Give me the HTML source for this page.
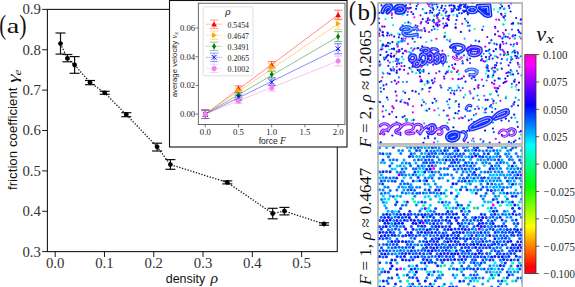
<!DOCTYPE html>
<html><head><meta charset="utf-8"><style>
html,body{margin:0;padding:0;background:#fff;}
body{width:575px;height:287px;overflow:hidden;position:relative;}
svg{position:absolute;left:0;top:0;}
</style></head><body>
<svg width="575" height="287" viewBox="0 0 575 287">
<rect x="47.4" y="9.4" width="289.90000000000003" height="242.2" fill="none" stroke="#1a1a1a" stroke-width="1.1"/>
<line x1="42.1" y1="9.40" x2="47.4" y2="9.40" stroke="#1a1a1a" stroke-width="1"/>
<text x="40.9" y="14.30" text-anchor="end" font-family='"Liberation Serif", serif' font-size="14.8" fill="#333">0.9</text>
<line x1="42.1" y1="49.77" x2="47.4" y2="49.77" stroke="#1a1a1a" stroke-width="1"/>
<text x="40.9" y="54.67" text-anchor="end" font-family='"Liberation Serif", serif' font-size="14.8" fill="#333">0.8</text>
<line x1="42.1" y1="90.14" x2="47.4" y2="90.14" stroke="#1a1a1a" stroke-width="1"/>
<text x="40.9" y="95.04" text-anchor="end" font-family='"Liberation Serif", serif' font-size="14.8" fill="#333">0.7</text>
<line x1="42.1" y1="130.51" x2="47.4" y2="130.51" stroke="#1a1a1a" stroke-width="1"/>
<text x="40.9" y="135.41" text-anchor="end" font-family='"Liberation Serif", serif' font-size="14.8" fill="#333">0.6</text>
<line x1="42.1" y1="170.88" x2="47.4" y2="170.88" stroke="#1a1a1a" stroke-width="1"/>
<text x="40.9" y="175.78" text-anchor="end" font-family='"Liberation Serif", serif' font-size="14.8" fill="#333">0.5</text>
<line x1="42.1" y1="211.25" x2="47.4" y2="211.25" stroke="#1a1a1a" stroke-width="1"/>
<text x="40.9" y="216.15" text-anchor="end" font-family='"Liberation Serif", serif' font-size="14.8" fill="#333">0.4</text>
<line x1="42.1" y1="251.62" x2="47.4" y2="251.62" stroke="#1a1a1a" stroke-width="1"/>
<text x="40.9" y="256.52" text-anchor="end" font-family='"Liberation Serif", serif' font-size="14.8" fill="#333">0.3</text>
<line x1="55.20" y1="251.6" x2="55.20" y2="257.0" stroke="#1a1a1a" stroke-width="1"/>
<text x="55.20" y="267.9" text-anchor="middle" font-family='"Liberation Serif", serif' font-size="14.8" fill="#333">0.0</text>
<line x1="104.48" y1="251.6" x2="104.48" y2="257.0" stroke="#1a1a1a" stroke-width="1"/>
<text x="104.48" y="267.9" text-anchor="middle" font-family='"Liberation Serif", serif' font-size="14.8" fill="#333">0.1</text>
<line x1="153.76" y1="251.6" x2="153.76" y2="257.0" stroke="#1a1a1a" stroke-width="1"/>
<text x="153.76" y="267.9" text-anchor="middle" font-family='"Liberation Serif", serif' font-size="14.8" fill="#333">0.2</text>
<line x1="203.04" y1="251.6" x2="203.04" y2="257.0" stroke="#1a1a1a" stroke-width="1"/>
<text x="203.04" y="267.9" text-anchor="middle" font-family='"Liberation Serif", serif' font-size="14.8" fill="#333">0.3</text>
<line x1="252.32" y1="251.6" x2="252.32" y2="257.0" stroke="#1a1a1a" stroke-width="1"/>
<text x="252.32" y="267.9" text-anchor="middle" font-family='"Liberation Serif", serif' font-size="14.8" fill="#333">0.4</text>
<line x1="301.60" y1="251.6" x2="301.60" y2="257.0" stroke="#1a1a1a" stroke-width="1"/>
<text x="301.60" y="267.9" text-anchor="middle" font-family='"Liberation Serif", serif' font-size="14.8" fill="#333">0.5</text>
<path d="M60.5,43.6 L67.4,58.3 L74.6,65.0 L90.0,82.4 L104.7,92.8 L126.3,114.7 L157.1,146.8 L170.4,164.6 L227.3,182.4 L272.7,213.5 L284.4,211.1 L324.1,224.0" fill="none" stroke="#111" stroke-width="1.3" stroke-dasharray="1.3 1.6"/>
<line x1="60.5" y1="33" x2="60.5" y2="54.1" stroke="#111" stroke-width="1.2"/>
<line x1="55.5" y1="33" x2="65.5" y2="33" stroke="#111" stroke-width="1.2"/>
<line x1="55.5" y1="54.1" x2="65.5" y2="54.1" stroke="#111" stroke-width="1.2"/>
<circle cx="60.5" cy="43.6" r="2.4" fill="#000"/>
<line x1="67.4" y1="54.5" x2="67.4" y2="61.8" stroke="#111" stroke-width="1.2"/>
<line x1="62.400000000000006" y1="54.5" x2="72.4" y2="54.5" stroke="#111" stroke-width="1.2"/>
<line x1="62.400000000000006" y1="61.8" x2="72.4" y2="61.8" stroke="#111" stroke-width="1.2"/>
<circle cx="67.4" cy="58.3" r="2.4" fill="#000"/>
<line x1="74.6" y1="56.6" x2="74.6" y2="73.3" stroke="#111" stroke-width="1.2"/>
<line x1="69.6" y1="56.6" x2="79.6" y2="56.6" stroke="#111" stroke-width="1.2"/>
<line x1="69.6" y1="73.3" x2="79.6" y2="73.3" stroke="#111" stroke-width="1.2"/>
<circle cx="74.6" cy="65.0" r="2.4" fill="#000"/>
<line x1="90.0" y1="80.5" x2="90.0" y2="84.7" stroke="#111" stroke-width="1.2"/>
<line x1="85.0" y1="80.5" x2="95.0" y2="80.5" stroke="#111" stroke-width="1.2"/>
<line x1="85.0" y1="84.7" x2="95.0" y2="84.7" stroke="#111" stroke-width="1.2"/>
<circle cx="90.0" cy="82.4" r="2.4" fill="#000"/>
<line x1="104.7" y1="91.3" x2="104.7" y2="94.3" stroke="#111" stroke-width="1.2"/>
<line x1="99.7" y1="91.3" x2="109.7" y2="91.3" stroke="#111" stroke-width="1.2"/>
<line x1="99.7" y1="94.3" x2="109.7" y2="94.3" stroke="#111" stroke-width="1.2"/>
<circle cx="104.7" cy="92.8" r="2.4" fill="#000"/>
<line x1="126.3" y1="112.7" x2="126.3" y2="116.7" stroke="#111" stroke-width="1.2"/>
<line x1="121.3" y1="112.7" x2="131.3" y2="112.7" stroke="#111" stroke-width="1.2"/>
<line x1="121.3" y1="116.7" x2="131.3" y2="116.7" stroke="#111" stroke-width="1.2"/>
<circle cx="126.3" cy="114.7" r="2.4" fill="#000"/>
<line x1="157.1" y1="143.2" x2="157.1" y2="151.0" stroke="#111" stroke-width="1.2"/>
<line x1="152.1" y1="143.2" x2="162.1" y2="143.2" stroke="#111" stroke-width="1.2"/>
<line x1="152.1" y1="151.0" x2="162.1" y2="151.0" stroke="#111" stroke-width="1.2"/>
<circle cx="157.1" cy="146.8" r="2.4" fill="#000"/>
<line x1="170.4" y1="159.6" x2="170.4" y2="169.3" stroke="#111" stroke-width="1.2"/>
<line x1="165.4" y1="159.6" x2="175.4" y2="159.6" stroke="#111" stroke-width="1.2"/>
<line x1="165.4" y1="169.3" x2="175.4" y2="169.3" stroke="#111" stroke-width="1.2"/>
<circle cx="170.4" cy="164.6" r="2.4" fill="#000"/>
<line x1="227.3" y1="180.9" x2="227.3" y2="183.9" stroke="#111" stroke-width="1.2"/>
<line x1="222.3" y1="180.9" x2="232.3" y2="180.9" stroke="#111" stroke-width="1.2"/>
<line x1="222.3" y1="183.9" x2="232.3" y2="183.9" stroke="#111" stroke-width="1.2"/>
<circle cx="227.3" cy="182.4" r="2.4" fill="#000"/>
<line x1="272.7" y1="208.3" x2="272.7" y2="218.8" stroke="#111" stroke-width="1.2"/>
<line x1="267.7" y1="208.3" x2="277.7" y2="208.3" stroke="#111" stroke-width="1.2"/>
<line x1="267.7" y1="218.8" x2="277.7" y2="218.8" stroke="#111" stroke-width="1.2"/>
<circle cx="272.7" cy="213.5" r="2.4" fill="#000"/>
<line x1="284.4" y1="207.4" x2="284.4" y2="214.9" stroke="#111" stroke-width="1.2"/>
<line x1="279.4" y1="207.4" x2="289.4" y2="207.4" stroke="#111" stroke-width="1.2"/>
<line x1="279.4" y1="214.9" x2="289.4" y2="214.9" stroke="#111" stroke-width="1.2"/>
<circle cx="284.4" cy="211.1" r="2.4" fill="#000"/>
<line x1="324.1" y1="222.8" x2="324.1" y2="225.2" stroke="#111" stroke-width="1.2"/>
<line x1="319.1" y1="222.8" x2="329.1" y2="222.8" stroke="#111" stroke-width="1.2"/>
<line x1="319.1" y1="225.2" x2="329.1" y2="225.2" stroke="#111" stroke-width="1.2"/>
<circle cx="324.1" cy="224.0" r="2.4" fill="#000"/>
<g transform="translate(165.702,283.300) scale(0.12460,0.12460)" fill="#111" ><text xml:space="preserve" x="0.00" y="0.00" font-family='"Liberation Sans", sans-serif' font-style="normal" font-size="100">density</text></g>
<g transform="translate(210.615,283.066) scale(0.15745,0.13971)" fill="#111" ><text xml:space="preserve" x="0.00" y="0.00" font-family='"Liberation Serif", serif' font-style="italic" font-size="100">ρ</text></g>
<g transform="translate(17.100,190.033) rotate(-90) scale(0.13329,0.13329)" fill="#111" ><text xml:space="preserve" x="0.00" y="0.00" font-family='"Liberation Sans", sans-serif' font-style="normal" font-size="100">friction coefficient</text></g>
<g transform="translate(17.966,82.935) rotate(-90) scale(0.21750,0.14925)" fill="#111" ><text xml:space="preserve" x="0.00" y="0.00" font-family='"Liberation Serif", serif' font-style="italic" font-size="100">γ</text></g>
<g transform="translate(20.590,75.500) rotate(-90) scale(0.13333,0.11042)" fill="#111" ><text xml:space="preserve" x="0.00" y="0.00" font-family='"Liberation Serif", serif' font-style="italic" font-size="100">e</text></g>
<g transform="translate(-0.831,34.100) scale(0.20769,0.26667)" fill="#111" ><text xml:space="preserve" x="0.00" y="0.00" font-family='"Liberation Serif", serif' font-style="normal" font-size="100">(</text></g>
<g transform="translate(6.672,32.683) scale(0.28205,0.21667)" fill="#111" ><text xml:space="preserve" x="0.00" y="0.00" font-family='"Liberation Serif", serif' font-style="normal" font-size="100">a</text></g>
<g transform="translate(19.242,34.100) scale(0.21923,0.26667)" fill="#111" ><text xml:space="preserve" x="0.00" y="0.00" font-family='"Liberation Serif", serif' font-style="normal" font-size="100">)</text></g>
<rect x="169.5" y="0.5" width="177.5" height="146.5" fill="#fff" stroke="#111" stroke-width="1.1"/>
<rect x="198.3" y="3.2" width="146.7" height="121.3" fill="none" stroke="#444" stroke-width="0.8"/>
<line x1="195.5" y1="114.10" x2="198.3" y2="114.10" stroke="#444" stroke-width="0.7"/>
<text x="195.1" y="117.05" text-anchor="end" font-family='"Liberation Serif", serif' font-size="8.7" fill="#222">0.00</text>
<line x1="195.5" y1="85.40" x2="198.3" y2="85.40" stroke="#444" stroke-width="0.7"/>
<text x="195.1" y="88.35" text-anchor="end" font-family='"Liberation Serif", serif' font-size="8.7" fill="#222">0.02</text>
<line x1="195.5" y1="56.70" x2="198.3" y2="56.70" stroke="#444" stroke-width="0.7"/>
<text x="195.1" y="59.65" text-anchor="end" font-family='"Liberation Serif", serif' font-size="8.7" fill="#222">0.04</text>
<line x1="195.5" y1="28.00" x2="198.3" y2="28.00" stroke="#444" stroke-width="0.7"/>
<text x="195.1" y="30.95" text-anchor="end" font-family='"Liberation Serif", serif' font-size="8.7" fill="#222">0.06</text>
<line x1="205.30" y1="124.5" x2="205.30" y2="127.3" stroke="#444" stroke-width="0.7"/>
<text x="205.30" y="134.7" text-anchor="middle" font-family='"Liberation Serif", serif' font-size="8.7" fill="#222">0.0</text>
<line x1="238.50" y1="124.5" x2="238.50" y2="127.3" stroke="#444" stroke-width="0.7"/>
<text x="238.50" y="134.7" text-anchor="middle" font-family='"Liberation Serif", serif' font-size="8.7" fill="#222">0.5</text>
<line x1="271.70" y1="124.5" x2="271.70" y2="127.3" stroke="#444" stroke-width="0.7"/>
<text x="271.70" y="134.7" text-anchor="middle" font-family='"Liberation Serif", serif' font-size="8.7" fill="#222">1.0</text>
<line x1="304.90" y1="124.5" x2="304.90" y2="127.3" stroke="#444" stroke-width="0.7"/>
<text x="304.90" y="134.7" text-anchor="middle" font-family='"Liberation Serif", serif' font-size="8.7" fill="#222">1.5</text>
<line x1="338.10" y1="124.5" x2="338.10" y2="127.3" stroke="#444" stroke-width="0.7"/>
<text x="338.10" y="134.7" text-anchor="middle" font-family='"Liberation Serif", serif' font-size="8.7" fill="#222">2.0</text>
<g transform="translate(258.715,143.900) scale(0.08522,0.08522)" fill="#222" ><text xml:space="preserve" x="0.00" y="0.00" font-family='"Liberation Sans", sans-serif' font-style="normal" font-size="100">force </text><text xml:space="preserve" x="250.08" y="0.00" font-family='"Liberation Serif", serif' font-style="italic" font-size="112">F</text></g>
<g transform="translate(176.500,97.212) rotate(-90) scale(0.07810,0.07810)" fill="#222" ><text xml:space="preserve" x="0.00" y="0.00" font-family='"Liberation Sans", sans-serif' font-style="normal" font-size="100">average velocity </text><text xml:space="preserve" x="750.34" y="0.00" font-family='"Liberation Serif", serif' font-style="italic" font-size="112">v</text><text xml:space="preserve" x="800.06" y="20.00" font-family='"Liberation Serif", serif' font-style="italic" font-size="80">x</text></g>
<line x1="205.3" y1="114.1" x2="338.1" y2="14.9" stroke="#ff0000" stroke-width="0.9" opacity="0.5"/>
<line x1="205.3" y1="114.1" x2="338.1" y2="23.8" stroke="#ffa500" stroke-width="0.9" opacity="0.5"/>
<line x1="205.3" y1="114.1" x2="338.1" y2="36.6" stroke="#008000" stroke-width="0.9" opacity="0.5"/>
<line x1="205.3" y1="114.1" x2="338.1" y2="48.8" stroke="#0000ff" stroke-width="0.9" opacity="0.5"/>
<line x1="205.3" y1="114.1" x2="338.1" y2="61.0" stroke="#ee82ee" stroke-width="0.9" opacity="0.5"/>
<g opacity="0.6"><line x1="205.3" y1="110.1" x2="205.3" y2="118.5" stroke="#ff0000" stroke-width="0.9"/><line x1="201.3" y1="110.1" x2="209.3" y2="110.1" stroke="#ff0000" stroke-width="0.9"/><line x1="201.3" y1="118.5" x2="209.3" y2="118.5" stroke="#ff0000" stroke-width="0.9"/></g>
<path d="M205.3,111.5 L208.10000000000002,116.53999999999999 L202.5,116.53999999999999Z" fill="#ff0000"/>
<g opacity="0.6"><line x1="238.5" y1="85.9" x2="238.5" y2="90.9" stroke="#ff0000" stroke-width="0.9"/><line x1="234.5" y1="85.9" x2="242.5" y2="85.9" stroke="#ff0000" stroke-width="0.9"/><line x1="234.5" y1="90.9" x2="242.5" y2="90.9" stroke="#ff0000" stroke-width="0.9"/></g>
<path d="M238.5,85.60000000000001 L241.3,90.64 L235.7,90.64Z" fill="#ff0000"/>
<g opacity="0.6"><line x1="271.70000000000005" y1="61.599999999999994" x2="271.70000000000005" y2="68.0" stroke="#ff0000" stroke-width="0.9"/><line x1="267.70000000000005" y1="61.599999999999994" x2="275.70000000000005" y2="61.599999999999994" stroke="#ff0000" stroke-width="0.9"/><line x1="267.70000000000005" y1="68.0" x2="275.70000000000005" y2="68.0" stroke="#ff0000" stroke-width="0.9"/></g>
<path d="M271.70000000000005,62.0 L274.50000000000006,67.03999999999999 L268.90000000000003,67.03999999999999Z" fill="#ff0000"/>
<g opacity="0.6"><line x1="338.1" y1="10.2" x2="338.1" y2="19.6" stroke="#ff0000" stroke-width="0.9"/><line x1="334.1" y1="10.2" x2="342.1" y2="10.2" stroke="#ff0000" stroke-width="0.9"/><line x1="334.1" y1="19.6" x2="342.1" y2="19.6" stroke="#ff0000" stroke-width="0.9"/></g>
<path d="M338.1,12.100000000000001 L340.90000000000003,17.14 L335.3,17.14Z" fill="#ff0000"/>
<g opacity="0.6"><line x1="205.3" y1="110.1" x2="205.3" y2="118.5" stroke="#ffa500" stroke-width="0.9"/><line x1="201.3" y1="110.1" x2="209.3" y2="110.1" stroke="#ffa500" stroke-width="0.9"/><line x1="201.3" y1="118.5" x2="209.3" y2="118.5" stroke="#ffa500" stroke-width="0.9"/></g>
<path d="M208.10000000000002,114.3 L203.06,117.1 L203.06,111.5Z" fill="#ffa500"/>
<g opacity="0.6"><line x1="238.5" y1="88.1" x2="238.5" y2="93.1" stroke="#ffa500" stroke-width="0.9"/><line x1="234.5" y1="88.1" x2="242.5" y2="88.1" stroke="#ffa500" stroke-width="0.9"/><line x1="234.5" y1="93.1" x2="242.5" y2="93.1" stroke="#ffa500" stroke-width="0.9"/></g>
<path d="M241.3,90.6 L236.26,93.39999999999999 L236.26,87.8Z" fill="#ffa500"/>
<g opacity="0.6"><line x1="271.70000000000005" y1="63.7" x2="271.70000000000005" y2="70.10000000000001" stroke="#ffa500" stroke-width="0.9"/><line x1="267.70000000000005" y1="63.7" x2="275.70000000000005" y2="63.7" stroke="#ffa500" stroke-width="0.9"/><line x1="267.70000000000005" y1="70.10000000000001" x2="275.70000000000005" y2="70.10000000000001" stroke="#ffa500" stroke-width="0.9"/></g>
<path d="M274.50000000000006,66.9 L269.46000000000004,69.7 L269.46000000000004,64.10000000000001Z" fill="#ffa500"/>
<g opacity="0.6"><line x1="338.1" y1="18.1" x2="338.1" y2="29.5" stroke="#ffa500" stroke-width="0.9"/><line x1="334.1" y1="18.1" x2="342.1" y2="18.1" stroke="#ffa500" stroke-width="0.9"/><line x1="334.1" y1="29.5" x2="342.1" y2="29.5" stroke="#ffa500" stroke-width="0.9"/></g>
<path d="M340.90000000000003,23.8 L335.86,26.6 L335.86,21.0Z" fill="#ffa500"/>
<g opacity="0.6"><line x1="205.3" y1="110.1" x2="205.3" y2="118.5" stroke="#008000" stroke-width="0.9"/><line x1="201.3" y1="110.1" x2="209.3" y2="110.1" stroke="#008000" stroke-width="0.9"/><line x1="201.3" y1="118.5" x2="209.3" y2="118.5" stroke="#008000" stroke-width="0.9"/></g>
<path d="M205.3,111.22 L207.26000000000002,114.3 L205.3,117.38 L203.34,114.3Z" fill="#008000"/>
<g opacity="0.6"><line x1="238.5" y1="92.6" x2="238.5" y2="97.6" stroke="#008000" stroke-width="0.9"/><line x1="234.5" y1="92.6" x2="242.5" y2="92.6" stroke="#008000" stroke-width="0.9"/><line x1="234.5" y1="97.6" x2="242.5" y2="97.6" stroke="#008000" stroke-width="0.9"/></g>
<path d="M238.5,92.02 L240.46,95.1 L238.5,98.17999999999999 L236.54,95.1Z" fill="#008000"/>
<g opacity="0.6"><line x1="271.70000000000005" y1="71.2" x2="271.70000000000005" y2="77.60000000000001" stroke="#008000" stroke-width="0.9"/><line x1="267.70000000000005" y1="71.2" x2="275.70000000000005" y2="71.2" stroke="#008000" stroke-width="0.9"/><line x1="267.70000000000005" y1="77.60000000000001" x2="275.70000000000005" y2="77.60000000000001" stroke="#008000" stroke-width="0.9"/></g>
<path d="M271.70000000000005,71.32000000000001 L273.66,74.4 L271.70000000000005,77.48 L269.74000000000007,74.4Z" fill="#008000"/>
<g opacity="0.6"><line x1="338.1" y1="31.6" x2="338.1" y2="41.6" stroke="#008000" stroke-width="0.9"/><line x1="334.1" y1="31.6" x2="342.1" y2="31.6" stroke="#008000" stroke-width="0.9"/><line x1="334.1" y1="41.6" x2="342.1" y2="41.6" stroke="#008000" stroke-width="0.9"/></g>
<path d="M338.1,33.52 L340.06,36.6 L338.1,39.68 L336.14000000000004,36.6Z" fill="#008000"/>
<g opacity="0.6"><line x1="205.3" y1="110.1" x2="205.3" y2="118.5" stroke="#0000ff" stroke-width="0.9"/><line x1="201.3" y1="110.1" x2="209.3" y2="110.1" stroke="#0000ff" stroke-width="0.9"/><line x1="201.3" y1="118.5" x2="209.3" y2="118.5" stroke="#0000ff" stroke-width="0.9"/></g>
<path d="M202.92000000000002,111.92 L207.68,116.67999999999999 M207.68,111.92 L202.92000000000002,116.67999999999999" stroke="#0000ff" stroke-width="1.0"/>
<g opacity="0.6"><line x1="238.5" y1="95.1" x2="238.5" y2="100.1" stroke="#0000ff" stroke-width="0.9"/><line x1="234.5" y1="95.1" x2="242.5" y2="95.1" stroke="#0000ff" stroke-width="0.9"/><line x1="234.5" y1="100.1" x2="242.5" y2="100.1" stroke="#0000ff" stroke-width="0.9"/></g>
<path d="M236.12,95.22 L240.88,99.97999999999999 M240.88,95.22 L236.12,99.97999999999999" stroke="#0000ff" stroke-width="1.0"/>
<g opacity="0.6"><line x1="271.70000000000005" y1="79.0" x2="271.70000000000005" y2="85.4" stroke="#0000ff" stroke-width="0.9"/><line x1="267.70000000000005" y1="79.0" x2="275.70000000000005" y2="79.0" stroke="#0000ff" stroke-width="0.9"/><line x1="267.70000000000005" y1="85.4" x2="275.70000000000005" y2="85.4" stroke="#0000ff" stroke-width="0.9"/></g>
<path d="M269.32000000000005,79.82000000000001 L274.08000000000004,84.58 M274.08000000000004,79.82000000000001 L269.32000000000005,84.58" stroke="#0000ff" stroke-width="1.0"/>
<g opacity="0.6"><line x1="338.1" y1="43.8" x2="338.1" y2="53.8" stroke="#0000ff" stroke-width="0.9"/><line x1="334.1" y1="43.8" x2="342.1" y2="43.8" stroke="#0000ff" stroke-width="0.9"/><line x1="334.1" y1="53.8" x2="342.1" y2="53.8" stroke="#0000ff" stroke-width="0.9"/></g>
<path d="M335.72,46.419999999999995 L340.48,51.18 M340.48,46.419999999999995 L335.72,51.18" stroke="#0000ff" stroke-width="1.0"/>
<g opacity="0.6"><line x1="205.3" y1="110.1" x2="205.3" y2="118.5" stroke="#ee82ee" stroke-width="0.9"/><line x1="201.3" y1="110.1" x2="209.3" y2="110.1" stroke="#ee82ee" stroke-width="0.9"/><line x1="201.3" y1="118.5" x2="209.3" y2="118.5" stroke="#ee82ee" stroke-width="0.9"/></g>
<circle cx="205.3" cy="114.3" r="2.52" fill="#ee82ee"/>
<g opacity="0.6"><line x1="238.5" y1="98.4" x2="238.5" y2="103.4" stroke="#ee82ee" stroke-width="0.9"/><line x1="234.5" y1="98.4" x2="242.5" y2="98.4" stroke="#ee82ee" stroke-width="0.9"/><line x1="234.5" y1="103.4" x2="242.5" y2="103.4" stroke="#ee82ee" stroke-width="0.9"/></g>
<circle cx="238.5" cy="100.9" r="2.52" fill="#ee82ee"/>
<g opacity="0.6"><line x1="271.70000000000005" y1="84.8" x2="271.70000000000005" y2="91.2" stroke="#ee82ee" stroke-width="0.9"/><line x1="267.70000000000005" y1="84.8" x2="275.70000000000005" y2="84.8" stroke="#ee82ee" stroke-width="0.9"/><line x1="267.70000000000005" y1="91.2" x2="275.70000000000005" y2="91.2" stroke="#ee82ee" stroke-width="0.9"/></g>
<circle cx="271.70000000000005" cy="88.0" r="2.52" fill="#ee82ee"/>
<g opacity="0.6"><line x1="338.1" y1="56.0" x2="338.1" y2="66.0" stroke="#ee82ee" stroke-width="0.9"/><line x1="334.1" y1="56.0" x2="342.1" y2="56.0" stroke="#ee82ee" stroke-width="0.9"/><line x1="334.1" y1="66.0" x2="342.1" y2="66.0" stroke="#ee82ee" stroke-width="0.9"/></g>
<circle cx="338.1" cy="61.0" r="2.52" fill="#ee82ee"/>
<rect x="203.2" y="6.8" width="49.8" height="69" rx="2" fill="#fff" fill-opacity="0.85" stroke="#d8d8d8" stroke-width="0.8"/>
<g transform="translate(225.126,15.400) scale(0.11277,0.11277)" fill="#222" ><text xml:space="preserve" x="0.00" y="0.00" font-family='"Liberation Serif", serif' font-style="italic" font-size="100">ρ</text></g>
<g opacity="0.45"><line x1="206.1" y1="24.2" x2="222.1" y2="24.2" stroke="#ff0000" stroke-width="0.9" stroke-dasharray="1.5 1"/><line x1="214.1" y1="20.0" x2="214.1" y2="28.4" stroke="#ff0000" stroke-width="0.9"/><line x1="209.79999999999998" y1="20.0" x2="218.4" y2="20.0" stroke="#ff0000" stroke-width="0.9"/><line x1="209.79999999999998" y1="28.4" x2="218.4" y2="28.4" stroke="#ff0000" stroke-width="0.9"/></g>
<path d="M214.1,21.4 L216.9,26.439999999999998 L211.29999999999998,26.439999999999998Z" fill="#ff0000"/>
<g transform="translate(227.488,27.500) scale(0.07807,0.07807)" fill="#222" ><text xml:space="preserve" x="0.00" y="0.00" font-family='"Liberation Serif", serif' font-style="normal" font-size="100">0.5454</text></g>
<g opacity="0.45"><line x1="206.1" y1="35.25" x2="222.1" y2="35.25" stroke="#ffa500" stroke-width="0.9" stroke-dasharray="1.5 1"/><line x1="214.1" y1="31.05" x2="214.1" y2="39.45" stroke="#ffa500" stroke-width="0.9"/><line x1="209.79999999999998" y1="31.05" x2="218.4" y2="31.05" stroke="#ffa500" stroke-width="0.9"/><line x1="209.79999999999998" y1="39.45" x2="218.4" y2="39.45" stroke="#ffa500" stroke-width="0.9"/></g>
<path d="M216.9,35.25 L211.85999999999999,38.05 L211.85999999999999,32.45Z" fill="#ffa500"/>
<g transform="translate(227.487,38.550) scale(0.07836,0.07836)" fill="#222" ><text xml:space="preserve" x="0.00" y="0.00" font-family='"Liberation Serif", serif' font-style="normal" font-size="100">0.4647</text></g>
<g opacity="0.45"><line x1="206.1" y1="46.3" x2="222.1" y2="46.3" stroke="#008000" stroke-width="0.9" stroke-dasharray="1.5 1"/><line x1="214.1" y1="42.099999999999994" x2="214.1" y2="50.5" stroke="#008000" stroke-width="0.9"/><line x1="209.79999999999998" y1="42.099999999999994" x2="218.4" y2="42.099999999999994" stroke="#008000" stroke-width="0.9"/><line x1="209.79999999999998" y1="50.5" x2="218.4" y2="50.5" stroke="#008000" stroke-width="0.9"/></g>
<path d="M214.1,43.22 L216.06,46.3 L214.1,49.379999999999995 L212.14,46.3Z" fill="#008000"/>
<g transform="translate(227.483,49.600) scale(0.07925,0.07925)" fill="#222" ><text xml:space="preserve" x="0.00" y="0.00" font-family='"Liberation Serif", serif' font-style="normal" font-size="100">0.3491</text></g>
<g opacity="0.45"><line x1="206.1" y1="57.35000000000001" x2="222.1" y2="57.35000000000001" stroke="#0000ff" stroke-width="0.9" stroke-dasharray="1.5 1"/><line x1="214.1" y1="53.150000000000006" x2="214.1" y2="61.55000000000001" stroke="#0000ff" stroke-width="0.9"/><line x1="209.79999999999998" y1="53.150000000000006" x2="218.4" y2="53.150000000000006" stroke="#0000ff" stroke-width="0.9"/><line x1="209.79999999999998" y1="61.55000000000001" x2="218.4" y2="61.55000000000001" stroke="#0000ff" stroke-width="0.9"/></g>
<path d="M211.72,54.970000000000006 L216.48,59.73000000000001 M216.48,54.970000000000006 L211.72,59.73000000000001" stroke="#0000ff" stroke-width="1.0"/>
<g transform="translate(227.485,60.650) scale(0.07865,0.07865)" fill="#222" ><text xml:space="preserve" x="0.00" y="0.00" font-family='"Liberation Serif", serif' font-style="normal" font-size="100">0.2065</text></g>
<g opacity="0.45"><line x1="206.1" y1="68.4" x2="222.1" y2="68.4" stroke="#ee82ee" stroke-width="0.9" stroke-dasharray="1.5 1"/><line x1="214.1" y1="64.2" x2="214.1" y2="72.60000000000001" stroke="#ee82ee" stroke-width="0.9"/><line x1="209.79999999999998" y1="64.2" x2="218.4" y2="64.2" stroke="#ee82ee" stroke-width="0.9"/><line x1="209.79999999999998" y1="72.60000000000001" x2="218.4" y2="72.60000000000001" stroke="#ee82ee" stroke-width="0.9"/></g>
<circle cx="214.1" cy="68.4" r="2.52" fill="#ee82ee"/>
<g transform="translate(227.483,71.700) scale(0.07925,0.07925)" fill="#222" ><text xml:space="preserve" x="0.00" y="0.00" font-family='"Liberation Serif", serif' font-style="normal" font-size="100">0.1002</text></g>
<g transform="translate(348.723,20.000) scale(0.21923,0.26667)" fill="#111" ><text xml:space="preserve" x="0.00" y="0.00" font-family='"Liberation Serif", serif' font-style="normal" font-size="100">(</text></g>
<g transform="translate(357.400,19.660) scale(0.25000,0.24000)" fill="#111" ><text xml:space="preserve" x="0.00" y="0.00" font-family='"Liberation Serif", serif' font-style="normal" font-size="100">b</text></g>
<g transform="translate(369.865,20.000) scale(0.21154,0.26667)" fill="#111" ><text xml:space="preserve" x="0.00" y="0.00" font-family='"Liberation Serif", serif' font-style="normal" font-size="100">)</text></g>
<rect x="378" y="3.0" width="144.3" height="141.0" fill="#fff" stroke="#aaa" stroke-width="1.4"/>
<rect x="378" y="146.2" width="144.3" height="145" fill="#fff" stroke="#aaa" stroke-width="1.4"/>
<defs><clipPath id="ctop"><rect x="378" y="2.5" width="144.4" height="141.5"/></clipPath><clipPath id="cbot"><rect x="378" y="146" width="144.4" height="145"/></clipPath></defs>
<g clip-path="url(#ctop)">
<circle cx="385.8" cy="6.1" r="1.1" fill="#cf00ff"/>
<circle cx="386.8" cy="3.9" r="1.1" fill="#0060ff"/>
<circle cx="378.9" cy="12.9" r="1.1" fill="#0300ff"/>
<circle cx="397.8" cy="5.5" r="1.1" fill="#0008ff"/>
<circle cx="393.1" cy="25.2" r="1.1" fill="#00ffea"/>
<circle cx="379.1" cy="23.1" r="1.1" fill="#1e00ff"/>
<circle cx="381.5" cy="5.3" r="1.1" fill="#0013ff"/>
<circle cx="392.0" cy="17.8" r="1.1" fill="#007fff"/>
<circle cx="391.1" cy="4.0" r="1.1" fill="#000dff"/>
<circle cx="388.3" cy="10.0" r="1.1" fill="#0097ff"/>
<circle cx="388.9" cy="9.7" r="1.1" fill="#8400ff"/>
<circle cx="391.8" cy="15.1" r="1.1" fill="#ff00f6"/>
<circle cx="395.5" cy="9.4" r="1.1" fill="#00ffd0"/>
<circle cx="396.2" cy="6.1" r="1.1" fill="#005bff"/>
<circle cx="378.9" cy="18.5" r="1.1" fill="#2c00ff"/>
<circle cx="385.5" cy="19.2" r="1.1" fill="#00e8ff"/>
<circle cx="391.9" cy="13.4" r="1.1" fill="#cd00ff"/>
<circle cx="417.9" cy="4.0" r="1.1" fill="#7c00ff"/>
<circle cx="417.5" cy="26.3" r="1.1" fill="#8600ff"/>
<circle cx="418.0" cy="3.0" r="1.1" fill="#0054ff"/>
<circle cx="406.0" cy="5.3" r="1.1" fill="#001aff"/>
<circle cx="407.9" cy="11.9" r="1.1" fill="#ff00f0"/>
<circle cx="403.9" cy="13.3" r="1.1" fill="#0049ff"/>
<circle cx="422.7" cy="9.2" r="1.1" fill="#0091ff"/>
<circle cx="410.6" cy="23.7" r="1.1" fill="#00ffbd"/>
<circle cx="407.6" cy="8.1" r="1.1" fill="#0061ff"/>
<circle cx="416.1" cy="8.8" r="1.1" fill="#0039ff"/>
<circle cx="415.6" cy="25.4" r="1.1" fill="#ab00ff"/>
<circle cx="414.4" cy="17.3" r="1.1" fill="#ff00fc"/>
<circle cx="420.7" cy="23.5" r="1.1" fill="#b900ff"/>
<circle cx="411.4" cy="12.1" r="1.1" fill="#0024ff"/>
<circle cx="403.6" cy="7.5" r="1.1" fill="#0025ff"/>
<circle cx="410.2" cy="3.8" r="1.1" fill="#0012ff"/>
<circle cx="410.7" cy="3.1" r="1.1" fill="#ff00d7"/>
<circle cx="416.7" cy="6.1" r="1.1" fill="#002fff"/>
<circle cx="404.9" cy="22.9" r="1.1" fill="#00ffd1"/>
<circle cx="413.2" cy="14.1" r="1.1" fill="#0002ff"/>
<circle cx="408.4" cy="22.4" r="1.1" fill="#0009ff"/>
<circle cx="402.6" cy="25.3" r="1.1" fill="#005aff"/>
<circle cx="402.6" cy="15.2" r="1.1" fill="#00ffdb"/>
<circle cx="422.7" cy="19.2" r="1.1" fill="#002aff"/>
<circle cx="420.5" cy="15.3" r="1.1" fill="#aa00ff"/>
<circle cx="409.9" cy="7.9" r="1.1" fill="#fe00ff"/>
<circle cx="421.3" cy="22.1" r="1.1" fill="#8700ff"/>
<circle cx="407.4" cy="14.9" r="1.1" fill="#0068ff"/>
<circle cx="408.7" cy="8.7" r="1.1" fill="#9400ff"/>
<circle cx="425.0" cy="13.2" r="1.1" fill="#00dbff"/>
<circle cx="410.8" cy="7.8" r="1.1" fill="#0022ff"/>
<circle cx="430.7" cy="7.4" r="1.1" fill="#0093ff"/>
<circle cx="437.5" cy="18.2" r="1.1" fill="#5300ff"/>
<circle cx="428.0" cy="18.4" r="1.1" fill="#ff00d9"/>
<circle cx="437.5" cy="6.8" r="1.1" fill="#3700ff"/>
<circle cx="434.0" cy="21.7" r="1.1" fill="#00ff85"/>
<circle cx="448.7" cy="19.9" r="1.1" fill="#0006ff"/>
<circle cx="429.0" cy="6.1" r="1.1" fill="#ff00dc"/>
<circle cx="445.8" cy="26.0" r="1.1" fill="#7400ff"/>
<circle cx="434.4" cy="15.7" r="1.1" fill="#4000ff"/>
<circle cx="441.6" cy="15.1" r="1.1" fill="#00ffb7"/>
<circle cx="436.4" cy="23.4" r="1.1" fill="#9c00ff"/>
<circle cx="433.0" cy="8.3" r="1.1" fill="#00afff"/>
<circle cx="432.2" cy="12.6" r="1.1" fill="#0000ff"/>
<circle cx="437.0" cy="16.5" r="1.1" fill="#ff00f0"/>
<circle cx="436.1" cy="24.5" r="1.1" fill="#0090ff"/>
<circle cx="426.4" cy="13.1" r="1.1" fill="#0024ff"/>
<circle cx="426.1" cy="21.7" r="1.1" fill="#0053ff"/>
<circle cx="439.4" cy="10.3" r="1.1" fill="#0067ff"/>
<circle cx="439.3" cy="21.3" r="1.1" fill="#0034ff"/>
<circle cx="432.6" cy="21.0" r="1.1" fill="#0077ff"/>
<circle cx="439.5" cy="20.7" r="1.1" fill="#f800ff"/>
<circle cx="438.1" cy="14.8" r="1.1" fill="#ac00ff"/>
<circle cx="436.9" cy="15.3" r="1.1" fill="#0047ff"/>
<circle cx="447.0" cy="25.1" r="1.1" fill="#002fff"/>
<circle cx="439.4" cy="25.1" r="1.1" fill="#a400ff"/>
<circle cx="436.6" cy="4.2" r="1.1" fill="#000eff"/>
<circle cx="427.8" cy="18.6" r="1.1" fill="#ab00ff"/>
<circle cx="443.2" cy="18.3" r="1.1" fill="#0028ff"/>
<circle cx="447.2" cy="25.7" r="1.1" fill="#0600ff"/>
<circle cx="437.7" cy="26.3" r="1.1" fill="#8100ff"/>
<circle cx="429.9" cy="12.9" r="1.1" fill="#0079ff"/>
<circle cx="433.6" cy="19.8" r="1.1" fill="#0008ff"/>
<circle cx="439.3" cy="13.1" r="1.1" fill="#0033ff"/>
<circle cx="438.3" cy="4.0" r="1.1" fill="#00ffe6"/>
<circle cx="444.9" cy="25.8" r="1.1" fill="#001dff"/>
<circle cx="444.7" cy="9.0" r="1.1" fill="#0012ff"/>
<circle cx="436.1" cy="24.4" r="1.1" fill="#9000ff"/>
<circle cx="448.1" cy="16.2" r="1.1" fill="#b100ff"/>
<circle cx="428.1" cy="3.9" r="1.1" fill="#7e00ff"/>
<circle cx="448.5" cy="17.7" r="1.1" fill="#9b00ff"/>
<circle cx="428.0" cy="23.0" r="1.1" fill="#0003ff"/>
<circle cx="434.1" cy="15.8" r="1.1" fill="#00ff83"/>
<circle cx="432.4" cy="5.6" r="1.1" fill="#006eff"/>
<circle cx="429.9" cy="3.7" r="1.1" fill="#000bff"/>
<circle cx="433.5" cy="9.8" r="1.1" fill="#8100ff"/>
<circle cx="430.3" cy="10.8" r="1.1" fill="#0c00ff"/>
<circle cx="432.0" cy="2.9" r="1.1" fill="#6f00ff"/>
<circle cx="437.4" cy="24.9" r="1.1" fill="#0023ff"/>
<circle cx="445.7" cy="12.9" r="1.1" fill="#0061ff"/>
<circle cx="438.2" cy="19.0" r="1.1" fill="#00ff82"/>
<circle cx="434.2" cy="22.5" r="1.1" fill="#6c00ff"/>
<circle cx="434.3" cy="3.8" r="1.1" fill="#0036ff"/>
<circle cx="427.7" cy="20.3" r="1.1" fill="#0014ff"/>
<circle cx="446.2" cy="23.4" r="1.1" fill="#a500ff"/>
<circle cx="432.8" cy="8.3" r="1.1" fill="#002fff"/>
<circle cx="436.7" cy="8.8" r="1.1" fill="#00ffb2"/>
<circle cx="449.3" cy="15.6" r="1.1" fill="#0100ff"/>
<circle cx="434.6" cy="2.5" r="1.1" fill="#0074ff"/>
<circle cx="437.4" cy="14.6" r="1.1" fill="#001fff"/>
<circle cx="432.3" cy="4.7" r="1.1" fill="#006fff"/>
<circle cx="427.0" cy="3.0" r="1.1" fill="#0017ff"/>
<circle cx="438.7" cy="20.5" r="1.1" fill="#db00ff"/>
<circle cx="443.2" cy="23.6" r="1.1" fill="#0094ff"/>
<circle cx="429.6" cy="19.9" r="1.1" fill="#0070ff"/>
<circle cx="427.1" cy="22.5" r="1.1" fill="#fd00ff"/>
<circle cx="445.5" cy="5.8" r="1.1" fill="#008fff"/>
<circle cx="438.1" cy="22.5" r="1.1" fill="#b300ff"/>
<circle cx="447.4" cy="18.9" r="1.1" fill="#5000ff"/>
<circle cx="431.5" cy="3.2" r="1.1" fill="#0026ff"/>
<circle cx="446.1" cy="15.9" r="1.1" fill="#00bcff"/>
<circle cx="465.0" cy="18.8" r="1.1" fill="#003dff"/>
<circle cx="468.0" cy="14.6" r="1.1" fill="#006eff"/>
<circle cx="465.8" cy="4.1" r="1.1" fill="#9100ff"/>
<circle cx="456.4" cy="20.0" r="1.1" fill="#000eff"/>
<circle cx="467.8" cy="25.9" r="1.1" fill="#0086ff"/>
<circle cx="466.4" cy="20.9" r="1.1" fill="#00aeff"/>
<circle cx="465.4" cy="4.4" r="1.1" fill="#001dff"/>
<circle cx="457.3" cy="16.1" r="1.1" fill="#1d00ff"/>
<circle cx="451.5" cy="9.0" r="1.1" fill="#7400ff"/>
<circle cx="457.0" cy="14.9" r="1.1" fill="#0096ff"/>
<circle cx="461.2" cy="5.3" r="1.1" fill="#ff00ca"/>
<circle cx="472.5" cy="2.9" r="1.1" fill="#0026ff"/>
<circle cx="469.7" cy="25.7" r="1.1" fill="#0071ff"/>
<circle cx="472.7" cy="7.6" r="1.1" fill="#00b1ff"/>
<circle cx="453.4" cy="15.1" r="1.1" fill="#00ffe7"/>
<circle cx="462.2" cy="23.8" r="1.1" fill="#de00ff"/>
<circle cx="455.6" cy="24.0" r="1.1" fill="#006dff"/>
<circle cx="461.8" cy="13.3" r="1.1" fill="#001bff"/>
<circle cx="453.4" cy="10.8" r="1.1" fill="#001bff"/>
<circle cx="468.0" cy="22.6" r="1.1" fill="#001dff"/>
<circle cx="496.2" cy="19.6" r="1.1" fill="#ff00e9"/>
<circle cx="483.4" cy="26.5" r="1.1" fill="#00a9ff"/>
<circle cx="482.7" cy="12.8" r="1.1" fill="#000cff"/>
<circle cx="494.0" cy="9.4" r="1.1" fill="#00ffb2"/>
<circle cx="504.0" cy="8.9" r="1.1" fill="#0065ff"/>
<circle cx="520.9" cy="23.7" r="1.1" fill="#c300ff"/>
<circle cx="513.1" cy="24.4" r="1.1" fill="#00ff62"/>
<circle cx="499.2" cy="20.1" r="1.1" fill="#007cff"/>
<circle cx="516.1" cy="18.0" r="1.1" fill="#3000ff"/>
<circle cx="501.1" cy="13.8" r="1.1" fill="#0004ff"/>
<circle cx="505.1" cy="20.2" r="1.1" fill="#00ffa7"/>
<circle cx="505.2" cy="15.9" r="1.1" fill="#0046ff"/>
<circle cx="502.0" cy="6.4" r="1.1" fill="#0600ff"/>
<circle cx="503.3" cy="24.3" r="1.1" fill="#00ff8c"/>
<circle cx="508.8" cy="5.9" r="1.1" fill="#0001ff"/>
<circle cx="500.2" cy="8.2" r="1.1" fill="#000bff"/>
<circle cx="511.7" cy="23.8" r="1.1" fill="#6100ff"/>
<circle cx="510.6" cy="11.5" r="1.1" fill="#0009ff"/>
<circle cx="499.5" cy="9.2" r="1.1" fill="#00ffd3"/>
<circle cx="513.1" cy="23.2" r="1.1" fill="#0100ff"/>
<circle cx="504.5" cy="8.5" r="1.1" fill="#00b0ff"/>
<circle cx="518.4" cy="23.4" r="1.1" fill="#0100ff"/>
<circle cx="498.8" cy="19.5" r="1.1" fill="#f800ff"/>
<circle cx="498.0" cy="11.9" r="1.1" fill="#00ffb6"/>
<circle cx="517.8" cy="23.0" r="1.1" fill="#00ffac"/>
<circle cx="501.7" cy="15.0" r="1.1" fill="#ac00ff"/>
<circle cx="520.6" cy="19.8" r="1.1" fill="#00c5ff"/>
<circle cx="511.2" cy="3.4" r="1.1" fill="#5400ff"/>
<circle cx="503.6" cy="24.6" r="1.1" fill="#00cfff"/>
<circle cx="504.0" cy="17.8" r="1.1" fill="#ad00ff"/>
<circle cx="500.7" cy="4.2" r="1.1" fill="#0087ff"/>
<circle cx="503.4" cy="16.9" r="1.1" fill="#002dff"/>
<circle cx="505.2" cy="13.6" r="1.1" fill="#00ff6e"/>
<circle cx="509.4" cy="8.1" r="1.1" fill="#0054ff"/>
<circle cx="521.1" cy="19.4" r="1.1" fill="#0d00ff"/>
<circle cx="394.2" cy="36.6" r="1.1" fill="#0016ff"/>
<circle cx="394.0" cy="48.7" r="1.1" fill="#0300ff"/>
<circle cx="388.1" cy="42.9" r="1.1" fill="#0015ff"/>
<circle cx="397.1" cy="44.2" r="1.1" fill="#005bff"/>
<circle cx="385.5" cy="46.2" r="1.1" fill="#3c00ff"/>
<circle cx="383.3" cy="44.8" r="1.1" fill="#0b00ff"/>
<circle cx="382.5" cy="31.9" r="1.1" fill="#0079ff"/>
<circle cx="394.0" cy="49.3" r="1.1" fill="#002fff"/>
<circle cx="401.4" cy="29.9" r="1.1" fill="#000dff"/>
<circle cx="379.4" cy="35.9" r="1.1" fill="#ff00c0"/>
<circle cx="401.9" cy="48.9" r="1.1" fill="#0041ff"/>
<circle cx="382.5" cy="49.0" r="1.1" fill="#e200ff"/>
<circle cx="387.1" cy="35.5" r="1.1" fill="#0012ff"/>
<circle cx="382.1" cy="26.6" r="1.1" fill="#004fff"/>
<circle cx="381.0" cy="49.6" r="1.1" fill="#2a00ff"/>
<circle cx="386.6" cy="46.2" r="1.1" fill="#8100ff"/>
<circle cx="389.4" cy="35.4" r="1.1" fill="#ff00de"/>
<circle cx="382.6" cy="35.2" r="1.1" fill="#ff00c6"/>
<circle cx="397.5" cy="44.9" r="1.1" fill="#0015ff"/>
<circle cx="378.8" cy="28.0" r="1.1" fill="#00ffa8"/>
<circle cx="399.6" cy="34.6" r="1.1" fill="#1e00ff"/>
<circle cx="401.0" cy="41.3" r="1.1" fill="#0022ff"/>
<circle cx="384.6" cy="26.6" r="1.1" fill="#6200ff"/>
<circle cx="400.0" cy="41.7" r="1.1" fill="#00ffce"/>
<circle cx="389.4" cy="49.5" r="1.1" fill="#00ffb1"/>
<circle cx="387.3" cy="32.5" r="1.1" fill="#00aeff"/>
<circle cx="382.4" cy="45.8" r="1.1" fill="#9700ff"/>
<circle cx="397.7" cy="45.0" r="1.1" fill="#00d7ff"/>
<circle cx="386.7" cy="45.3" r="1.1" fill="#0001ff"/>
<circle cx="382.7" cy="44.6" r="1.1" fill="#0013ff"/>
<circle cx="391.3" cy="34.3" r="1.1" fill="#00ffb0"/>
<circle cx="399.2" cy="50.2" r="1.1" fill="#000eff"/>
<circle cx="390.0" cy="43.5" r="1.1" fill="#0069ff"/>
<circle cx="383.6" cy="36.5" r="1.1" fill="#00e3ff"/>
<circle cx="398.3" cy="42.4" r="1.1" fill="#004fff"/>
<circle cx="398.2" cy="33.6" r="1.1" fill="#00f1ff"/>
<circle cx="382.8" cy="32.4" r="1.1" fill="#0d00ff"/>
<circle cx="381.7" cy="47.7" r="1.1" fill="#00d9ff"/>
<circle cx="401.8" cy="38.7" r="1.1" fill="#0300ff"/>
<circle cx="397.4" cy="42.2" r="1.1" fill="#00ffd7"/>
<circle cx="397.7" cy="46.7" r="1.1" fill="#ff00cf"/>
<circle cx="379.0" cy="33.5" r="1.1" fill="#0700ff"/>
<circle cx="392.0" cy="48.8" r="1.1" fill="#002aff"/>
<circle cx="398.8" cy="37.3" r="1.1" fill="#000dff"/>
<circle cx="380.5" cy="40.8" r="1.1" fill="#00ffe3"/>
<circle cx="383.2" cy="35.3" r="1.1" fill="#0014ff"/>
<circle cx="392.4" cy="42.1" r="1.1" fill="#0002ff"/>
<circle cx="378.3" cy="34.4" r="1.1" fill="#a500ff"/>
<circle cx="382.9" cy="45.6" r="1.1" fill="#0059ff"/>
<circle cx="379.5" cy="28.9" r="1.1" fill="#0094ff"/>
<circle cx="380.2" cy="30.4" r="1.1" fill="#7900ff"/>
<circle cx="387.8" cy="33.3" r="1.1" fill="#0100ff"/>
<circle cx="391.6" cy="35.1" r="1.1" fill="#0076ff"/>
<circle cx="398.7" cy="50.4" r="1.1" fill="#0060ff"/>
<circle cx="382.9" cy="26.6" r="1.1" fill="#ff00bf"/>
<circle cx="388.2" cy="46.2" r="1.1" fill="#0058ff"/>
<circle cx="405.9" cy="26.9" r="1.1" fill="#00e3ff"/>
<circle cx="417.4" cy="48.3" r="1.1" fill="#0034ff"/>
<circle cx="414.1" cy="30.0" r="1.1" fill="#0033ff"/>
<circle cx="414.5" cy="48.7" r="1.1" fill="#005aff"/>
<circle cx="425.2" cy="31.2" r="1.1" fill="#0018ff"/>
<circle cx="424.6" cy="49.9" r="1.1" fill="#0033ff"/>
<circle cx="411.3" cy="48.2" r="1.1" fill="#00afff"/>
<circle cx="421.8" cy="30.3" r="1.1" fill="#9b00ff"/>
<circle cx="422.3" cy="46.4" r="1.1" fill="#0700ff"/>
<circle cx="407.2" cy="36.1" r="1.1" fill="#0079ff"/>
<circle cx="407.9" cy="43.9" r="1.1" fill="#ff00d8"/>
<circle cx="403.0" cy="40.0" r="1.1" fill="#f800ff"/>
<circle cx="404.8" cy="40.9" r="1.1" fill="#00b9ff"/>
<circle cx="417.0" cy="33.8" r="1.1" fill="#0088ff"/>
<circle cx="417.8" cy="37.2" r="1.1" fill="#007dff"/>
<circle cx="402.6" cy="41.4" r="1.1" fill="#006bff"/>
<circle cx="420.7" cy="37.5" r="1.1" fill="#1f00ff"/>
<circle cx="413.4" cy="29.1" r="1.1" fill="#0029ff"/>
<circle cx="412.6" cy="38.7" r="1.1" fill="#0015ff"/>
<circle cx="417.3" cy="28.5" r="1.1" fill="#9d00ff"/>
<circle cx="403.3" cy="38.6" r="1.1" fill="#0090ff"/>
<circle cx="424.8" cy="29.8" r="1.1" fill="#ff00bf"/>
<circle cx="421.6" cy="31.1" r="1.1" fill="#00ffa9"/>
<circle cx="413.8" cy="49.5" r="1.1" fill="#ff00c9"/>
<circle cx="424.3" cy="28.1" r="1.1" fill="#0045ff"/>
<circle cx="420.1" cy="30.3" r="1.1" fill="#ff00ea"/>
<circle cx="405.4" cy="38.6" r="1.1" fill="#ff00bf"/>
<circle cx="407.0" cy="32.8" r="1.1" fill="#0072ff"/>
<circle cx="406.4" cy="30.4" r="1.1" fill="#00ffb7"/>
<circle cx="418.3" cy="48.0" r="1.1" fill="#0018ff"/>
<circle cx="414.7" cy="41.8" r="1.1" fill="#007cff"/>
<circle cx="447.0" cy="39.8" r="1.1" fill="#00bdff"/>
<circle cx="449.8" cy="41.6" r="1.1" fill="#0078ff"/>
<circle cx="445.1" cy="32.9" r="1.1" fill="#00ff83"/>
<circle cx="444.4" cy="37.1" r="1.1" fill="#002bff"/>
<circle cx="443.8" cy="27.7" r="1.1" fill="#9000ff"/>
<circle cx="449.6" cy="40.6" r="1.1" fill="#e100ff"/>
<circle cx="433.5" cy="26.5" r="1.1" fill="#0100ff"/>
<circle cx="436.4" cy="38.8" r="1.1" fill="#ff00c3"/>
<circle cx="429.2" cy="32.0" r="1.1" fill="#9500ff"/>
<circle cx="434.5" cy="29.1" r="1.1" fill="#006fff"/>
<circle cx="431.4" cy="40.5" r="1.1" fill="#00bbff"/>
<circle cx="437.4" cy="29.7" r="1.1" fill="#00ffec"/>
<circle cx="431.8" cy="30.1" r="1.1" fill="#0049ff"/>
<circle cx="444.8" cy="36.1" r="1.1" fill="#0051ff"/>
<circle cx="426.3" cy="42.0" r="1.1" fill="#00e6ff"/>
<circle cx="436.7" cy="49.0" r="1.1" fill="#d200ff"/>
<circle cx="432.0" cy="48.2" r="1.1" fill="#003eff"/>
<circle cx="455.7" cy="27.9" r="1.1" fill="#8600ff"/>
<circle cx="450.3" cy="39.7" r="1.1" fill="#00ffbf"/>
<circle cx="464.6" cy="38.7" r="1.1" fill="#00b7ff"/>
<circle cx="469.5" cy="30.7" r="1.1" fill="#001fff"/>
<circle cx="471.3" cy="45.3" r="1.1" fill="#a200ff"/>
<circle cx="450.2" cy="46.8" r="1.1" fill="#3800ff"/>
<circle cx="460.9" cy="31.9" r="1.1" fill="#000fff"/>
<circle cx="455.6" cy="27.4" r="1.1" fill="#001cff"/>
<circle cx="494.3" cy="43.6" r="1.1" fill="#0051ff"/>
<circle cx="487.3" cy="37.0" r="1.1" fill="#6600ff"/>
<circle cx="489.4" cy="49.7" r="1.1" fill="#0020ff"/>
<circle cx="495.1" cy="26.9" r="1.1" fill="#0017ff"/>
<circle cx="496.7" cy="44.4" r="1.1" fill="#1d00ff"/>
<circle cx="495.1" cy="34.4" r="1.1" fill="#0d00ff"/>
<circle cx="490.6" cy="42.5" r="1.1" fill="#00ff86"/>
<circle cx="485.3" cy="46.7" r="1.1" fill="#b700ff"/>
<circle cx="491.4" cy="40.2" r="1.1" fill="#0039ff"/>
<circle cx="479.1" cy="41.4" r="1.1" fill="#000bff"/>
<circle cx="474.6" cy="29.1" r="1.1" fill="#00ff9d"/>
<circle cx="482.3" cy="29.9" r="1.1" fill="#1800ff"/>
<circle cx="489.2" cy="43.2" r="1.1" fill="#a800ff"/>
<circle cx="475.6" cy="40.7" r="1.1" fill="#005aff"/>
<circle cx="495.4" cy="28.1" r="1.1" fill="#ed00ff"/>
<circle cx="495.9" cy="49.2" r="1.1" fill="#0017ff"/>
<circle cx="474.8" cy="46.8" r="1.1" fill="#ab00ff"/>
<circle cx="513.2" cy="46.3" r="1.1" fill="#00cdff"/>
<circle cx="500.3" cy="44.7" r="1.1" fill="#000cff"/>
<circle cx="505.7" cy="36.7" r="1.1" fill="#001dff"/>
<circle cx="515.2" cy="35.3" r="1.1" fill="#0000ff"/>
<circle cx="521.1" cy="38.6" r="1.1" fill="#ff00e7"/>
<circle cx="507.9" cy="37.0" r="1.1" fill="#8800ff"/>
<circle cx="506.3" cy="43.4" r="1.1" fill="#0063ff"/>
<circle cx="500.2" cy="46.2" r="1.1" fill="#2800ff"/>
<circle cx="498.0" cy="31.3" r="1.1" fill="#9700ff"/>
<circle cx="509.8" cy="38.3" r="1.1" fill="#9100ff"/>
<circle cx="502.4" cy="38.4" r="1.1" fill="#000eff"/>
<circle cx="520.7" cy="33.3" r="1.1" fill="#0033ff"/>
<circle cx="514.8" cy="38.5" r="1.1" fill="#0025ff"/>
<circle cx="516.9" cy="43.2" r="1.1" fill="#8000ff"/>
<circle cx="513.1" cy="35.0" r="1.1" fill="#009dff"/>
<circle cx="500.1" cy="47.8" r="1.1" fill="#1100ff"/>
<circle cx="502.9" cy="32.8" r="1.1" fill="#ff00fd"/>
<circle cx="519.2" cy="32.1" r="1.1" fill="#006fff"/>
<circle cx="510.8" cy="44.6" r="1.1" fill="#7200ff"/>
<circle cx="505.8" cy="30.2" r="1.1" fill="#6900ff"/>
<circle cx="513.9" cy="44.3" r="1.1" fill="#0053ff"/>
<circle cx="511.9" cy="29.5" r="1.1" fill="#005dff"/>
<circle cx="519.2" cy="32.2" r="1.1" fill="#002dff"/>
<circle cx="518.2" cy="30.2" r="1.1" fill="#1700ff"/>
<circle cx="503.9" cy="34.3" r="1.1" fill="#0062ff"/>
<circle cx="502.5" cy="49.9" r="1.1" fill="#bb00ff"/>
<circle cx="500.4" cy="49.6" r="1.1" fill="#0066ff"/>
<circle cx="517.1" cy="44.1" r="1.1" fill="#003aff"/>
<circle cx="502.7" cy="41.8" r="1.1" fill="#0012ff"/>
<circle cx="498.8" cy="36.1" r="1.1" fill="#c600ff"/>
<circle cx="514.6" cy="38.5" r="1.1" fill="#00dcff"/>
<circle cx="512.5" cy="36.2" r="1.1" fill="#9900ff"/>
<circle cx="519.8" cy="36.8" r="1.1" fill="#00c9ff"/>
<circle cx="503.5" cy="43.8" r="1.1" fill="#ff00ff"/>
<circle cx="516.6" cy="43.3" r="1.1" fill="#ff00f3"/>
<circle cx="508.9" cy="34.0" r="1.1" fill="#00f6ff"/>
<circle cx="500.3" cy="36.6" r="1.1" fill="#8000ff"/>
<circle cx="504.0" cy="36.7" r="1.1" fill="#0095ff"/>
<circle cx="512.9" cy="36.3" r="1.1" fill="#b100ff"/>
<circle cx="393.7" cy="69.2" r="1.1" fill="#0076ff"/>
<circle cx="389.8" cy="73.9" r="1.1" fill="#002fff"/>
<circle cx="396.8" cy="73.1" r="1.1" fill="#0073ff"/>
<circle cx="380.4" cy="64.3" r="1.1" fill="#0076ff"/>
<circle cx="393.3" cy="70.4" r="1.1" fill="#008fff"/>
<circle cx="387.8" cy="73.3" r="1.1" fill="#002aff"/>
<circle cx="396.3" cy="53.4" r="1.1" fill="#00ff7f"/>
<circle cx="386.5" cy="51.9" r="1.1" fill="#0020ff"/>
<circle cx="388.0" cy="60.6" r="1.1" fill="#9700ff"/>
<circle cx="386.5" cy="56.9" r="1.1" fill="#0020ff"/>
<circle cx="390.6" cy="55.8" r="1.1" fill="#0e00ff"/>
<circle cx="387.4" cy="55.6" r="1.1" fill="#0011ff"/>
<circle cx="393.2" cy="61.8" r="1.1" fill="#00fff7"/>
<circle cx="383.4" cy="73.6" r="1.1" fill="#0090ff"/>
<circle cx="397.6" cy="61.7" r="1.1" fill="#004dff"/>
<circle cx="391.2" cy="53.5" r="1.1" fill="#4f00ff"/>
<circle cx="384.4" cy="59.5" r="1.1" fill="#1a00ff"/>
<circle cx="388.2" cy="55.0" r="1.1" fill="#0021ff"/>
<circle cx="383.9" cy="57.7" r="1.1" fill="#0085ff"/>
<circle cx="388.3" cy="65.8" r="1.1" fill="#3f00ff"/>
<circle cx="398.5" cy="51.9" r="1.1" fill="#f200ff"/>
<circle cx="399.7" cy="69.3" r="1.1" fill="#0004ff"/>
<circle cx="378.4" cy="50.8" r="1.1" fill="#00ff70"/>
<circle cx="393.7" cy="56.5" r="1.1" fill="#000cff"/>
<circle cx="396.6" cy="58.8" r="1.1" fill="#0008ff"/>
<circle cx="399.7" cy="69.5" r="1.1" fill="#0900ff"/>
<circle cx="396.8" cy="66.5" r="1.1" fill="#ff00fa"/>
<circle cx="396.9" cy="70.6" r="1.1" fill="#002bff"/>
<circle cx="395.8" cy="61.0" r="1.1" fill="#fc00ff"/>
<circle cx="391.3" cy="56.8" r="1.1" fill="#0002ff"/>
<circle cx="379.4" cy="61.7" r="1.1" fill="#0300ff"/>
<circle cx="389.8" cy="62.5" r="1.1" fill="#006dff"/>
<circle cx="398.2" cy="61.7" r="1.1" fill="#00ccff"/>
<circle cx="394.0" cy="70.7" r="1.1" fill="#00acff"/>
<circle cx="379.8" cy="65.8" r="1.1" fill="#009eff"/>
<circle cx="378.7" cy="65.1" r="1.1" fill="#bf00ff"/>
<circle cx="401.6" cy="62.8" r="1.1" fill="#0079ff"/>
<circle cx="399.5" cy="51.3" r="1.1" fill="#6e00ff"/>
<circle cx="398.7" cy="59.3" r="1.1" fill="#0081ff"/>
<circle cx="390.6" cy="69.0" r="1.1" fill="#003dff"/>
<circle cx="391.3" cy="70.3" r="1.1" fill="#000dff"/>
<circle cx="397.9" cy="60.2" r="1.1" fill="#0073ff"/>
<circle cx="401.4" cy="66.2" r="1.1" fill="#d300ff"/>
<circle cx="385.9" cy="58.1" r="1.1" fill="#0046ff"/>
<circle cx="396.8" cy="51.5" r="1.1" fill="#6900ff"/>
<circle cx="399.3" cy="63.6" r="1.1" fill="#001dff"/>
<circle cx="382.6" cy="72.6" r="1.1" fill="#00c5ff"/>
<circle cx="393.8" cy="69.4" r="1.1" fill="#ff00ff"/>
<circle cx="393.0" cy="67.2" r="1.1" fill="#00e8ff"/>
<circle cx="394.3" cy="55.6" r="1.1" fill="#3700ff"/>
<circle cx="380.4" cy="54.9" r="1.1" fill="#000cff"/>
<circle cx="396.6" cy="72.4" r="1.1" fill="#4b00ff"/>
<circle cx="396.9" cy="64.0" r="1.1" fill="#1400ff"/>
<circle cx="409.2" cy="60.6" r="1.1" fill="#0049ff"/>
<circle cx="424.4" cy="51.8" r="1.1" fill="#00b4ff"/>
<circle cx="402.9" cy="53.4" r="1.1" fill="#2300ff"/>
<circle cx="412.7" cy="50.8" r="1.1" fill="#008bff"/>
<circle cx="416.2" cy="73.0" r="1.1" fill="#00ff7a"/>
<circle cx="404.4" cy="66.0" r="1.1" fill="#0016ff"/>
<circle cx="405.6" cy="50.9" r="1.1" fill="#0023ff"/>
<circle cx="425.2" cy="52.6" r="1.1" fill="#ff00ef"/>
<circle cx="405.1" cy="50.9" r="1.1" fill="#9600ff"/>
<circle cx="406.5" cy="51.7" r="1.1" fill="#ec00ff"/>
<circle cx="419.1" cy="71.0" r="1.1" fill="#d500ff"/>
<circle cx="419.0" cy="61.6" r="1.1" fill="#00ffcd"/>
<circle cx="408.1" cy="73.6" r="1.1" fill="#9b00ff"/>
<circle cx="417.6" cy="70.1" r="1.1" fill="#001bff"/>
<circle cx="409.5" cy="68.0" r="1.1" fill="#0002ff"/>
<circle cx="403.4" cy="59.3" r="1.1" fill="#00e8ff"/>
<circle cx="412.5" cy="66.7" r="1.1" fill="#0012ff"/>
<circle cx="417.5" cy="65.6" r="1.1" fill="#0088ff"/>
<circle cx="411.3" cy="69.4" r="1.1" fill="#00ffb9"/>
<circle cx="409.0" cy="52.0" r="1.1" fill="#00ff6f"/>
<circle cx="418.9" cy="70.4" r="1.1" fill="#0067ff"/>
<circle cx="422.0" cy="64.9" r="1.1" fill="#0057ff"/>
<circle cx="412.3" cy="71.8" r="1.1" fill="#007eff"/>
<circle cx="423.5" cy="69.9" r="1.1" fill="#0047ff"/>
<circle cx="402.0" cy="56.8" r="1.1" fill="#009aff"/>
<circle cx="423.3" cy="51.5" r="1.1" fill="#5d00ff"/>
<circle cx="421.5" cy="71.3" r="1.1" fill="#00d3ff"/>
<circle cx="421.4" cy="66.9" r="1.1" fill="#ff00bf"/>
<circle cx="410.3" cy="52.5" r="1.1" fill="#00c2ff"/>
<circle cx="420.0" cy="72.9" r="1.1" fill="#0032ff"/>
<circle cx="416.6" cy="66.8" r="1.1" fill="#0069ff"/>
<circle cx="420.0" cy="69.5" r="1.1" fill="#005aff"/>
<circle cx="404.1" cy="69.9" r="1.1" fill="#9900ff"/>
<circle cx="423.5" cy="71.7" r="1.1" fill="#004bff"/>
<circle cx="413.4" cy="64.6" r="1.1" fill="#0014ff"/>
<circle cx="418.8" cy="59.2" r="1.1" fill="#00b4ff"/>
<circle cx="411.7" cy="62.9" r="1.1" fill="#5600ff"/>
<circle cx="411.0" cy="53.0" r="1.1" fill="#00a8ff"/>
<circle cx="420.9" cy="54.2" r="1.1" fill="#00e1ff"/>
<circle cx="426.5" cy="51.3" r="1.1" fill="#00ffdb"/>
<circle cx="446.8" cy="62.2" r="1.1" fill="#00cdff"/>
<circle cx="436.2" cy="73.2" r="1.1" fill="#f200ff"/>
<circle cx="445.7" cy="73.6" r="1.1" fill="#0005ff"/>
<circle cx="430.3" cy="52.5" r="1.1" fill="#0016ff"/>
<circle cx="439.4" cy="71.4" r="1.1" fill="#0035ff"/>
<circle cx="427.5" cy="64.9" r="1.1" fill="#0083ff"/>
<circle cx="428.9" cy="73.5" r="1.1" fill="#0049ff"/>
<circle cx="449.0" cy="66.6" r="1.1" fill="#007eff"/>
<circle cx="436.8" cy="54.3" r="1.1" fill="#00ffcd"/>
<circle cx="426.9" cy="56.6" r="1.1" fill="#0070ff"/>
<circle cx="447.7" cy="72.2" r="1.1" fill="#ef00ff"/>
<circle cx="443.0" cy="66.0" r="1.1" fill="#00ffc4"/>
<circle cx="427.3" cy="54.0" r="1.1" fill="#df00ff"/>
<circle cx="433.2" cy="64.7" r="1.1" fill="#7300ff"/>
<circle cx="428.5" cy="58.3" r="1.1" fill="#0100ff"/>
<circle cx="430.0" cy="56.2" r="1.1" fill="#0000ff"/>
<circle cx="442.3" cy="50.8" r="1.1" fill="#9700ff"/>
<circle cx="448.3" cy="55.8" r="1.1" fill="#00ffb8"/>
<circle cx="446.8" cy="71.8" r="1.1" fill="#002bff"/>
<circle cx="448.3" cy="70.7" r="1.1" fill="#00c4ff"/>
<circle cx="436.9" cy="58.7" r="1.1" fill="#4400ff"/>
<circle cx="429.4" cy="55.8" r="1.1" fill="#0015ff"/>
<circle cx="443.1" cy="63.8" r="1.1" fill="#0009ff"/>
<circle cx="435.9" cy="54.2" r="1.1" fill="#0030ff"/>
<circle cx="470.1" cy="58.5" r="1.1" fill="#003aff"/>
<circle cx="471.7" cy="53.2" r="1.1" fill="#00ffae"/>
<circle cx="451.4" cy="72.0" r="1.1" fill="#a100ff"/>
<circle cx="456.9" cy="56.7" r="1.1" fill="#0b00ff"/>
<circle cx="458.7" cy="74.3" r="1.1" fill="#00ffbf"/>
<circle cx="456.9" cy="72.0" r="1.1" fill="#0023ff"/>
<circle cx="467.4" cy="57.5" r="1.1" fill="#00fcff"/>
<circle cx="458.2" cy="53.9" r="1.1" fill="#0015ff"/>
<circle cx="470.0" cy="63.1" r="1.1" fill="#0062ff"/>
<circle cx="455.2" cy="64.2" r="1.1" fill="#0300ff"/>
<circle cx="454.3" cy="69.0" r="1.1" fill="#9900ff"/>
<circle cx="452.1" cy="65.1" r="1.1" fill="#0064ff"/>
<circle cx="456.6" cy="55.4" r="1.1" fill="#00daff"/>
<circle cx="464.0" cy="55.4" r="1.1" fill="#0059ff"/>
<circle cx="467.6" cy="60.3" r="1.1" fill="#f100ff"/>
<circle cx="458.0" cy="70.7" r="1.1" fill="#ff00d1"/>
<circle cx="461.8" cy="50.9" r="1.1" fill="#e500ff"/>
<circle cx="456.4" cy="55.0" r="1.1" fill="#a200ff"/>
<circle cx="458.8" cy="54.4" r="1.1" fill="#0071ff"/>
<circle cx="462.5" cy="61.2" r="1.1" fill="#0070ff"/>
<circle cx="452.9" cy="67.7" r="1.1" fill="#b200ff"/>
<circle cx="467.1" cy="59.7" r="1.1" fill="#6d00ff"/>
<circle cx="451.5" cy="71.4" r="1.1" fill="#00ff72"/>
<circle cx="462.7" cy="63.4" r="1.1" fill="#001aff"/>
<circle cx="473.2" cy="55.9" r="1.1" fill="#0007ff"/>
<circle cx="493.6" cy="51.2" r="1.1" fill="#000cff"/>
<circle cx="490.8" cy="55.2" r="1.1" fill="#0041ff"/>
<circle cx="486.5" cy="67.4" r="1.1" fill="#0036ff"/>
<circle cx="494.9" cy="67.7" r="1.1" fill="#0100ff"/>
<circle cx="486.0" cy="57.2" r="1.1" fill="#0100ff"/>
<circle cx="483.7" cy="53.8" r="1.1" fill="#00bcff"/>
<circle cx="487.7" cy="68.4" r="1.1" fill="#002bff"/>
<circle cx="493.8" cy="73.0" r="1.1" fill="#009dff"/>
<circle cx="486.6" cy="60.0" r="1.1" fill="#00ffd7"/>
<circle cx="492.6" cy="58.6" r="1.1" fill="#002fff"/>
<circle cx="497.5" cy="69.8" r="1.1" fill="#ff00c8"/>
<circle cx="493.6" cy="70.8" r="1.1" fill="#0072ff"/>
<circle cx="496.4" cy="56.5" r="1.1" fill="#0076ff"/>
<circle cx="489.2" cy="59.2" r="1.1" fill="#0054ff"/>
<circle cx="486.1" cy="51.0" r="1.1" fill="#000cff"/>
<circle cx="497.3" cy="69.1" r="1.1" fill="#00ff71"/>
<circle cx="495.2" cy="71.7" r="1.1" fill="#004bff"/>
<circle cx="489.4" cy="56.9" r="1.1" fill="#8700ff"/>
<circle cx="496.2" cy="65.4" r="1.1" fill="#0f00ff"/>
<circle cx="486.5" cy="60.9" r="1.1" fill="#00ffa2"/>
<circle cx="489.5" cy="53.4" r="1.1" fill="#00acff"/>
<circle cx="496.9" cy="62.8" r="1.1" fill="#0046ff"/>
<circle cx="477.6" cy="53.5" r="1.1" fill="#0013ff"/>
<circle cx="481.0" cy="60.3" r="1.1" fill="#001bff"/>
<circle cx="487.1" cy="70.7" r="1.1" fill="#00baff"/>
<circle cx="487.7" cy="66.1" r="1.1" fill="#0025ff"/>
<circle cx="487.2" cy="65.2" r="1.1" fill="#008dff"/>
<circle cx="481.5" cy="56.3" r="1.1" fill="#003eff"/>
<circle cx="488.1" cy="50.8" r="1.1" fill="#0071ff"/>
<circle cx="494.7" cy="56.2" r="1.1" fill="#00e5ff"/>
<circle cx="497.7" cy="57.6" r="1.1" fill="#9400ff"/>
<circle cx="477.8" cy="52.1" r="1.1" fill="#ff00eb"/>
<circle cx="483.3" cy="61.1" r="1.1" fill="#9900ff"/>
<circle cx="476.6" cy="55.9" r="1.1" fill="#00ffa9"/>
<circle cx="482.1" cy="59.0" r="1.1" fill="#7100ff"/>
<circle cx="488.8" cy="70.9" r="1.1" fill="#3700ff"/>
<circle cx="491.8" cy="68.7" r="1.1" fill="#0074ff"/>
<circle cx="492.8" cy="67.5" r="1.1" fill="#ff00bf"/>
<circle cx="474.1" cy="68.9" r="1.1" fill="#0097ff"/>
<circle cx="485.9" cy="73.6" r="1.1" fill="#00feff"/>
<circle cx="494.9" cy="65.1" r="1.1" fill="#0057ff"/>
<circle cx="484.9" cy="61.5" r="1.1" fill="#8300ff"/>
<circle cx="511.3" cy="59.7" r="1.1" fill="#0600ff"/>
<circle cx="516.9" cy="70.9" r="1.1" fill="#007fff"/>
<circle cx="505.3" cy="54.0" r="1.1" fill="#00c1ff"/>
<circle cx="512.0" cy="52.6" r="1.1" fill="#00ff82"/>
<circle cx="518.1" cy="73.5" r="1.1" fill="#2000ff"/>
<circle cx="508.2" cy="72.4" r="1.1" fill="#0f00ff"/>
<circle cx="509.9" cy="72.6" r="1.1" fill="#a700ff"/>
<circle cx="510.9" cy="74.5" r="1.1" fill="#0099ff"/>
<circle cx="507.3" cy="59.1" r="1.1" fill="#00cfff"/>
<circle cx="506.4" cy="73.2" r="1.1" fill="#7900ff"/>
<circle cx="507.0" cy="60.1" r="1.1" fill="#00cbff"/>
<circle cx="511.8" cy="71.6" r="1.1" fill="#00ff78"/>
<circle cx="513.0" cy="74.4" r="1.1" fill="#0019ff"/>
<circle cx="510.7" cy="70.1" r="1.1" fill="#0044ff"/>
<circle cx="517.8" cy="62.8" r="1.1" fill="#3c00ff"/>
<circle cx="519.5" cy="67.1" r="1.1" fill="#ff00f9"/>
<circle cx="508.1" cy="54.3" r="1.1" fill="#0020ff"/>
<circle cx="510.3" cy="62.6" r="1.1" fill="#0008ff"/>
<circle cx="512.5" cy="59.0" r="1.1" fill="#00ffe9"/>
<circle cx="513.3" cy="51.5" r="1.1" fill="#0069ff"/>
<circle cx="514.6" cy="50.6" r="1.1" fill="#0039ff"/>
<circle cx="518.2" cy="64.6" r="1.1" fill="#a700ff"/>
<circle cx="511.3" cy="56.9" r="1.1" fill="#00a3ff"/>
<circle cx="510.8" cy="74.4" r="1.1" fill="#00d8ff"/>
<circle cx="501.8" cy="68.7" r="1.1" fill="#0012ff"/>
<circle cx="500.4" cy="54.6" r="1.1" fill="#005eff"/>
<circle cx="517.4" cy="52.0" r="1.1" fill="#0047ff"/>
<circle cx="516.5" cy="58.2" r="1.1" fill="#7d00ff"/>
<circle cx="504.4" cy="52.9" r="1.1" fill="#ff00d4"/>
<circle cx="512.0" cy="58.9" r="1.1" fill="#0076ff"/>
<circle cx="519.4" cy="64.5" r="1.1" fill="#00ffb6"/>
<circle cx="508.6" cy="65.4" r="1.1" fill="#3100ff"/>
<circle cx="518.5" cy="58.1" r="1.1" fill="#ff00d0"/>
<circle cx="517.6" cy="57.8" r="1.1" fill="#00a2ff"/>
<circle cx="520.8" cy="56.3" r="1.1" fill="#0077ff"/>
<circle cx="515.2" cy="55.8" r="1.1" fill="#0100ff"/>
<circle cx="517.0" cy="56.3" r="1.1" fill="#0038ff"/>
<circle cx="506.6" cy="55.0" r="1.1" fill="#00ff9c"/>
<circle cx="500.8" cy="63.3" r="1.1" fill="#004cff"/>
<circle cx="507.7" cy="52.1" r="1.1" fill="#000dff"/>
<circle cx="503.9" cy="55.1" r="1.1" fill="#0038ff"/>
<circle cx="503.7" cy="51.3" r="1.1" fill="#8000ff"/>
<circle cx="514.9" cy="52.7" r="1.1" fill="#000bff"/>
<circle cx="518.0" cy="53.6" r="1.1" fill="#0055ff"/>
<circle cx="501.8" cy="59.0" r="1.1" fill="#3c00ff"/>
<circle cx="387.0" cy="97.5" r="1.1" fill="#0b00ff"/>
<circle cx="383.5" cy="85.4" r="1.1" fill="#0028ff"/>
<circle cx="395.0" cy="80.8" r="1.1" fill="#ff00f9"/>
<circle cx="383.9" cy="89.1" r="1.1" fill="#002dff"/>
<circle cx="398.9" cy="77.4" r="1.1" fill="#0084ff"/>
<circle cx="396.5" cy="83.7" r="1.1" fill="#8600ff"/>
<circle cx="391.6" cy="82.0" r="1.1" fill="#0060ff"/>
<circle cx="398.4" cy="82.2" r="1.1" fill="#a300ff"/>
<circle cx="380.6" cy="88.0" r="1.1" fill="#0086ff"/>
<circle cx="379.6" cy="82.0" r="1.1" fill="#001cff"/>
<circle cx="381.0" cy="91.7" r="1.1" fill="#005aff"/>
<circle cx="396.6" cy="95.7" r="1.1" fill="#ff00bf"/>
<circle cx="381.2" cy="81.1" r="1.1" fill="#0032ff"/>
<circle cx="386.4" cy="84.4" r="1.1" fill="#4800ff"/>
<circle cx="394.8" cy="80.5" r="1.1" fill="#6300ff"/>
<circle cx="382.4" cy="77.3" r="1.1" fill="#ff00c3"/>
<circle cx="395.6" cy="91.6" r="1.1" fill="#0008ff"/>
<circle cx="406.8" cy="81.8" r="1.1" fill="#006bff"/>
<circle cx="402.9" cy="82.0" r="1.1" fill="#00adff"/>
<circle cx="415.7" cy="91.7" r="1.1" fill="#2000ff"/>
<circle cx="412.4" cy="90.9" r="1.1" fill="#2600ff"/>
<circle cx="420.6" cy="81.4" r="1.1" fill="#001bff"/>
<circle cx="422.5" cy="89.1" r="1.1" fill="#001bff"/>
<circle cx="421.0" cy="79.5" r="1.1" fill="#ff00d4"/>
<circle cx="420.0" cy="76.6" r="1.1" fill="#4900ff"/>
<circle cx="421.9" cy="81.2" r="1.1" fill="#0800ff"/>
<circle cx="424.7" cy="84.7" r="1.1" fill="#00ff8f"/>
<circle cx="421.9" cy="89.6" r="1.1" fill="#0099ff"/>
<circle cx="403.3" cy="91.3" r="1.1" fill="#00aeff"/>
<circle cx="405.1" cy="92.8" r="1.1" fill="#0022ff"/>
<circle cx="418.9" cy="93.8" r="1.1" fill="#0073ff"/>
<circle cx="441.3" cy="87.6" r="1.1" fill="#0036ff"/>
<circle cx="427.4" cy="83.1" r="1.1" fill="#0068ff"/>
<circle cx="429.3" cy="91.5" r="1.1" fill="#bf00ff"/>
<circle cx="431.7" cy="80.3" r="1.1" fill="#00acff"/>
<circle cx="434.4" cy="81.7" r="1.1" fill="#ff00cc"/>
<circle cx="429.4" cy="88.0" r="1.1" fill="#000aff"/>
<circle cx="444.3" cy="78.6" r="1.1" fill="#5100ff"/>
<circle cx="440.4" cy="85.6" r="1.1" fill="#9f00ff"/>
<circle cx="432.9" cy="83.2" r="1.1" fill="#002bff"/>
<circle cx="427.4" cy="81.2" r="1.1" fill="#0027ff"/>
<circle cx="428.7" cy="82.3" r="1.1" fill="#008cff"/>
<circle cx="434.7" cy="78.5" r="1.1" fill="#5000ff"/>
<circle cx="444.0" cy="76.5" r="1.1" fill="#9d00ff"/>
<circle cx="449.5" cy="88.0" r="1.1" fill="#0041ff"/>
<circle cx="430.6" cy="87.5" r="1.1" fill="#0019ff"/>
<circle cx="448.1" cy="90.0" r="1.1" fill="#009bff"/>
<circle cx="432.0" cy="80.4" r="1.1" fill="#0030ff"/>
<circle cx="450.7" cy="93.1" r="1.1" fill="#8700ff"/>
<circle cx="465.3" cy="94.8" r="1.1" fill="#00ffc9"/>
<circle cx="454.0" cy="93.3" r="1.1" fill="#8f00ff"/>
<circle cx="454.4" cy="94.3" r="1.1" fill="#003aff"/>
<circle cx="458.8" cy="87.7" r="1.1" fill="#0065ff"/>
<circle cx="451.0" cy="88.1" r="1.1" fill="#00dfff"/>
<circle cx="469.7" cy="91.4" r="1.1" fill="#ff00c3"/>
<circle cx="462.0" cy="78.3" r="1.1" fill="#0029ff"/>
<circle cx="463.9" cy="76.4" r="1.1" fill="#b000ff"/>
<circle cx="473.3" cy="76.7" r="1.1" fill="#0400ff"/>
<circle cx="460.5" cy="79.1" r="1.1" fill="#fc00ff"/>
<circle cx="470.5" cy="93.4" r="1.1" fill="#006eff"/>
<circle cx="456.8" cy="90.4" r="1.1" fill="#0085ff"/>
<circle cx="460.5" cy="90.5" r="1.1" fill="#a900ff"/>
<circle cx="471.7" cy="78.4" r="1.1" fill="#0046ff"/>
<circle cx="458.4" cy="79.2" r="1.1" fill="#000cff"/>
<circle cx="457.8" cy="85.6" r="1.1" fill="#00fffc"/>
<circle cx="473.4" cy="97.6" r="1.1" fill="#00efff"/>
<circle cx="469.5" cy="75.9" r="1.1" fill="#6d00ff"/>
<circle cx="463.7" cy="97.4" r="1.1" fill="#007eff"/>
<circle cx="465.5" cy="81.7" r="1.1" fill="#0016ff"/>
<circle cx="454.5" cy="90.8" r="1.1" fill="#0073ff"/>
<circle cx="452.0" cy="90.4" r="1.1" fill="#0088ff"/>
<circle cx="462.7" cy="88.1" r="1.1" fill="#007dff"/>
<circle cx="452.7" cy="78.8" r="1.1" fill="#ff00ef"/>
<circle cx="494.7" cy="80.6" r="1.1" fill="#0021ff"/>
<circle cx="486.7" cy="80.5" r="1.1" fill="#0082ff"/>
<circle cx="487.7" cy="77.2" r="1.1" fill="#0075ff"/>
<circle cx="488.1" cy="76.4" r="1.1" fill="#0054ff"/>
<circle cx="494.7" cy="87.7" r="1.1" fill="#ac00ff"/>
<circle cx="492.2" cy="77.3" r="1.1" fill="#00ffa7"/>
<circle cx="493.9" cy="83.9" r="1.1" fill="#002cff"/>
<circle cx="497.0" cy="88.0" r="1.1" fill="#d000ff"/>
<circle cx="475.4" cy="80.2" r="1.1" fill="#004bff"/>
<circle cx="474.4" cy="88.8" r="1.1" fill="#002cff"/>
<circle cx="484.2" cy="95.8" r="1.1" fill="#0095ff"/>
<circle cx="494.9" cy="88.0" r="1.1" fill="#ff00d6"/>
<circle cx="491.9" cy="82.7" r="1.1" fill="#7900ff"/>
<circle cx="490.3" cy="94.3" r="1.1" fill="#0043ff"/>
<circle cx="496.8" cy="91.8" r="1.1" fill="#0d00ff"/>
<circle cx="488.5" cy="76.9" r="1.1" fill="#006aff"/>
<circle cx="496.2" cy="90.7" r="1.1" fill="#002cff"/>
<circle cx="478.6" cy="85.2" r="1.1" fill="#7a00ff"/>
<circle cx="474.5" cy="77.2" r="1.1" fill="#8400ff"/>
<circle cx="478.4" cy="87.8" r="1.1" fill="#0029ff"/>
<circle cx="477.5" cy="95.5" r="1.1" fill="#0088ff"/>
<circle cx="490.5" cy="93.9" r="1.1" fill="#00ffd7"/>
<circle cx="477.6" cy="86.5" r="1.1" fill="#ff00e0"/>
<circle cx="493.2" cy="75.4" r="1.1" fill="#0006ff"/>
<circle cx="483.4" cy="85.9" r="1.1" fill="#004bff"/>
<circle cx="494.3" cy="83.9" r="1.1" fill="#ff00ea"/>
<circle cx="481.9" cy="79.7" r="1.1" fill="#ff00e9"/>
<circle cx="488.1" cy="75.5" r="1.1" fill="#0035ff"/>
<circle cx="511.8" cy="83.8" r="1.1" fill="#0057ff"/>
<circle cx="498.1" cy="88.4" r="1.1" fill="#0a00ff"/>
<circle cx="521.7" cy="75.6" r="1.1" fill="#0017ff"/>
<circle cx="514.1" cy="81.0" r="1.1" fill="#0037ff"/>
<circle cx="511.7" cy="87.2" r="1.1" fill="#00ffab"/>
<circle cx="521.8" cy="75.3" r="1.1" fill="#00c0ff"/>
<circle cx="516.6" cy="89.7" r="1.1" fill="#00fff0"/>
<circle cx="506.7" cy="81.3" r="1.1" fill="#ed00ff"/>
<circle cx="514.4" cy="81.8" r="1.1" fill="#3400ff"/>
<circle cx="515.7" cy="86.7" r="1.1" fill="#00e3ff"/>
<circle cx="507.7" cy="76.0" r="1.1" fill="#0800ff"/>
<circle cx="505.8" cy="98.2" r="1.1" fill="#007dff"/>
<circle cx="503.6" cy="82.9" r="1.1" fill="#0009ff"/>
<circle cx="498.2" cy="95.4" r="1.1" fill="#0091ff"/>
<circle cx="505.3" cy="78.6" r="1.1" fill="#000dff"/>
<circle cx="505.2" cy="81.9" r="1.1" fill="#1600ff"/>
<circle cx="506.2" cy="96.6" r="1.1" fill="#00e3ff"/>
<circle cx="499.9" cy="78.8" r="1.1" fill="#00a8ff"/>
<circle cx="516.6" cy="84.8" r="1.1" fill="#ff00e4"/>
<circle cx="499.6" cy="86.1" r="1.1" fill="#ff00e5"/>
<circle cx="498.6" cy="78.4" r="1.1" fill="#0001ff"/>
<circle cx="514.9" cy="79.7" r="1.1" fill="#0063ff"/>
<circle cx="518.7" cy="90.1" r="1.1" fill="#1100ff"/>
<circle cx="515.6" cy="97.6" r="1.1" fill="#0092ff"/>
<circle cx="519.0" cy="82.7" r="1.1" fill="#0200ff"/>
<circle cx="382.5" cy="111.4" r="1.1" fill="#f400ff"/>
<circle cx="383.1" cy="106.3" r="1.1" fill="#3100ff"/>
<circle cx="393.6" cy="108.2" r="1.1" fill="#8800ff"/>
<circle cx="387.9" cy="99.6" r="1.1" fill="#00bfff"/>
<circle cx="386.0" cy="110.4" r="1.1" fill="#00cbff"/>
<circle cx="378.3" cy="120.7" r="1.1" fill="#00a2ff"/>
<circle cx="401.7" cy="99.8" r="1.1" fill="#00ceff"/>
<circle cx="380.2" cy="102.2" r="1.1" fill="#003aff"/>
<circle cx="396.4" cy="100.7" r="1.1" fill="#5400ff"/>
<circle cx="392.1" cy="111.8" r="1.1" fill="#b200ff"/>
<circle cx="392.4" cy="106.4" r="1.1" fill="#8d00ff"/>
<circle cx="396.3" cy="117.1" r="1.1" fill="#1b00ff"/>
<circle cx="396.5" cy="122.0" r="1.1" fill="#0075ff"/>
<circle cx="400.6" cy="101.7" r="1.1" fill="#0e00ff"/>
<circle cx="389.4" cy="114.2" r="1.1" fill="#2500ff"/>
<circle cx="383.5" cy="116.7" r="1.1" fill="#3400ff"/>
<circle cx="378.7" cy="101.7" r="1.1" fill="#0048ff"/>
<circle cx="406.4" cy="121.1" r="1.1" fill="#006fff"/>
<circle cx="405.6" cy="102.8" r="1.1" fill="#af00ff"/>
<circle cx="402.7" cy="117.2" r="1.1" fill="#0025ff"/>
<circle cx="425.6" cy="110.5" r="1.1" fill="#00ecff"/>
<circle cx="413.0" cy="106.3" r="1.1" fill="#ff00bf"/>
<circle cx="404.6" cy="116.1" r="1.1" fill="#0031ff"/>
<circle cx="422.7" cy="99.9" r="1.1" fill="#00e5ff"/>
<circle cx="411.8" cy="120.6" r="1.1" fill="#00ff94"/>
<circle cx="408.0" cy="104.8" r="1.1" fill="#007dff"/>
<circle cx="407.6" cy="103.4" r="1.1" fill="#7400ff"/>
<circle cx="425.9" cy="103.7" r="1.1" fill="#00e0ff"/>
<circle cx="405.8" cy="119.2" r="1.1" fill="#ff00e7"/>
<circle cx="421.7" cy="105.3" r="1.1" fill="#1e00ff"/>
<circle cx="413.7" cy="119.9" r="1.1" fill="#002fff"/>
<circle cx="412.9" cy="112.4" r="1.1" fill="#fa00ff"/>
<circle cx="407.0" cy="119.7" r="1.1" fill="#0065ff"/>
<circle cx="406.4" cy="119.2" r="1.1" fill="#00ff4d"/>
<circle cx="409.1" cy="99.1" r="1.1" fill="#0017ff"/>
<circle cx="423.9" cy="102.1" r="1.1" fill="#9000ff"/>
<circle cx="404.3" cy="102.5" r="1.1" fill="#bc00ff"/>
<circle cx="448.0" cy="115.7" r="1.1" fill="#ff00d4"/>
<circle cx="449.5" cy="99.3" r="1.1" fill="#000eff"/>
<circle cx="426.9" cy="110.6" r="1.1" fill="#004fff"/>
<circle cx="436.3" cy="101.0" r="1.1" fill="#0200ff"/>
<circle cx="447.1" cy="101.4" r="1.1" fill="#0070ff"/>
<circle cx="429.3" cy="108.8" r="1.1" fill="#0023ff"/>
<circle cx="443.7" cy="110.5" r="1.1" fill="#002eff"/>
<circle cx="434.5" cy="110.4" r="1.1" fill="#ff00ed"/>
<circle cx="449.2" cy="119.7" r="1.1" fill="#b100ff"/>
<circle cx="432.6" cy="102.8" r="1.1" fill="#0012ff"/>
<circle cx="438.2" cy="108.3" r="1.1" fill="#00c5ff"/>
<circle cx="434.7" cy="98.8" r="1.1" fill="#6a00ff"/>
<circle cx="439.2" cy="115.1" r="1.1" fill="#00ff7a"/>
<circle cx="447.0" cy="115.7" r="1.1" fill="#007bff"/>
<circle cx="449.4" cy="107.8" r="1.1" fill="#0055ff"/>
<circle cx="435.8" cy="101.9" r="1.1" fill="#00ffed"/>
<circle cx="448.2" cy="104.6" r="1.1" fill="#00c7ff"/>
<circle cx="459.0" cy="104.3" r="1.1" fill="#1600ff"/>
<circle cx="468.8" cy="120.3" r="1.1" fill="#1100ff"/>
<circle cx="466.7" cy="106.3" r="1.1" fill="#00e6ff"/>
<circle cx="473.3" cy="98.5" r="1.1" fill="#8300ff"/>
<circle cx="470.5" cy="110.7" r="1.1" fill="#00b0ff"/>
<circle cx="465.1" cy="116.3" r="1.1" fill="#0070ff"/>
<circle cx="467.1" cy="107.9" r="1.1" fill="#008fff"/>
<circle cx="457.7" cy="113.6" r="1.1" fill="#008aff"/>
<circle cx="455.4" cy="113.2" r="1.1" fill="#0500ff"/>
<circle cx="467.3" cy="111.0" r="1.1" fill="#0080ff"/>
<circle cx="455.3" cy="101.9" r="1.1" fill="#00ff72"/>
<circle cx="462.7" cy="118.0" r="1.1" fill="#0023ff"/>
<circle cx="454.1" cy="118.2" r="1.1" fill="#0090ff"/>
<circle cx="471.5" cy="119.3" r="1.1" fill="#004eff"/>
<circle cx="459.2" cy="118.5" r="1.1" fill="#a800ff"/>
<circle cx="456.0" cy="101.0" r="1.1" fill="#0064ff"/>
<circle cx="469.3" cy="111.0" r="1.1" fill="#0057ff"/>
<circle cx="473.9" cy="115.2" r="1.1" fill="#0060ff"/>
<circle cx="461.5" cy="117.7" r="1.1" fill="#c300ff"/>
<circle cx="458.8" cy="111.0" r="1.1" fill="#0f00ff"/>
<circle cx="458.9" cy="106.7" r="1.1" fill="#005cff"/>
<circle cx="487.7" cy="99.9" r="1.1" fill="#0019ff"/>
<circle cx="491.2" cy="105.1" r="1.1" fill="#0018ff"/>
<circle cx="476.2" cy="113.8" r="1.1" fill="#ff00bf"/>
<circle cx="478.8" cy="108.7" r="1.1" fill="#6a00ff"/>
<circle cx="475.1" cy="109.1" r="1.1" fill="#0081ff"/>
<circle cx="491.1" cy="105.6" r="1.1" fill="#008dff"/>
<circle cx="482.5" cy="107.7" r="1.1" fill="#00fcff"/>
<circle cx="496.2" cy="103.1" r="1.1" fill="#00ffa0"/>
<circle cx="490.0" cy="106.4" r="1.1" fill="#003cff"/>
<circle cx="492.1" cy="107.6" r="1.1" fill="#00abff"/>
<circle cx="492.2" cy="99.1" r="1.1" fill="#00c7ff"/>
<circle cx="485.1" cy="109.6" r="1.1" fill="#5b00ff"/>
<circle cx="495.4" cy="109.1" r="1.1" fill="#005fff"/>
<circle cx="486.3" cy="118.3" r="1.1" fill="#8e00ff"/>
<circle cx="475.0" cy="114.8" r="1.1" fill="#00ecff"/>
<circle cx="492.5" cy="117.0" r="1.1" fill="#0019ff"/>
<circle cx="493.6" cy="100.9" r="1.1" fill="#000eff"/>
<circle cx="492.1" cy="112.0" r="1.1" fill="#0033ff"/>
<circle cx="485.6" cy="99.8" r="1.1" fill="#4200ff"/>
<circle cx="484.0" cy="112.5" r="1.1" fill="#00ffd3"/>
<circle cx="477.5" cy="106.5" r="1.1" fill="#00a2ff"/>
<circle cx="474.1" cy="122.2" r="1.1" fill="#001eff"/>
<circle cx="480.1" cy="119.1" r="1.1" fill="#00abff"/>
<circle cx="486.3" cy="108.6" r="1.1" fill="#0033ff"/>
<circle cx="493.2" cy="119.1" r="1.1" fill="#2600ff"/>
<circle cx="478.8" cy="99.8" r="1.1" fill="#0085ff"/>
<circle cx="485.7" cy="112.5" r="1.1" fill="#0059ff"/>
<circle cx="493.2" cy="103.3" r="1.1" fill="#ff00ea"/>
<circle cx="505.5" cy="111.3" r="1.1" fill="#0072ff"/>
<circle cx="511.6" cy="106.3" r="1.1" fill="#0014ff"/>
<circle cx="515.1" cy="117.8" r="1.1" fill="#00e5ff"/>
<circle cx="508.9" cy="120.9" r="1.1" fill="#0068ff"/>
<circle cx="508.4" cy="113.8" r="1.1" fill="#0024ff"/>
<circle cx="518.7" cy="100.2" r="1.1" fill="#00a8ff"/>
<circle cx="511.5" cy="117.7" r="1.1" fill="#0036ff"/>
<circle cx="514.2" cy="114.7" r="1.1" fill="#000cff"/>
<circle cx="501.5" cy="120.5" r="1.1" fill="#2400ff"/>
<circle cx="500.4" cy="100.8" r="1.1" fill="#c800ff"/>
<circle cx="513.8" cy="104.7" r="1.1" fill="#ff00eb"/>
<circle cx="514.5" cy="102.2" r="1.1" fill="#001fff"/>
<circle cx="518.1" cy="105.5" r="1.1" fill="#0025ff"/>
<circle cx="512.0" cy="106.1" r="1.1" fill="#009eff"/>
<circle cx="505.8" cy="118.7" r="1.1" fill="#2300ff"/>
<circle cx="517.2" cy="122.0" r="1.1" fill="#0054ff"/>
<circle cx="513.4" cy="103.9" r="1.1" fill="#0069ff"/>
<circle cx="380.2" cy="133.6" r="1.1" fill="#4600ff"/>
<circle cx="380.7" cy="142.4" r="1.1" fill="#0005ff"/>
<circle cx="400.5" cy="135.1" r="1.1" fill="#003dff"/>
<circle cx="380.2" cy="134.1" r="1.1" fill="#ff00bf"/>
<circle cx="392.3" cy="135.5" r="1.1" fill="#000aff"/>
<circle cx="423.4" cy="142.8" r="1.1" fill="#0007ff"/>
<circle cx="424.2" cy="123.3" r="1.1" fill="#00aaff"/>
<circle cx="424.7" cy="138.3" r="1.1" fill="#0022ff"/>
<circle cx="410.0" cy="133.3" r="1.1" fill="#001dff"/>
<circle cx="420.9" cy="129.7" r="1.1" fill="#0031ff"/>
<circle cx="415.4" cy="124.8" r="1.1" fill="#00beff"/>
<circle cx="413.1" cy="123.3" r="1.1" fill="#0093ff"/>
<circle cx="428.3" cy="138.0" r="1.1" fill="#0038ff"/>
<circle cx="435.0" cy="138.4" r="1.1" fill="#002bff"/>
<circle cx="434.0" cy="142.7" r="1.1" fill="#ff00f2"/>
<circle cx="428.8" cy="134.4" r="1.1" fill="#006dff"/>
<circle cx="428.8" cy="133.7" r="1.1" fill="#0044ff"/>
<circle cx="434.8" cy="127.2" r="1.1" fill="#0076ff"/>
<circle cx="430.9" cy="125.6" r="1.1" fill="#0100ff"/>
<circle cx="447.4" cy="122.9" r="1.1" fill="#00ff82"/>
<circle cx="437.7" cy="141.5" r="1.1" fill="#00d2ff"/>
<circle cx="444.0" cy="126.2" r="1.1" fill="#0033ff"/>
<circle cx="426.7" cy="131.9" r="1.1" fill="#007eff"/>
<circle cx="428.0" cy="136.4" r="1.1" fill="#2b00ff"/>
<circle cx="464.3" cy="141.3" r="1.1" fill="#b800ff"/>
<circle cx="451.0" cy="137.3" r="1.1" fill="#a100ff"/>
<circle cx="469.6" cy="130.7" r="1.1" fill="#1800ff"/>
<circle cx="459.9" cy="132.3" r="1.1" fill="#0009ff"/>
<circle cx="455.9" cy="140.1" r="1.1" fill="#af00ff"/>
<circle cx="453.4" cy="127.3" r="1.1" fill="#0002ff"/>
<circle cx="473.9" cy="141.5" r="1.1" fill="#009fff"/>
<circle cx="471.8" cy="140.5" r="1.1" fill="#00c8ff"/>
<circle cx="454.8" cy="137.5" r="1.1" fill="#9700ff"/>
<circle cx="467.2" cy="130.9" r="1.1" fill="#002bff"/>
<circle cx="473.2" cy="138.6" r="1.1" fill="#d600ff"/>
<circle cx="467.9" cy="142.5" r="1.1" fill="#e000ff"/>
<circle cx="464.2" cy="132.9" r="1.1" fill="#aa00ff"/>
<circle cx="492.9" cy="128.5" r="1.1" fill="#2400ff"/>
<circle cx="479.6" cy="127.3" r="1.1" fill="#006cff"/>
<circle cx="495.8" cy="138.9" r="1.1" fill="#d200ff"/>
<circle cx="483.4" cy="141.3" r="1.1" fill="#5b00ff"/>
<circle cx="493.8" cy="132.2" r="1.1" fill="#0067ff"/>
<circle cx="489.7" cy="142.6" r="1.1" fill="#0052ff"/>
<circle cx="493.0" cy="122.6" r="1.1" fill="#008cff"/>
<circle cx="474.4" cy="125.2" r="1.1" fill="#5000ff"/>
<circle cx="485.0" cy="130.6" r="1.1" fill="#0005ff"/>
<circle cx="482.5" cy="142.8" r="1.1" fill="#00cdff"/>
<circle cx="480.5" cy="139.3" r="1.1" fill="#0063ff"/>
<circle cx="513.9" cy="141.9" r="1.1" fill="#0020ff"/>
<circle cx="517.8" cy="126.9" r="1.1" fill="#0025ff"/>
<circle cx="521.0" cy="131.2" r="1.1" fill="#0900ff"/>
<circle cx="519.5" cy="132.0" r="1.1" fill="#0087ff"/>
<circle cx="520.9" cy="134.7" r="1.1" fill="#00ffcd"/>
<circle cx="501.9" cy="135.2" r="1.1" fill="#2100ff"/>
<circle cx="508.9" cy="141.9" r="1.1" fill="#0025ff"/>
<circle cx="511.3" cy="143.2" r="1.1" fill="#0065ff"/>
<circle cx="519.5" cy="138.5" r="1.1" fill="#0036ff"/>
<circle cx="521.0" cy="131.2" r="1.1" fill="#6700ff"/>
<circle cx="513.2" cy="131.5" r="1.1" fill="#008aff"/>
<circle cx="510.0" cy="131.2" r="1.1" fill="#00ff4e"/>
<circle cx="499.4" cy="142.5" r="1.1" fill="#5900ff"/>
<circle cx="515.5" cy="140.5" r="1.1" fill="#0029ff"/>
<circle cx="460.6" cy="5.4" r="1.1" fill="#1c00ff"/>
<circle cx="458.6" cy="9.9" r="1.1" fill="#002dff"/>
<circle cx="463.3" cy="4.5" r="1.1" fill="#0040ff"/>
<circle cx="464.1" cy="6.8" r="1.1" fill="#0100ff"/>
<circle cx="465.4" cy="6.9" r="1.1" fill="#0038ff"/>
<circle cx="467.8" cy="10.5" r="1.1" fill="#0024ff"/>
<circle cx="465.9" cy="10.8" r="1.1" fill="#0050ff"/>
<circle cx="464.8" cy="10.9" r="1.1" fill="#1500ff"/>
<circle cx="460.1" cy="5.6" r="1.1" fill="#004aff"/>
<circle cx="465.7" cy="7.5" r="1.1" fill="#0033ff"/>
<circle cx="458.5" cy="9.2" r="1.1" fill="#0010ff"/>
<circle cx="465.1" cy="5.7" r="1.1" fill="#0027ff"/>
<circle cx="460.4" cy="4.5" r="1.1" fill="#0024ff"/>
<circle cx="467.6" cy="13.6" r="1.1" fill="#0002ff"/>
<circle cx="459.1" cy="7.1" r="1.1" fill="#000aff"/>
<circle cx="460.5" cy="8.4" r="1.1" fill="#0022ff"/>
<circle cx="458.2" cy="6.6" r="1.1" fill="#0031ff"/>
<circle cx="467.6" cy="6.7" r="1.1" fill="#000bff"/>
<circle cx="459.2" cy="13.1" r="1.1" fill="#004eff"/>
<circle cx="464.0" cy="11.8" r="1.1" fill="#000bff"/>
<circle cx="460.5" cy="5.5" r="1.1" fill="#001aff"/>
<circle cx="463.1" cy="10.7" r="1.1" fill="#003bff"/>
<circle cx="453.5" cy="5.5" r="1.1" fill="#0044ff"/>
<circle cx="449.5" cy="5.6" r="1.1" fill="#1300ff"/>
<circle cx="451.3" cy="5.3" r="1.1" fill="#001bff"/>
<circle cx="454.9" cy="8.1" r="1.1" fill="#0024ff"/>
<circle cx="446.4" cy="11.5" r="1.1" fill="#001eff"/>
<circle cx="441.3" cy="7.9" r="1.1" fill="#0007ff"/>
<circle cx="453.6" cy="9.1" r="1.1" fill="#0047ff"/>
<circle cx="442.0" cy="5.8" r="1.1" fill="#0001ff"/>
<circle cx="451.6" cy="11.7" r="1.1" fill="#0038ff"/>
<circle cx="453.9" cy="6.6" r="1.1" fill="#003bff"/>
<circle cx="456.9" cy="9.7" r="1.1" fill="#002bff"/>
<circle cx="454.5" cy="6.1" r="1.1" fill="#0005ff"/>
<circle cx="443.3" cy="10.8" r="1.1" fill="#003dff"/>
<circle cx="452.0" cy="11.1" r="1.1" fill="#0022ff"/>
<path d="M382.5,12 C383,8.5 385.5,5 389,5 C392,5.5 392,9 389.5,10.5 L387.5,12.5" fill="none" stroke="#1030ff" stroke-width="4.35" stroke-linecap="round" stroke-linejoin="round"/>
<path d="M385.5,9.5 C386.5,7.5 388.5,7 389.5,8" fill="none" stroke="#1030ff" stroke-width="3.19" stroke-linecap="round" stroke-linejoin="round"/>
<path d="M395,8.5 C397,5 403,4.5 404.8,8.5 C405,12 400,13.8 396.5,12.3" fill="none" stroke="#1030ff" stroke-width="4.35" stroke-linecap="round" stroke-linejoin="round"/>
<path d="M398.5,9 C400,7.5 402,8 401.5,10" fill="none" stroke="#1030ff" stroke-width="3.48" stroke-linecap="round" stroke-linejoin="round"/>
<path d="M467.5,10 C467.5,7 476.5,6.5 476.5,10 C476.5,13.5 467.5,13.5 467.5,10Z" fill="#1030ff" stroke="#1030ff" stroke-width="3.48" stroke-linecap="round" stroke-linejoin="round"/>
<path d="M471,10 L473.5,10" fill="none" stroke="#1030ff" stroke-width="3.48" stroke-linecap="round" stroke-linejoin="round"/>
<path d="M477.5,6 L489.5,5 L490.5,15.5 C488.5,17 485,16 483,13.5 C481,11 478.5,10.5 477.5,8.5Z" fill="#0a28ff" stroke="#0a28ff" stroke-width="3.77" stroke-linecap="round" stroke-linejoin="round"/>
<path d="M481,8 L487.5,7.5 L488,13" fill="none" stroke="#0a28ff" stroke-width="3.77" stroke-linecap="round" stroke-linejoin="round"/>
<path d="M401,29 C403,26.5 409,26 411,28.5 C412.5,31 407,32 404,31.5 C401.5,33 404.5,36.5 411,35.5 L417,34.5" fill="none" stroke="#1a50ff" stroke-width="3.77" stroke-linecap="round" stroke-linejoin="round"/>
<path d="M411,29 C414,27.5 417,28 417.5,30" fill="none" stroke="#2060ff" stroke-width="3.19" stroke-linecap="round" stroke-linejoin="round"/>
<path d="M409.5,58 C410,54.5 415,54 415.5,57.5 C416,61 411,62 410,60" fill="none" stroke="#2030ff" stroke-width="3.77" stroke-linecap="round" stroke-linejoin="round"/>
<path d="M414,65.5 C413.5,61 418.5,59.5 419.5,63 C420,66 416.5,67 415.5,66" fill="none" stroke="#3020ff" stroke-width="3.77" stroke-linecap="round" stroke-linejoin="round"/>
<path d="M420.5,57 C420.5,53 426,53 426.5,57 C427,62 423,66 421,64 C419.5,61.5 421,60 422,61" fill="none" stroke="#2030ff" stroke-width="3.77" stroke-linecap="round" stroke-linejoin="round"/>
<path d="M428,55 C428,52.5 433,52.5 433,57 C433,62 428,63.5 428,60" fill="none" stroke="#3a20ff" stroke-width="3.77" stroke-linecap="round" stroke-linejoin="round"/>
<path d="M435,56 C435,53 440,53 440,58 C440,63 435,65 435,61" fill="none" stroke="#2030ff" stroke-width="3.77" stroke-linecap="round" stroke-linejoin="round"/>
<path d="M441.5,57 C442,54 445,54 445,58 C445,62 443,63 442,62" fill="none" stroke="#3020ff" stroke-width="3.48" stroke-linecap="round" stroke-linejoin="round"/>
<path d="M421,50 C423,47.5 428,47.5 429,50 C430,52 426,53 424,52" fill="none" stroke="#2030ff" stroke-width="3.48" stroke-linecap="round" stroke-linejoin="round"/>
<path d="M431,50 C433,48 437,48.5 438,51" fill="none" stroke="#3020ff" stroke-width="3.19" stroke-linecap="round" stroke-linejoin="round"/>
<path d="M451,47 C453,44 460,44 463.5,46.5 C465,49 462,52.5 457,52 C454,51.5 453,50 455,48.5" fill="none" stroke="#1a30ff" stroke-width="3.77" stroke-linecap="round" stroke-linejoin="round"/>
<path d="M467.5,50 C469,46.5 477,46 480.5,48.5 C482,52 479,55.5 473,55.5 C469.5,55 468,53 470,51" fill="none" stroke="#3020ff" stroke-width="3.77" stroke-linecap="round" stroke-linejoin="round"/>
<path d="M472,50.5 L477,50.5" fill="none" stroke="#3020ff" stroke-width="3.48" stroke-linecap="round" stroke-linejoin="round"/>
<path d="M453,57 C455,60 459,60.5 461.5,57.5" fill="none" stroke="#d010ff" stroke-width="2.61" stroke-linecap="round" stroke-linejoin="round"/>
<path d="M466,71 C469,68.5 474,68.5 477,71 C478,74 474,75.5 470,74.5" fill="none" stroke="#2a60ff" stroke-width="3.19" stroke-linecap="round" stroke-linejoin="round"/>
<path d="M380,126 C382,123 387,123 389,126 C390,129 386,131 383,130 C381,131 381,133 384,134" fill="none" stroke="#8010ff" stroke-width="2.99" stroke-linecap="round" stroke-linejoin="round"/>
<path d="M388,131 C390,126 395,123 399,124 C402,125 401,129 397,130 C394,131 396,134 400,133" fill="none" stroke="#6a10ff" stroke-width="2.99" stroke-linecap="round" stroke-linejoin="round"/>
<path d="M401,127 C404,123 410,123 413,125 C415,128 412,131 408,131 C405,131 405,134 409,134 L414,133" fill="none" stroke="#9010ff" stroke-width="2.99" stroke-linecap="round" stroke-linejoin="round"/>
<path d="M414,126 C417,123 421,124 422,127 C423,131 419,134 417,131" fill="none" stroke="#7010ff" stroke-width="2.99" stroke-linecap="round" stroke-linejoin="round"/>
<path d="M420,134 C422,130 426,126 429,126 C432,127 431,131 428,133" fill="none" stroke="#5520ff" stroke-width="2.99" stroke-linecap="round" stroke-linejoin="round"/>
<path d="M428,128 C430,124 434,124 435,127 C436,131 433,134 430,133" fill="none" stroke="#3020ff" stroke-width="3.77" stroke-linecap="round" stroke-linejoin="round"/>
<path d="M435,131 C437,128 441,128 442,131 C443,134 440,135 438,134" fill="none" stroke="#8010ff" stroke-width="2.76" stroke-linecap="round" stroke-linejoin="round"/>
<path d="M441,128 C443,126 447,126 448,129" fill="none" stroke="#4020ff" stroke-width="3.48" stroke-linecap="round" stroke-linejoin="round"/>
<path d="M447,138 C446,135 450,132 455,132 C459,132 460,136 457,139 C454,141.5 449,141.5 447,138Z" fill="#1030ff" stroke="#1030ff" stroke-width="3.77" stroke-linecap="round" stroke-linejoin="round"/>
<path d="M450.5,137.5 L455.5,136" fill="none" stroke="#1030ff" stroke-width="3.48" stroke-linecap="round" stroke-linejoin="round"/>
<path d="M462,132 C464,131 467,133 466,137 L464,140" fill="none" stroke="#2030ff" stroke-width="3.19" stroke-linecap="round" stroke-linejoin="round"/>
<path d="M470,127 C474,123 480,120 486,118 C490,117 493,119 490,122 C487,125 480,127 474,129 C471,130 469,129 470,127Z" fill="#1a30ff" stroke="#1a30ff" stroke-width="3.77" stroke-linecap="round" stroke-linejoin="round"/>
<path d="M474,126 C479,123 484,121 488,120" fill="none" stroke="#1a30ff" stroke-width="3.48" stroke-linecap="round" stroke-linejoin="round"/>
<path d="M493,118 C496,114 501,111 506,110 C509,110 509,113 506,115 C502,117 498,118 495,119" fill="none" stroke="#1a30ff" stroke-width="3.77" stroke-linecap="round" stroke-linejoin="round"/>
<path d="M497,116 C500,114 503,113 505,112.5" fill="none" stroke="#1a30ff" stroke-width="3.19" stroke-linecap="round" stroke-linejoin="round"/>
<path d="M499,133 C501,129 506,129 508,132 C509,135 506,137 503,136" fill="none" stroke="#9010ff" stroke-width="2.76" stroke-linecap="round" stroke-linejoin="round"/>
<path d="M507,131 C509,128 514,128 515.5,131 C516,134 513,136 510,135" fill="none" stroke="#8010ff" stroke-width="2.76" stroke-linecap="round" stroke-linejoin="round"/>
<path d="M466,109 C467,106 469,104 471,106" fill="none" stroke="#2030ff" stroke-width="2.90" stroke-linecap="round" stroke-linejoin="round"/>
<path d="M382.5,12 C383,8.5 385.5,5 389,5 C392,5.5 392,9 389.5,10.5 L387.5,12.5" fill="none" stroke="#ffffff" stroke-width="0.75" stroke-opacity="0.95"/>
<path d="M385.5,9.5 C386.5,7.5 388.5,7 389.5,8" fill="none" stroke="#ffffff" stroke-width="0.75" stroke-opacity="0.95"/>
<path d="M395,8.5 C397,5 403,4.5 404.8,8.5 C405,12 400,13.8 396.5,12.3" fill="none" stroke="#ffffff" stroke-width="0.75" stroke-opacity="0.95"/>
<path d="M398.5,9 C400,7.5 402,8 401.5,10" fill="none" stroke="#ffffff" stroke-width="0.75" stroke-opacity="0.95"/>
<path d="M467.5,10 C467.5,7 476.5,6.5 476.5,10 C476.5,13.5 467.5,13.5 467.5,10Z" fill="none" stroke="#ffffff" stroke-width="0.75" stroke-opacity="0.95"/>
<path d="M471,10 L473.5,10" fill="none" stroke="#ffffff" stroke-width="0.75" stroke-opacity="0.95"/>
<path d="M477.5,6 L489.5,5 L490.5,15.5 C488.5,17 485,16 483,13.5 C481,11 478.5,10.5 477.5,8.5Z" fill="none" stroke="#ffffff" stroke-width="0.75" stroke-opacity="0.95"/>
<path d="M481,8 L487.5,7.5 L488,13" fill="none" stroke="#ffffff" stroke-width="0.75" stroke-opacity="0.95"/>
<path d="M401,29 C403,26.5 409,26 411,28.5 C412.5,31 407,32 404,31.5 C401.5,33 404.5,36.5 411,35.5 L417,34.5" fill="none" stroke="#ffffff" stroke-width="0.75" stroke-opacity="0.95"/>
<path d="M411,29 C414,27.5 417,28 417.5,30" fill="none" stroke="#ffffff" stroke-width="0.75" stroke-opacity="0.95"/>
<path d="M409.5,58 C410,54.5 415,54 415.5,57.5 C416,61 411,62 410,60" fill="none" stroke="#ffffff" stroke-width="0.75" stroke-opacity="0.95"/>
<path d="M414,65.5 C413.5,61 418.5,59.5 419.5,63 C420,66 416.5,67 415.5,66" fill="none" stroke="#ffffff" stroke-width="0.75" stroke-opacity="0.95"/>
<path d="M420.5,57 C420.5,53 426,53 426.5,57 C427,62 423,66 421,64 C419.5,61.5 421,60 422,61" fill="none" stroke="#ffffff" stroke-width="0.75" stroke-opacity="0.95"/>
<path d="M428,55 C428,52.5 433,52.5 433,57 C433,62 428,63.5 428,60" fill="none" stroke="#ffffff" stroke-width="0.75" stroke-opacity="0.95"/>
<path d="M435,56 C435,53 440,53 440,58 C440,63 435,65 435,61" fill="none" stroke="#ffffff" stroke-width="0.75" stroke-opacity="0.95"/>
<path d="M441.5,57 C442,54 445,54 445,58 C445,62 443,63 442,62" fill="none" stroke="#ffffff" stroke-width="0.75" stroke-opacity="0.95"/>
<path d="M421,50 C423,47.5 428,47.5 429,50 C430,52 426,53 424,52" fill="none" stroke="#ffffff" stroke-width="0.75" stroke-opacity="0.95"/>
<path d="M431,50 C433,48 437,48.5 438,51" fill="none" stroke="#ffffff" stroke-width="0.75" stroke-opacity="0.95"/>
<path d="M451,47 C453,44 460,44 463.5,46.5 C465,49 462,52.5 457,52 C454,51.5 453,50 455,48.5" fill="none" stroke="#ffffff" stroke-width="0.75" stroke-opacity="0.95"/>
<path d="M467.5,50 C469,46.5 477,46 480.5,48.5 C482,52 479,55.5 473,55.5 C469.5,55 468,53 470,51" fill="none" stroke="#ffffff" stroke-width="0.75" stroke-opacity="0.95"/>
<path d="M472,50.5 L477,50.5" fill="none" stroke="#ffffff" stroke-width="0.75" stroke-opacity="0.95"/>
<path d="M453,57 C455,60 459,60.5 461.5,57.5" fill="none" stroke="#ffffff" stroke-width="0.75" stroke-opacity="0.95"/>
<path d="M466,71 C469,68.5 474,68.5 477,71 C478,74 474,75.5 470,74.5" fill="none" stroke="#ffffff" stroke-width="0.75" stroke-opacity="0.95"/>
<path d="M380,126 C382,123 387,123 389,126 C390,129 386,131 383,130 C381,131 381,133 384,134" fill="none" stroke="#ffffff" stroke-width="0.75" stroke-opacity="0.95"/>
<path d="M388,131 C390,126 395,123 399,124 C402,125 401,129 397,130 C394,131 396,134 400,133" fill="none" stroke="#ffffff" stroke-width="0.75" stroke-opacity="0.95"/>
<path d="M401,127 C404,123 410,123 413,125 C415,128 412,131 408,131 C405,131 405,134 409,134 L414,133" fill="none" stroke="#ffffff" stroke-width="0.75" stroke-opacity="0.95"/>
<path d="M414,126 C417,123 421,124 422,127 C423,131 419,134 417,131" fill="none" stroke="#ffffff" stroke-width="0.75" stroke-opacity="0.95"/>
<path d="M420,134 C422,130 426,126 429,126 C432,127 431,131 428,133" fill="none" stroke="#ffffff" stroke-width="0.75" stroke-opacity="0.95"/>
<path d="M428,128 C430,124 434,124 435,127 C436,131 433,134 430,133" fill="none" stroke="#ffffff" stroke-width="0.75" stroke-opacity="0.95"/>
<path d="M435,131 C437,128 441,128 442,131 C443,134 440,135 438,134" fill="none" stroke="#ffffff" stroke-width="0.75" stroke-opacity="0.95"/>
<path d="M441,128 C443,126 447,126 448,129" fill="none" stroke="#ffffff" stroke-width="0.75" stroke-opacity="0.95"/>
<path d="M447,138 C446,135 450,132 455,132 C459,132 460,136 457,139 C454,141.5 449,141.5 447,138Z" fill="none" stroke="#ffffff" stroke-width="0.75" stroke-opacity="0.95"/>
<path d="M450.5,137.5 L455.5,136" fill="none" stroke="#ffffff" stroke-width="0.75" stroke-opacity="0.95"/>
<path d="M462,132 C464,131 467,133 466,137 L464,140" fill="none" stroke="#ffffff" stroke-width="0.75" stroke-opacity="0.95"/>
<path d="M470,127 C474,123 480,120 486,118 C490,117 493,119 490,122 C487,125 480,127 474,129 C471,130 469,129 470,127Z" fill="none" stroke="#ffffff" stroke-width="0.75" stroke-opacity="0.95"/>
<path d="M474,126 C479,123 484,121 488,120" fill="none" stroke="#ffffff" stroke-width="0.75" stroke-opacity="0.95"/>
<path d="M493,118 C496,114 501,111 506,110 C509,110 509,113 506,115 C502,117 498,118 495,119" fill="none" stroke="#ffffff" stroke-width="0.75" stroke-opacity="0.95"/>
<path d="M497,116 C500,114 503,113 505,112.5" fill="none" stroke="#ffffff" stroke-width="0.75" stroke-opacity="0.95"/>
<path d="M499,133 C501,129 506,129 508,132 C509,135 506,137 503,136" fill="none" stroke="#ffffff" stroke-width="0.75" stroke-opacity="0.95"/>
<path d="M507,131 C509,128 514,128 515.5,131 C516,134 513,136 510,135" fill="none" stroke="#ffffff" stroke-width="0.75" stroke-opacity="0.95"/>
<path d="M466,109 C467,106 469,104 471,106" fill="none" stroke="#ffffff" stroke-width="0.75" stroke-opacity="0.95"/>
</g>
<g clip-path="url(#cbot)">
<circle cx="379.6" cy="147.7" r="1.5" fill="#009eff"/>
<circle cx="386.6" cy="147.5" r="1.5" fill="#00aeff"/>
<circle cx="393.4" cy="147.3" r="1.5" fill="#0052ff"/>
<circle cx="407.3" cy="147.5" r="1.5" fill="#00c5ff"/>
<circle cx="410.8" cy="147.4" r="1.5" fill="#0072ff"/>
<circle cx="414.7" cy="148.0" r="1.5" fill="#007cff"/>
<circle cx="418.2" cy="147.4" r="1.5" fill="#0046ff"/>
<circle cx="421.5" cy="147.4" r="1.5" fill="#009dff"/>
<circle cx="425.2" cy="147.7" r="1.5" fill="#00b0ff"/>
<circle cx="428.8" cy="147.6" r="1.5" fill="#0091ff"/>
<circle cx="432.4" cy="147.7" r="1.5" fill="#0046ff"/>
<circle cx="435.6" cy="147.6" r="1.5" fill="#0075ff"/>
<circle cx="439.2" cy="148.0" r="1.5" fill="#0095ff"/>
<circle cx="445.6" cy="147.5" r="1.5" fill="#0074ff"/>
<circle cx="449.4" cy="147.7" r="1.5" fill="#004cff"/>
<circle cx="453.2" cy="147.4" r="1.5" fill="#0033ff"/>
<circle cx="456.6" cy="147.9" r="1.5" fill="#0062ff"/>
<circle cx="463.5" cy="147.6" r="1.5" fill="#007dff"/>
<circle cx="467.1" cy="147.3" r="1.5" fill="#007dff"/>
<circle cx="474.2" cy="147.7" r="1.5" fill="#0057ff"/>
<circle cx="477.5" cy="147.6" r="1.5" fill="#001cff"/>
<circle cx="488.4" cy="147.2" r="1.5" fill="#0039ff"/>
<circle cx="491.5" cy="147.6" r="1.5" fill="#0049ff"/>
<circle cx="502.2" cy="147.6" r="1.5" fill="#00bbff"/>
<circle cx="505.7" cy="147.6" r="1.5" fill="#0078ff"/>
<circle cx="512.6" cy="148.0" r="1.5" fill="#006aff"/>
<circle cx="515.8" cy="147.3" r="1.5" fill="#007fff"/>
<circle cx="523.0" cy="147.8" r="1.5" fill="#002dff"/>
<circle cx="398.8" cy="150.6" r="1.5" fill="#008fff"/>
<circle cx="402.5" cy="150.4" r="1.5" fill="#0090ff"/>
<circle cx="409.5" cy="150.7" r="1.5" fill="#00a4ff"/>
<circle cx="416.5" cy="150.6" r="1.5" fill="#0044ff"/>
<circle cx="419.9" cy="150.6" r="1.5" fill="#0069ff"/>
<circle cx="426.8" cy="150.8" r="1.5" fill="#0038ff"/>
<circle cx="430.8" cy="151.0" r="1.5" fill="#0075ff"/>
<circle cx="434.2" cy="150.9" r="1.5" fill="#006dff"/>
<circle cx="437.5" cy="150.4" r="1.5" fill="#00a1ff"/>
<circle cx="440.8" cy="150.7" r="1.5" fill="#0073ff"/>
<circle cx="444.7" cy="150.6" r="1.5" fill="#002cff"/>
<circle cx="447.5" cy="150.6" r="1.5" fill="#0081ff"/>
<circle cx="454.8" cy="150.7" r="1.5" fill="#006cff"/>
<circle cx="458.0" cy="150.5" r="1.5" fill="#000fff"/>
<circle cx="465.4" cy="150.6" r="1.5" fill="#0048ff"/>
<circle cx="468.6" cy="150.4" r="1.5" fill="#0097ff"/>
<circle cx="472.5" cy="150.2" r="1.5" fill="#00a7ff"/>
<circle cx="475.8" cy="150.3" r="1.5" fill="#001fff"/>
<circle cx="479.3" cy="150.5" r="1.5" fill="#0065ff"/>
<circle cx="483.0" cy="150.9" r="1.5" fill="#0087ff"/>
<circle cx="486.7" cy="150.6" r="1.5" fill="#0076ff"/>
<circle cx="490.1" cy="151.0" r="1.5" fill="#0094ff"/>
<circle cx="493.6" cy="150.4" r="1.5" fill="#0057ff"/>
<circle cx="497.1" cy="150.5" r="1.5" fill="#0093ff"/>
<circle cx="500.2" cy="150.4" r="1.5" fill="#00cdff"/>
<circle cx="507.6" cy="150.7" r="1.5" fill="#0096ff"/>
<circle cx="510.7" cy="150.0" r="1.5" fill="#005cff"/>
<circle cx="521.5" cy="150.6" r="1.5" fill="#00a1ff"/>
<circle cx="379.9" cy="153.6" r="1.5" fill="#0085ff"/>
<circle cx="382.9" cy="153.7" r="1.5" fill="#003bff"/>
<circle cx="386.8" cy="153.8" r="1.5" fill="#00adff"/>
<circle cx="390.0" cy="153.8" r="1.5" fill="#006bff"/>
<circle cx="400.8" cy="153.6" r="1.5" fill="#0080ff"/>
<circle cx="411.2" cy="153.7" r="1.5" fill="#003bff"/>
<circle cx="414.5" cy="153.4" r="1.5" fill="#00a1ff"/>
<circle cx="421.7" cy="153.5" r="1.5" fill="#008cff"/>
<circle cx="425.2" cy="153.6" r="1.5" fill="#00bcff"/>
<circle cx="428.8" cy="153.7" r="1.5" fill="#0046ff"/>
<circle cx="432.1" cy="153.5" r="1.5" fill="#0059ff"/>
<circle cx="435.5" cy="153.5" r="1.5" fill="#004dff"/>
<circle cx="439.4" cy="153.8" r="1.5" fill="#00a6ff"/>
<circle cx="442.6" cy="153.4" r="1.5" fill="#0036ff"/>
<circle cx="446.2" cy="153.8" r="1.5" fill="#0070ff"/>
<circle cx="449.7" cy="153.9" r="1.5" fill="#0049ff"/>
<circle cx="452.7" cy="153.5" r="1.5" fill="#007dff"/>
<circle cx="456.5" cy="153.7" r="1.5" fill="#0077ff"/>
<circle cx="460.1" cy="154.1" r="1.5" fill="#005bff"/>
<circle cx="463.5" cy="153.7" r="1.5" fill="#0058ff"/>
<circle cx="470.6" cy="153.7" r="1.5" fill="#00abff"/>
<circle cx="474.1" cy="153.5" r="1.5" fill="#005eff"/>
<circle cx="477.8" cy="153.9" r="1.5" fill="#0086ff"/>
<circle cx="484.2" cy="153.7" r="1.5" fill="#0068ff"/>
<circle cx="488.3" cy="153.7" r="1.5" fill="#0032ff"/>
<circle cx="495.4" cy="153.6" r="1.5" fill="#00a9ff"/>
<circle cx="498.1" cy="153.6" r="1.5" fill="#0059ff"/>
<circle cx="505.6" cy="153.9" r="1.5" fill="#0076ff"/>
<circle cx="508.9" cy="153.8" r="1.5" fill="#0092ff"/>
<circle cx="516.1" cy="153.5" r="1.5" fill="#0080ff"/>
<circle cx="523.1" cy="153.8" r="1.5" fill="#00a0ff"/>
<circle cx="388.4" cy="156.7" r="1.5" fill="#0069ff"/>
<circle cx="409.5" cy="156.6" r="1.5" fill="#0036ff"/>
<circle cx="412.8" cy="156.6" r="1.5" fill="#0072ff"/>
<circle cx="416.6" cy="156.4" r="1.5" fill="#00b1ff"/>
<circle cx="419.8" cy="156.4" r="1.5" fill="#00baff"/>
<circle cx="423.7" cy="156.9" r="1.5" fill="#0068ff"/>
<circle cx="427.1" cy="156.5" r="1.5" fill="#0047ff"/>
<circle cx="430.2" cy="156.5" r="1.5" fill="#0059ff"/>
<circle cx="433.8" cy="156.6" r="1.5" fill="#004eff"/>
<circle cx="437.4" cy="156.9" r="1.5" fill="#007eff"/>
<circle cx="444.5" cy="156.7" r="1.5" fill="#00baff"/>
<circle cx="447.9" cy="156.8" r="1.5" fill="#006bff"/>
<circle cx="451.4" cy="156.9" r="1.5" fill="#0077ff"/>
<circle cx="454.8" cy="156.5" r="1.5" fill="#0034ff"/>
<circle cx="458.4" cy="156.3" r="1.5" fill="#005dff"/>
<circle cx="461.6" cy="156.5" r="1.5" fill="#0078ff"/>
<circle cx="465.7" cy="156.8" r="1.5" fill="#00c0ff"/>
<circle cx="468.9" cy="156.7" r="1.5" fill="#0078ff"/>
<circle cx="472.2" cy="156.8" r="1.5" fill="#0022ff"/>
<circle cx="475.7" cy="156.1" r="1.5" fill="#000cff"/>
<circle cx="479.7" cy="156.6" r="1.5" fill="#0044ff"/>
<circle cx="482.8" cy="156.8" r="1.5" fill="#002cff"/>
<circle cx="486.4" cy="156.7" r="1.5" fill="#0082ff"/>
<circle cx="490.0" cy="157.1" r="1.5" fill="#006aff"/>
<circle cx="493.4" cy="156.7" r="1.5" fill="#00b5ff"/>
<circle cx="496.7" cy="156.6" r="1.5" fill="#009aff"/>
<circle cx="500.0" cy="156.6" r="1.5" fill="#0055ff"/>
<circle cx="507.3" cy="156.6" r="1.5" fill="#008dff"/>
<circle cx="511.0" cy="156.7" r="1.5" fill="#0084ff"/>
<circle cx="518.0" cy="156.6" r="1.5" fill="#007eff"/>
<circle cx="521.2" cy="156.7" r="1.5" fill="#00cdff"/>
<circle cx="383.0" cy="160.0" r="1.5" fill="#0045ff"/>
<circle cx="390.0" cy="160.1" r="1.5" fill="#0088ff"/>
<circle cx="393.4" cy="159.7" r="1.5" fill="#007bff"/>
<circle cx="396.9" cy="159.9" r="1.5" fill="#006dff"/>
<circle cx="404.0" cy="159.9" r="1.5" fill="#00a4ff"/>
<circle cx="414.4" cy="159.9" r="1.5" fill="#0098ff"/>
<circle cx="418.5" cy="159.7" r="1.5" fill="#005bff"/>
<circle cx="421.7" cy="159.7" r="1.5" fill="#0099ff"/>
<circle cx="425.5" cy="160.0" r="1.5" fill="#0047ff"/>
<circle cx="428.9" cy="159.8" r="1.5" fill="#0055ff"/>
<circle cx="432.3" cy="160.0" r="1.5" fill="#0060ff"/>
<circle cx="439.2" cy="159.7" r="1.5" fill="#0084ff"/>
<circle cx="442.9" cy="159.7" r="1.5" fill="#0096ff"/>
<circle cx="446.2" cy="159.9" r="1.5" fill="#000dff"/>
<circle cx="449.6" cy="159.9" r="1.5" fill="#006aff"/>
<circle cx="453.1" cy="159.9" r="1.5" fill="#003cff"/>
<circle cx="456.8" cy="159.4" r="1.5" fill="#0037ff"/>
<circle cx="460.1" cy="159.9" r="1.5" fill="#0089ff"/>
<circle cx="463.5" cy="159.9" r="1.5" fill="#0061ff"/>
<circle cx="470.7" cy="159.4" r="1.5" fill="#00a4ff"/>
<circle cx="477.9" cy="159.7" r="1.5" fill="#00a0ff"/>
<circle cx="481.0" cy="159.8" r="1.5" fill="#007fff"/>
<circle cx="484.4" cy="160.0" r="1.5" fill="#009eff"/>
<circle cx="488.0" cy="159.6" r="1.5" fill="#0059ff"/>
<circle cx="491.4" cy="159.8" r="1.5" fill="#009eff"/>
<circle cx="494.7" cy="159.7" r="1.5" fill="#006cff"/>
<circle cx="498.6" cy="159.8" r="1.5" fill="#003fff"/>
<circle cx="502.0" cy="159.9" r="1.5" fill="#00a7ff"/>
<circle cx="509.4" cy="159.5" r="1.5" fill="#0063ff"/>
<circle cx="512.4" cy="159.8" r="1.5" fill="#008cff"/>
<circle cx="519.6" cy="159.9" r="1.5" fill="#0057ff"/>
<circle cx="381.3" cy="162.6" r="1.5" fill="#00b2ff"/>
<circle cx="384.5" cy="162.7" r="1.5" fill="#00afff"/>
<circle cx="392.0" cy="163.2" r="1.5" fill="#00a1ff"/>
<circle cx="402.3" cy="162.9" r="1.5" fill="#009cff"/>
<circle cx="406.1" cy="163.1" r="1.5" fill="#007eff"/>
<circle cx="409.5" cy="163.2" r="1.5" fill="#0073ff"/>
<circle cx="415.9" cy="163.0" r="1.5" fill="#00a3ff"/>
<circle cx="423.6" cy="162.7" r="1.5" fill="#0058ff"/>
<circle cx="426.6" cy="162.7" r="1.5" fill="#0049ff"/>
<circle cx="430.4" cy="162.8" r="1.5" fill="#0061ff"/>
<circle cx="433.5" cy="162.6" r="1.5" fill="#005bff"/>
<circle cx="437.1" cy="162.6" r="1.5" fill="#008bff"/>
<circle cx="440.5" cy="162.8" r="1.5" fill="#00a9ff"/>
<circle cx="444.7" cy="162.9" r="1.5" fill="#0098ff"/>
<circle cx="451.5" cy="162.8" r="1.5" fill="#0040ff"/>
<circle cx="454.7" cy="162.6" r="1.5" fill="#002fff"/>
<circle cx="458.4" cy="162.6" r="1.5" fill="#005aff"/>
<circle cx="465.6" cy="162.7" r="1.5" fill="#003aff"/>
<circle cx="468.8" cy="162.6" r="1.5" fill="#008eff"/>
<circle cx="472.2" cy="163.0" r="1.5" fill="#0042ff"/>
<circle cx="476.2" cy="162.9" r="1.5" fill="#0091ff"/>
<circle cx="482.7" cy="162.8" r="1.5" fill="#0087ff"/>
<circle cx="486.1" cy="162.5" r="1.5" fill="#0088ff"/>
<circle cx="489.6" cy="163.2" r="1.5" fill="#0081ff"/>
<circle cx="496.9" cy="162.9" r="1.5" fill="#0073ff"/>
<circle cx="500.5" cy="162.6" r="1.5" fill="#005bff"/>
<circle cx="503.7" cy="162.5" r="1.5" fill="#0094ff"/>
<circle cx="507.2" cy="162.9" r="1.5" fill="#00b7ff"/>
<circle cx="514.3" cy="162.7" r="1.5" fill="#0042ff"/>
<circle cx="521.4" cy="162.8" r="1.5" fill="#0079ff"/>
<circle cx="389.8" cy="166.0" r="1.5" fill="#0048ff"/>
<circle cx="397.4" cy="166.0" r="1.5" fill="#00d5ff"/>
<circle cx="400.3" cy="165.8" r="1.5" fill="#00a3ff"/>
<circle cx="404.2" cy="165.9" r="1.5" fill="#00c0ff"/>
<circle cx="410.6" cy="165.7" r="1.5" fill="#006cff"/>
<circle cx="418.2" cy="165.9" r="1.5" fill="#0053ff"/>
<circle cx="421.9" cy="165.8" r="1.5" fill="#007bff"/>
<circle cx="424.7" cy="165.9" r="1.5" fill="#00b1ff"/>
<circle cx="428.8" cy="166.0" r="1.5" fill="#003eff"/>
<circle cx="432.1" cy="165.8" r="1.5" fill="#6f00ff"/>
<circle cx="435.4" cy="165.7" r="1.5" fill="#009bff"/>
<circle cx="449.5" cy="166.0" r="1.5" fill="#0057ff"/>
<circle cx="452.9" cy="166.1" r="1.5" fill="#005cff"/>
<circle cx="456.5" cy="165.7" r="1.5" fill="#0094ff"/>
<circle cx="460.1" cy="166.1" r="1.5" fill="#003fff"/>
<circle cx="463.8" cy="165.6" r="1.5" fill="#0052ff"/>
<circle cx="467.1" cy="165.8" r="1.5" fill="#007aff"/>
<circle cx="470.6" cy="166.1" r="1.5" fill="#0046ff"/>
<circle cx="474.2" cy="165.7" r="1.5" fill="#0084ff"/>
<circle cx="484.3" cy="165.6" r="1.5" fill="#00ceff"/>
<circle cx="491.7" cy="166.0" r="1.5" fill="#0027ff"/>
<circle cx="495.3" cy="165.8" r="1.5" fill="#0092ff"/>
<circle cx="498.8" cy="165.8" r="1.5" fill="#007bff"/>
<circle cx="508.9" cy="165.8" r="1.5" fill="#00a9ff"/>
<circle cx="512.4" cy="166.0" r="1.5" fill="#0021ff"/>
<circle cx="516.0" cy="165.9" r="1.5" fill="#00caff"/>
<circle cx="523.2" cy="166.0" r="1.5" fill="#00b6ff"/>
<circle cx="392.2" cy="169.1" r="1.5" fill="#00b5ff"/>
<circle cx="395.0" cy="169.0" r="1.5" fill="#00d6ff"/>
<circle cx="402.2" cy="168.9" r="1.5" fill="#0056ff"/>
<circle cx="405.9" cy="168.5" r="1.5" fill="#0082ff"/>
<circle cx="413.4" cy="168.7" r="1.5" fill="#006eff"/>
<circle cx="416.1" cy="168.8" r="1.5" fill="#0071ff"/>
<circle cx="419.7" cy="168.6" r="1.5" fill="#00aeff"/>
<circle cx="423.2" cy="168.4" r="1.5" fill="#00b1ff"/>
<circle cx="426.7" cy="169.3" r="1.5" fill="#0029ff"/>
<circle cx="430.3" cy="168.9" r="1.5" fill="#0019ff"/>
<circle cx="433.7" cy="168.4" r="1.5" fill="#f900ff"/>
<circle cx="440.6" cy="168.7" r="1.5" fill="#007bff"/>
<circle cx="444.3" cy="168.6" r="1.5" fill="#0076ff"/>
<circle cx="447.6" cy="168.8" r="1.5" fill="#006cff"/>
<circle cx="454.4" cy="169.2" r="1.5" fill="#004bff"/>
<circle cx="458.2" cy="169.0" r="1.5" fill="#006aff"/>
<circle cx="461.9" cy="168.8" r="1.5" fill="#006eff"/>
<circle cx="465.3" cy="169.1" r="1.5" fill="#0037ff"/>
<circle cx="468.9" cy="168.9" r="1.5" fill="#0077ff"/>
<circle cx="472.5" cy="168.6" r="1.5" fill="#0083ff"/>
<circle cx="476.1" cy="169.2" r="1.5" fill="#002fff"/>
<circle cx="479.2" cy="168.6" r="1.5" fill="#0081ff"/>
<circle cx="490.0" cy="168.8" r="1.5" fill="#0032ff"/>
<circle cx="493.3" cy="168.8" r="1.5" fill="#0051ff"/>
<circle cx="496.9" cy="168.6" r="1.5" fill="#009cff"/>
<circle cx="500.5" cy="168.4" r="1.5" fill="#007aff"/>
<circle cx="507.3" cy="168.4" r="1.5" fill="#00a8ff"/>
<circle cx="510.9" cy="168.8" r="1.5" fill="#0083ff"/>
<circle cx="514.3" cy="169.0" r="1.5" fill="#0095ff"/>
<circle cx="517.9" cy="168.6" r="1.5" fill="#0068ff"/>
<circle cx="521.3" cy="168.7" r="1.5" fill="#0061ff"/>
<circle cx="379.8" cy="172.0" r="1.5" fill="#0071ff"/>
<circle cx="383.0" cy="171.7" r="1.5" fill="#0027ff"/>
<circle cx="386.5" cy="171.5" r="1.5" fill="#0056ff"/>
<circle cx="390.1" cy="171.8" r="1.5" fill="#001dff"/>
<circle cx="397.1" cy="171.9" r="1.5" fill="#0084ff"/>
<circle cx="400.8" cy="172.2" r="1.5" fill="#0070ff"/>
<circle cx="404.0" cy="172.0" r="1.5" fill="#0071ff"/>
<circle cx="414.9" cy="172.1" r="1.5" fill="#0035ff"/>
<circle cx="418.2" cy="171.8" r="1.5" fill="#00adff"/>
<circle cx="421.8" cy="171.8" r="1.5" fill="#00ffc1"/>
<circle cx="424.7" cy="171.9" r="1.5" fill="#000dff"/>
<circle cx="428.9" cy="171.8" r="1.5" fill="#00a3ff"/>
<circle cx="432.1" cy="172.0" r="1.5" fill="#003aff"/>
<circle cx="435.4" cy="172.0" r="1.5" fill="#0094ff"/>
<circle cx="438.9" cy="171.9" r="1.5" fill="#007aff"/>
<circle cx="456.8" cy="171.9" r="1.5" fill="#008bff"/>
<circle cx="463.1" cy="171.8" r="1.5" fill="#0073ff"/>
<circle cx="466.8" cy="172.0" r="1.5" fill="#009aff"/>
<circle cx="470.5" cy="171.5" r="1.5" fill="#00a1ff"/>
<circle cx="474.2" cy="172.3" r="1.5" fill="#0032ff"/>
<circle cx="481.2" cy="171.9" r="1.5" fill="#009cff"/>
<circle cx="484.9" cy="172.0" r="1.5" fill="#0069ff"/>
<circle cx="488.1" cy="172.1" r="1.5" fill="#0058ff"/>
<circle cx="490.9" cy="171.8" r="1.5" fill="#0092ff"/>
<circle cx="495.1" cy="171.8" r="1.5" fill="#0080ff"/>
<circle cx="498.6" cy="171.7" r="1.5" fill="#0083ff"/>
<circle cx="502.0" cy="171.9" r="1.5" fill="#0082ff"/>
<circle cx="508.9" cy="171.7" r="1.5" fill="#0093ff"/>
<circle cx="512.7" cy="172.3" r="1.5" fill="#0040ff"/>
<circle cx="515.9" cy="172.0" r="1.5" fill="#007eff"/>
<circle cx="519.7" cy="171.7" r="1.5" fill="#007bff"/>
<circle cx="523.4" cy="171.9" r="1.5" fill="#0080ff"/>
<circle cx="381.3" cy="175.0" r="1.5" fill="#00aaff"/>
<circle cx="399.1" cy="174.7" r="1.5" fill="#6f00ff"/>
<circle cx="402.3" cy="174.8" r="1.5" fill="#0061ff"/>
<circle cx="405.6" cy="174.9" r="1.5" fill="#007eff"/>
<circle cx="409.2" cy="174.7" r="1.5" fill="#00afff"/>
<circle cx="413.0" cy="174.8" r="1.5" fill="#004aff"/>
<circle cx="416.1" cy="175.0" r="1.5" fill="#009fff"/>
<circle cx="419.8" cy="174.9" r="1.5" fill="#00dfff"/>
<circle cx="423.2" cy="174.9" r="1.5" fill="#00eeff"/>
<circle cx="430.4" cy="175.4" r="1.5" fill="#00b1ff"/>
<circle cx="433.6" cy="175.0" r="1.5" fill="#008cff"/>
<circle cx="440.8" cy="174.8" r="1.5" fill="#0080ff"/>
<circle cx="444.6" cy="174.8" r="1.5" fill="#007dff"/>
<circle cx="447.6" cy="174.6" r="1.5" fill="#0072ff"/>
<circle cx="451.6" cy="174.9" r="1.5" fill="#008aff"/>
<circle cx="461.8" cy="174.8" r="1.5" fill="#0085ff"/>
<circle cx="468.8" cy="175.0" r="1.5" fill="#0055ff"/>
<circle cx="472.5" cy="174.6" r="1.5" fill="#006dff"/>
<circle cx="475.7" cy="175.1" r="1.5" fill="#003bff"/>
<circle cx="479.4" cy="175.0" r="1.5" fill="#007eff"/>
<circle cx="490.3" cy="174.9" r="1.5" fill="#00b6ff"/>
<circle cx="493.4" cy="175.0" r="1.5" fill="#00c1ff"/>
<circle cx="496.8" cy="174.8" r="1.5" fill="#00bcff"/>
<circle cx="500.5" cy="174.8" r="1.5" fill="#009fff"/>
<circle cx="503.7" cy="174.9" r="1.5" fill="#0098ff"/>
<circle cx="507.3" cy="174.9" r="1.5" fill="#00a8ff"/>
<circle cx="510.4" cy="174.7" r="1.5" fill="#008bff"/>
<circle cx="514.6" cy="175.2" r="1.5" fill="#009aff"/>
<circle cx="517.8" cy="174.7" r="1.5" fill="#0020ff"/>
<circle cx="521.2" cy="174.9" r="1.5" fill="#6f00ff"/>
<circle cx="379.8" cy="178.0" r="1.5" fill="#00bdff"/>
<circle cx="383.1" cy="177.7" r="1.5" fill="#009fff"/>
<circle cx="386.3" cy="177.7" r="1.5" fill="#006cff"/>
<circle cx="390.0" cy="177.9" r="1.5" fill="#0068ff"/>
<circle cx="393.5" cy="177.8" r="1.5" fill="#007cff"/>
<circle cx="396.7" cy="177.9" r="1.5" fill="#0032ff"/>
<circle cx="404.0" cy="177.8" r="1.5" fill="#00d4ff"/>
<circle cx="410.8" cy="177.8" r="1.5" fill="#0095ff"/>
<circle cx="418.1" cy="177.6" r="1.5" fill="#0046ff"/>
<circle cx="425.1" cy="178.0" r="1.5" fill="#006fff"/>
<circle cx="428.7" cy="177.7" r="1.5" fill="#00a2ff"/>
<circle cx="432.1" cy="177.9" r="1.5" fill="#005dff"/>
<circle cx="439.3" cy="178.2" r="1.5" fill="#006eff"/>
<circle cx="442.6" cy="178.0" r="1.5" fill="#00bdff"/>
<circle cx="453.1" cy="178.0" r="1.5" fill="#0093ff"/>
<circle cx="459.8" cy="178.0" r="1.5" fill="#009dff"/>
<circle cx="463.5" cy="178.3" r="1.5" fill="#0066ff"/>
<circle cx="467.2" cy="177.7" r="1.5" fill="#0049ff"/>
<circle cx="470.9" cy="177.7" r="1.5" fill="#00beff"/>
<circle cx="474.0" cy="178.2" r="1.5" fill="#0060ff"/>
<circle cx="477.8" cy="177.8" r="1.5" fill="#008eff"/>
<circle cx="481.5" cy="178.1" r="1.5" fill="#0042ff"/>
<circle cx="484.4" cy="177.7" r="1.5" fill="#003fff"/>
<circle cx="488.3" cy="177.9" r="1.5" fill="#006eff"/>
<circle cx="492.1" cy="178.0" r="1.5" fill="#00b8ff"/>
<circle cx="495.3" cy="178.0" r="1.5" fill="#00a0ff"/>
<circle cx="498.8" cy="178.0" r="1.5" fill="#0061ff"/>
<circle cx="505.4" cy="177.8" r="1.5" fill="#006aff"/>
<circle cx="509.3" cy="177.9" r="1.5" fill="#00aeff"/>
<circle cx="512.6" cy="177.9" r="1.5" fill="#0065ff"/>
<circle cx="516.3" cy="177.9" r="1.5" fill="#0036ff"/>
<circle cx="519.8" cy="178.2" r="1.5" fill="#0076ff"/>
<circle cx="523.2" cy="177.9" r="1.5" fill="#00b0ff"/>
<circle cx="381.4" cy="180.9" r="1.5" fill="#0048ff"/>
<circle cx="384.6" cy="180.8" r="1.5" fill="#0076ff"/>
<circle cx="388.3" cy="181.1" r="1.5" fill="#0086ff"/>
<circle cx="392.0" cy="181.1" r="1.5" fill="#0065ff"/>
<circle cx="395.0" cy="181.2" r="1.5" fill="#004aff"/>
<circle cx="402.3" cy="181.1" r="1.5" fill="#005aff"/>
<circle cx="413.2" cy="181.1" r="1.5" fill="#003aff"/>
<circle cx="416.6" cy="180.9" r="1.5" fill="#00dcff"/>
<circle cx="419.7" cy="180.7" r="1.5" fill="#001eff"/>
<circle cx="423.8" cy="180.7" r="1.5" fill="#00b2ff"/>
<circle cx="426.6" cy="180.8" r="1.5" fill="#000bff"/>
<circle cx="433.7" cy="181.0" r="1.5" fill="#00b3ff"/>
<circle cx="447.9" cy="180.7" r="1.5" fill="#008fff"/>
<circle cx="458.6" cy="181.1" r="1.5" fill="#005fff"/>
<circle cx="462.0" cy="181.2" r="1.5" fill="#006bff"/>
<circle cx="465.2" cy="180.9" r="1.5" fill="#002aff"/>
<circle cx="469.2" cy="181.0" r="1.5" fill="#0041ff"/>
<circle cx="472.4" cy="181.0" r="1.5" fill="#00a5ff"/>
<circle cx="475.9" cy="181.1" r="1.5" fill="#00d2ff"/>
<circle cx="479.8" cy="181.0" r="1.5" fill="#00aaff"/>
<circle cx="482.5" cy="180.8" r="1.5" fill="#004eff"/>
<circle cx="486.3" cy="180.9" r="1.5" fill="#00c1ff"/>
<circle cx="490.2" cy="180.8" r="1.5" fill="#008cff"/>
<circle cx="493.8" cy="180.8" r="1.5" fill="#008aff"/>
<circle cx="497.2" cy="180.8" r="1.5" fill="#0098ff"/>
<circle cx="500.4" cy="180.7" r="1.5" fill="#0090ff"/>
<circle cx="507.5" cy="181.1" r="1.5" fill="#0033ff"/>
<circle cx="510.6" cy="180.9" r="1.5" fill="#00b0ff"/>
<circle cx="514.3" cy="181.0" r="1.5" fill="#00a2ff"/>
<circle cx="521.6" cy="180.8" r="1.5" fill="#007eff"/>
<circle cx="379.5" cy="183.8" r="1.5" fill="#00adff"/>
<circle cx="382.7" cy="184.1" r="1.5" fill="#003eff"/>
<circle cx="400.6" cy="184.0" r="1.5" fill="#0078ff"/>
<circle cx="404.4" cy="183.8" r="1.5" fill="#0065ff"/>
<circle cx="407.7" cy="183.7" r="1.5" fill="#0061ff"/>
<circle cx="410.9" cy="184.4" r="1.5" fill="#009aff"/>
<circle cx="424.9" cy="183.9" r="1.5" fill="#0074ff"/>
<circle cx="428.3" cy="184.2" r="1.5" fill="#00b2ff"/>
<circle cx="435.4" cy="184.0" r="1.5" fill="#008aff"/>
<circle cx="453.0" cy="183.8" r="1.5" fill="#0004ff"/>
<circle cx="456.4" cy="183.7" r="1.5" fill="#0046ff"/>
<circle cx="467.2" cy="183.5" r="1.5" fill="#00f4ff"/>
<circle cx="470.4" cy="184.0" r="1.5" fill="#0085ff"/>
<circle cx="481.0" cy="183.9" r="1.5" fill="#008eff"/>
<circle cx="487.7" cy="183.8" r="1.5" fill="#0044ff"/>
<circle cx="491.7" cy="183.9" r="1.5" fill="#0058ff"/>
<circle cx="495.3" cy="184.3" r="1.5" fill="#009cff"/>
<circle cx="499.1" cy="184.4" r="1.5" fill="#00a6ff"/>
<circle cx="502.1" cy="183.7" r="1.5" fill="#0094ff"/>
<circle cx="509.1" cy="183.8" r="1.5" fill="#00c3ff"/>
<circle cx="512.6" cy="184.2" r="1.5" fill="#0023ff"/>
<circle cx="515.8" cy="183.9" r="1.5" fill="#00b0ff"/>
<circle cx="519.7" cy="184.1" r="1.5" fill="#00ccff"/>
<circle cx="523.2" cy="183.7" r="1.5" fill="#001cff"/>
<circle cx="384.8" cy="186.9" r="1.5" fill="#008cff"/>
<circle cx="388.0" cy="187.2" r="1.5" fill="#0072ff"/>
<circle cx="398.8" cy="186.9" r="1.5" fill="#007aff"/>
<circle cx="402.5" cy="186.9" r="1.5" fill="#0097ff"/>
<circle cx="405.5" cy="187.3" r="1.5" fill="#00c0ff"/>
<circle cx="409.4" cy="187.0" r="1.5" fill="#006cff"/>
<circle cx="412.3" cy="187.3" r="1.5" fill="#0093ff"/>
<circle cx="416.6" cy="187.2" r="1.5" fill="#0092ff"/>
<circle cx="419.8" cy="187.2" r="1.5" fill="#008cff"/>
<circle cx="430.4" cy="187.1" r="1.5" fill="#00a9ff"/>
<circle cx="437.4" cy="187.0" r="1.5" fill="#009eff"/>
<circle cx="440.7" cy="187.0" r="1.5" fill="#00aaff"/>
<circle cx="451.5" cy="187.0" r="1.5" fill="#00aaff"/>
<circle cx="462.0" cy="187.1" r="1.5" fill="#0084ff"/>
<circle cx="465.6" cy="187.0" r="1.5" fill="#0099ff"/>
<circle cx="475.9" cy="187.0" r="1.5" fill="#0064ff"/>
<circle cx="482.9" cy="187.1" r="1.5" fill="#0053ff"/>
<circle cx="486.6" cy="187.0" r="1.5" fill="#008cff"/>
<circle cx="490.1" cy="187.1" r="1.5" fill="#00c8ff"/>
<circle cx="493.7" cy="187.2" r="1.5" fill="#009cff"/>
<circle cx="496.8" cy="187.0" r="1.5" fill="#00b2ff"/>
<circle cx="500.2" cy="187.1" r="1.5" fill="#009aff"/>
<circle cx="503.6" cy="187.3" r="1.5" fill="#0082ff"/>
<circle cx="507.2" cy="187.3" r="1.5" fill="#007bff"/>
<circle cx="510.8" cy="187.1" r="1.5" fill="#0090ff"/>
<circle cx="521.4" cy="187.0" r="1.5" fill="#0056ff"/>
<circle cx="379.6" cy="189.8" r="1.5" fill="#0092ff"/>
<circle cx="383.1" cy="190.1" r="1.5" fill="#0079ff"/>
<circle cx="390.2" cy="190.4" r="1.5" fill="#0075ff"/>
<circle cx="396.9" cy="190.0" r="1.5" fill="#0076ff"/>
<circle cx="403.8" cy="190.1" r="1.5" fill="#009fff"/>
<circle cx="407.8" cy="190.1" r="1.5" fill="#0065ff"/>
<circle cx="411.1" cy="189.8" r="1.5" fill="#0040ff"/>
<circle cx="414.5" cy="190.2" r="1.5" fill="#006dff"/>
<circle cx="425.1" cy="189.7" r="1.5" fill="#0077ff"/>
<circle cx="429.1" cy="190.0" r="1.5" fill="#002eff"/>
<circle cx="435.7" cy="189.9" r="1.5" fill="#0031ff"/>
<circle cx="439.0" cy="190.0" r="1.5" fill="#002dff"/>
<circle cx="446.0" cy="190.3" r="1.5" fill="#00d4ff"/>
<circle cx="456.4" cy="190.0" r="1.5" fill="#00ffc2"/>
<circle cx="460.5" cy="189.8" r="1.5" fill="#003eff"/>
<circle cx="467.0" cy="189.7" r="1.5" fill="#0037ff"/>
<circle cx="470.7" cy="190.0" r="1.5" fill="#00baff"/>
<circle cx="474.1" cy="189.9" r="1.5" fill="#00a9ff"/>
<circle cx="477.7" cy="190.0" r="1.5" fill="#0074ff"/>
<circle cx="480.9" cy="189.6" r="1.5" fill="#0057ff"/>
<circle cx="487.6" cy="189.9" r="1.5" fill="#002aff"/>
<circle cx="491.3" cy="190.4" r="1.5" fill="#0020ff"/>
<circle cx="495.0" cy="190.3" r="1.5" fill="#0076ff"/>
<circle cx="498.5" cy="190.1" r="1.5" fill="#00bcff"/>
<circle cx="502.3" cy="190.1" r="1.5" fill="#002bff"/>
<circle cx="515.9" cy="189.9" r="1.5" fill="#00c6ff"/>
<circle cx="522.8" cy="189.8" r="1.5" fill="#0047ff"/>
<circle cx="381.4" cy="193.5" r="1.5" fill="#0073ff"/>
<circle cx="385.1" cy="192.9" r="1.5" fill="#0067ff"/>
<circle cx="388.5" cy="193.0" r="1.5" fill="#00a3ff"/>
<circle cx="402.3" cy="192.8" r="1.5" fill="#0067ff"/>
<circle cx="406.0" cy="193.2" r="1.5" fill="#0085ff"/>
<circle cx="409.2" cy="192.9" r="1.5" fill="#00bfff"/>
<circle cx="412.8" cy="193.2" r="1.5" fill="#0074ff"/>
<circle cx="416.8" cy="193.2" r="1.5" fill="#005fff"/>
<circle cx="419.6" cy="193.0" r="1.5" fill="#0056ff"/>
<circle cx="423.4" cy="192.9" r="1.5" fill="#0065ff"/>
<circle cx="426.5" cy="193.1" r="1.5" fill="#009dff"/>
<circle cx="430.4" cy="192.8" r="1.5" fill="#005bff"/>
<circle cx="433.7" cy="192.7" r="1.5" fill="#0074ff"/>
<circle cx="437.2" cy="193.2" r="1.5" fill="#0083ff"/>
<circle cx="441.0" cy="193.2" r="1.5" fill="#003aff"/>
<circle cx="444.1" cy="193.2" r="1.5" fill="#008aff"/>
<circle cx="451.4" cy="192.9" r="1.5" fill="#0032ff"/>
<circle cx="458.3" cy="193.4" r="1.5" fill="#00ebff"/>
<circle cx="472.4" cy="192.6" r="1.5" fill="#00fdff"/>
<circle cx="476.2" cy="193.2" r="1.5" fill="#0033ff"/>
<circle cx="486.1" cy="193.3" r="1.5" fill="#0066ff"/>
<circle cx="493.5" cy="193.2" r="1.5" fill="#0086ff"/>
<circle cx="500.3" cy="193.0" r="1.5" fill="#00b9ff"/>
<circle cx="503.8" cy="193.0" r="1.5" fill="#008bff"/>
<circle cx="507.2" cy="193.2" r="1.5" fill="#002cff"/>
<circle cx="511.0" cy="192.9" r="1.5" fill="#0084ff"/>
<circle cx="514.3" cy="193.1" r="1.5" fill="#0090ff"/>
<circle cx="517.9" cy="193.2" r="1.5" fill="#0092ff"/>
<circle cx="521.6" cy="192.8" r="1.5" fill="#0091ff"/>
<circle cx="383.3" cy="196.1" r="1.5" fill="#00e0ff"/>
<circle cx="390.2" cy="196.0" r="1.5" fill="#00a8ff"/>
<circle cx="393.4" cy="196.4" r="1.5" fill="#005fff"/>
<circle cx="397.1" cy="196.1" r="1.5" fill="#00bdff"/>
<circle cx="400.6" cy="196.3" r="1.5" fill="#00a6ff"/>
<circle cx="414.9" cy="196.2" r="1.5" fill="#0086ff"/>
<circle cx="425.1" cy="196.7" r="1.5" fill="#00d4ff"/>
<circle cx="428.7" cy="196.2" r="1.5" fill="#00dbff"/>
<circle cx="435.7" cy="196.2" r="1.5" fill="#00a8ff"/>
<circle cx="439.1" cy="196.1" r="1.5" fill="#00ffc1"/>
<circle cx="446.2" cy="196.3" r="1.5" fill="#00ffb3"/>
<circle cx="456.7" cy="196.2" r="1.5" fill="#0041ff"/>
<circle cx="481.1" cy="196.1" r="1.5" fill="#0073ff"/>
<circle cx="484.8" cy="196.0" r="1.5" fill="#009cff"/>
<circle cx="495.3" cy="196.3" r="1.5" fill="#007fff"/>
<circle cx="498.7" cy="195.9" r="1.5" fill="#00b9ff"/>
<circle cx="505.4" cy="196.5" r="1.5" fill="#00ffe6"/>
<circle cx="512.4" cy="196.2" r="1.5" fill="#0029ff"/>
<circle cx="515.9" cy="196.2" r="1.5" fill="#0045ff"/>
<circle cx="522.8" cy="196.3" r="1.5" fill="#00abff"/>
<circle cx="381.6" cy="199.4" r="1.5" fill="#0081ff"/>
<circle cx="384.7" cy="199.1" r="1.5" fill="#00c4ff"/>
<circle cx="388.6" cy="198.9" r="1.5" fill="#00deff"/>
<circle cx="395.5" cy="199.2" r="1.5" fill="#00ffbe"/>
<circle cx="412.8" cy="199.1" r="1.5" fill="#00ffc1"/>
<circle cx="430.4" cy="199.3" r="1.5" fill="#00cfff"/>
<circle cx="440.4" cy="199.1" r="1.5" fill="#00e9ff"/>
<circle cx="455.0" cy="199.1" r="1.5" fill="#00f0ff"/>
<circle cx="483.1" cy="198.9" r="1.5" fill="#0081ff"/>
<circle cx="493.3" cy="199.4" r="1.5" fill="#0039ff"/>
<circle cx="496.7" cy="199.1" r="1.5" fill="#0095ff"/>
<circle cx="507.4" cy="199.0" r="1.5" fill="#0067ff"/>
<circle cx="521.5" cy="199.3" r="1.5" fill="#007fff"/>
<circle cx="383.4" cy="202.2" r="1.5" fill="#0085ff"/>
<circle cx="386.5" cy="202.4" r="1.5" fill="#00e3ff"/>
<circle cx="397.0" cy="202.0" r="1.5" fill="#0032ff"/>
<circle cx="404.4" cy="201.8" r="1.5" fill="#00ffc2"/>
<circle cx="407.4" cy="202.1" r="1.5" fill="#6f00ff"/>
<circle cx="414.6" cy="201.7" r="1.5" fill="#00ff98"/>
<circle cx="418.4" cy="202.2" r="1.5" fill="#00d6ff"/>
<circle cx="421.8" cy="202.1" r="1.5" fill="#0039ff"/>
<circle cx="425.1" cy="202.2" r="1.5" fill="#0072ff"/>
<circle cx="438.8" cy="202.1" r="1.5" fill="#00c1ff"/>
<circle cx="442.4" cy="202.3" r="1.5" fill="#0034ff"/>
<circle cx="445.9" cy="202.1" r="1.5" fill="#009fff"/>
<circle cx="449.5" cy="202.6" r="1.5" fill="#00a8ff"/>
<circle cx="456.6" cy="202.3" r="1.5" fill="#00b8ff"/>
<circle cx="470.2" cy="202.0" r="1.5" fill="#00e9ff"/>
<circle cx="484.7" cy="201.8" r="1.5" fill="#00b8ff"/>
<circle cx="488.3" cy="202.0" r="1.5" fill="#00baff"/>
<circle cx="491.3" cy="202.0" r="1.5" fill="#00e2ff"/>
<circle cx="498.0" cy="202.3" r="1.5" fill="#002fff"/>
<circle cx="502.4" cy="202.0" r="1.5" fill="#0036ff"/>
<circle cx="505.7" cy="201.6" r="1.5" fill="#00ffdf"/>
<circle cx="509.2" cy="202.3" r="1.5" fill="#00b3ff"/>
<circle cx="512.5" cy="202.1" r="1.5" fill="#0037ff"/>
<circle cx="519.5" cy="202.0" r="1.5" fill="#00ffa5"/>
<circle cx="523.2" cy="202.3" r="1.5" fill="#0041ff"/>
<circle cx="384.7" cy="205.4" r="1.5" fill="#00cdff"/>
<circle cx="395.6" cy="204.8" r="1.5" fill="#0043ff"/>
<circle cx="402.4" cy="205.2" r="1.5" fill="#007eff"/>
<circle cx="406.0" cy="205.0" r="1.5" fill="#0076ff"/>
<circle cx="416.4" cy="205.0" r="1.5" fill="#0080ff"/>
<circle cx="423.6" cy="205.6" r="1.5" fill="#00ff83"/>
<circle cx="430.3" cy="205.2" r="1.5" fill="#00caff"/>
<circle cx="444.3" cy="205.2" r="1.5" fill="#00d4ff"/>
<circle cx="447.8" cy="205.1" r="1.5" fill="#00d7ff"/>
<circle cx="458.1" cy="205.1" r="1.5" fill="#0100ff"/>
<circle cx="461.5" cy="205.3" r="1.5" fill="#006cff"/>
<circle cx="468.6" cy="205.3" r="1.5" fill="#0099ff"/>
<circle cx="482.9" cy="205.5" r="1.5" fill="#00ddff"/>
<circle cx="493.1" cy="204.9" r="1.5" fill="#f900ff"/>
<circle cx="500.3" cy="205.4" r="1.5" fill="#00ffd4"/>
<circle cx="507.4" cy="205.1" r="1.5" fill="#00f0ff"/>
<circle cx="510.8" cy="204.9" r="1.5" fill="#00ff9a"/>
<circle cx="514.7" cy="205.0" r="1.5" fill="#0024ff"/>
<circle cx="517.9" cy="205.2" r="1.5" fill="#00d4ff"/>
<circle cx="386.3" cy="208.0" r="1.5" fill="#0096ff"/>
<circle cx="400.6" cy="208.5" r="1.5" fill="#0043ff"/>
<circle cx="421.8" cy="208.8" r="1.5" fill="#00d0ff"/>
<circle cx="425.2" cy="208.5" r="1.5" fill="#6f00ff"/>
<circle cx="428.6" cy="208.3" r="1.5" fill="#00edff"/>
<circle cx="435.6" cy="208.4" r="1.5" fill="#004fff"/>
<circle cx="446.1" cy="207.9" r="1.5" fill="#00c9ff"/>
<circle cx="449.8" cy="208.1" r="1.5" fill="#00ffc8"/>
<circle cx="453.1" cy="207.9" r="1.5" fill="#00a9ff"/>
<circle cx="456.3" cy="208.0" r="1.5" fill="#0080ff"/>
<circle cx="460.0" cy="207.7" r="1.5" fill="#00ff8f"/>
<circle cx="463.7" cy="208.4" r="1.5" fill="#004aff"/>
<circle cx="467.2" cy="208.1" r="1.5" fill="#00ffae"/>
<circle cx="474.2" cy="207.9" r="1.5" fill="#00ff5e"/>
<circle cx="477.6" cy="208.0" r="1.5" fill="#00bcff"/>
<circle cx="488.1" cy="208.2" r="1.5" fill="#00fff0"/>
<circle cx="491.4" cy="207.9" r="1.5" fill="#005bff"/>
<circle cx="495.1" cy="208.0" r="1.5" fill="#00a5ff"/>
<circle cx="512.6" cy="208.2" r="1.5" fill="#0026ff"/>
<circle cx="519.3" cy="208.3" r="1.5" fill="#0031ff"/>
<circle cx="522.9" cy="208.4" r="1.5" fill="#00d6ff"/>
<circle cx="388.1" cy="211.3" r="1.5" fill="#00b5ff"/>
<circle cx="392.2" cy="211.6" r="1.5" fill="#0071ff"/>
<circle cx="395.3" cy="211.4" r="1.5" fill="#00f5ff"/>
<circle cx="398.9" cy="211.5" r="1.5" fill="#0064ff"/>
<circle cx="409.8" cy="211.2" r="1.5" fill="#003fff"/>
<circle cx="419.9" cy="210.9" r="1.5" fill="#0054ff"/>
<circle cx="427.1" cy="211.3" r="1.5" fill="#00ffa5"/>
<circle cx="430.5" cy="211.1" r="1.5" fill="#008bff"/>
<circle cx="434.0" cy="211.5" r="1.5" fill="#006dff"/>
<circle cx="447.8" cy="211.6" r="1.5" fill="#0023ff"/>
<circle cx="451.7" cy="211.4" r="1.5" fill="#0066ff"/>
<circle cx="461.5" cy="211.0" r="1.5" fill="#0037ff"/>
<circle cx="465.1" cy="211.4" r="1.5" fill="#00cbff"/>
<circle cx="469.2" cy="211.2" r="1.5" fill="#0056ff"/>
<circle cx="490.0" cy="211.3" r="1.5" fill="#00ddff"/>
<circle cx="493.5" cy="211.2" r="1.5" fill="#001bff"/>
<circle cx="496.9" cy="210.9" r="1.5" fill="#0036ff"/>
<circle cx="504.4" cy="211.2" r="1.5" fill="#0074ff"/>
<circle cx="507.5" cy="211.2" r="1.5" fill="#00daff"/>
<circle cx="514.4" cy="211.2" r="1.5" fill="#0044ff"/>
<circle cx="383.4" cy="214.5" r="1.5" fill="#004fff"/>
<circle cx="386.8" cy="214.3" r="1.5" fill="#0024ff"/>
<circle cx="390.0" cy="214.4" r="1.5" fill="#0060ff"/>
<circle cx="393.6" cy="214.0" r="1.5" fill="#009eff"/>
<circle cx="397.0" cy="214.3" r="1.5" fill="#004fff"/>
<circle cx="400.6" cy="214.4" r="1.5" fill="#0033ff"/>
<circle cx="404.2" cy="214.2" r="1.5" fill="#0018ff"/>
<circle cx="408.2" cy="214.4" r="1.5" fill="#002aff"/>
<circle cx="411.1" cy="214.3" r="1.5" fill="#0046ff"/>
<circle cx="414.9" cy="214.2" r="1.5" fill="#0060ff"/>
<circle cx="418.4" cy="214.4" r="1.5" fill="#0053ff"/>
<circle cx="421.8" cy="214.4" r="1.5" fill="#0033ff"/>
<circle cx="425.1" cy="214.5" r="1.5" fill="#0020ff"/>
<circle cx="428.3" cy="214.3" r="1.5" fill="#0080ff"/>
<circle cx="432.1" cy="214.5" r="1.5" fill="#003aff"/>
<circle cx="435.9" cy="214.0" r="1.5" fill="#0040ff"/>
<circle cx="439.0" cy="214.2" r="1.5" fill="#0027ff"/>
<circle cx="442.7" cy="214.3" r="1.5" fill="#0048ff"/>
<circle cx="446.0" cy="214.1" r="1.5" fill="#0045ff"/>
<circle cx="449.4" cy="214.3" r="1.5" fill="#0060ff"/>
<circle cx="453.2" cy="214.3" r="1.5" fill="#002eff"/>
<circle cx="456.5" cy="214.1" r="1.5" fill="#000fff"/>
<circle cx="463.4" cy="214.4" r="1.5" fill="#0025ff"/>
<circle cx="467.2" cy="214.3" r="1.5" fill="#0091ff"/>
<circle cx="481.3" cy="214.2" r="1.5" fill="#0033ff"/>
<circle cx="484.8" cy="214.6" r="1.5" fill="#004eff"/>
<circle cx="491.4" cy="214.6" r="1.5" fill="#0069ff"/>
<circle cx="494.9" cy="214.3" r="1.5" fill="#0025ff"/>
<circle cx="498.5" cy="214.4" r="1.5" fill="#0097ff"/>
<circle cx="502.5" cy="214.3" r="1.5" fill="#0066ff"/>
<circle cx="505.6" cy="214.5" r="1.5" fill="#008dff"/>
<circle cx="509.3" cy="214.2" r="1.5" fill="#0074ff"/>
<circle cx="512.8" cy="214.1" r="1.5" fill="#0027ff"/>
<circle cx="516.2" cy="214.8" r="1.5" fill="#005aff"/>
<circle cx="519.5" cy="214.2" r="1.5" fill="#0063ff"/>
<circle cx="381.2" cy="217.2" r="1.5" fill="#005fff"/>
<circle cx="384.7" cy="217.4" r="1.5" fill="#002cff"/>
<circle cx="388.4" cy="217.2" r="1.5" fill="#0018ff"/>
<circle cx="391.7" cy="217.7" r="1.5" fill="#007bff"/>
<circle cx="395.2" cy="217.0" r="1.5" fill="#0066ff"/>
<circle cx="398.6" cy="217.3" r="1.5" fill="#0026ff"/>
<circle cx="402.4" cy="217.5" r="1.5" fill="#003bff"/>
<circle cx="405.8" cy="217.1" r="1.5" fill="#003cff"/>
<circle cx="409.4" cy="217.5" r="1.5" fill="#000cff"/>
<circle cx="416.3" cy="217.0" r="1.5" fill="#0029ff"/>
<circle cx="423.1" cy="217.1" r="1.5" fill="#0001ff"/>
<circle cx="426.9" cy="217.1" r="1.5" fill="#0099ff"/>
<circle cx="430.2" cy="216.6" r="1.5" fill="#0031ff"/>
<circle cx="433.7" cy="217.5" r="1.5" fill="#003eff"/>
<circle cx="441.1" cy="217.2" r="1.5" fill="#0034ff"/>
<circle cx="447.5" cy="217.2" r="1.5" fill="#003eff"/>
<circle cx="451.4" cy="217.3" r="1.5" fill="#0040ff"/>
<circle cx="455.1" cy="217.9" r="1.5" fill="#000fff"/>
<circle cx="458.4" cy="217.4" r="1.5" fill="#0056ff"/>
<circle cx="465.3" cy="217.3" r="1.5" fill="#0046ff"/>
<circle cx="472.4" cy="217.6" r="1.5" fill="#0087ff"/>
<circle cx="475.5" cy="217.4" r="1.5" fill="#000fff"/>
<circle cx="479.0" cy="217.2" r="1.5" fill="#0084ff"/>
<circle cx="482.6" cy="217.6" r="1.5" fill="#0f00ff"/>
<circle cx="486.2" cy="217.6" r="1.5" fill="#003cff"/>
<circle cx="489.9" cy="217.6" r="1.5" fill="#0084ff"/>
<circle cx="493.0" cy="217.1" r="1.5" fill="#0058ff"/>
<circle cx="496.9" cy="217.7" r="1.5" fill="#0078ff"/>
<circle cx="500.2" cy="217.3" r="1.5" fill="#0039ff"/>
<circle cx="507.0" cy="217.2" r="1.5" fill="#00b3ff"/>
<circle cx="510.9" cy="217.3" r="1.5" fill="#007fff"/>
<circle cx="521.4" cy="217.3" r="1.5" fill="#0082ff"/>
<circle cx="379.8" cy="220.5" r="1.5" fill="#004eff"/>
<circle cx="383.1" cy="220.5" r="1.5" fill="#000aff"/>
<circle cx="386.8" cy="220.4" r="1.5" fill="#000cff"/>
<circle cx="390.2" cy="220.1" r="1.5" fill="#000dff"/>
<circle cx="393.8" cy="220.5" r="1.5" fill="#007fff"/>
<circle cx="396.9" cy="220.5" r="1.5" fill="#0023ff"/>
<circle cx="400.6" cy="220.6" r="1.5" fill="#005dff"/>
<circle cx="404.4" cy="220.3" r="1.5" fill="#0025ff"/>
<circle cx="407.4" cy="220.4" r="1.5" fill="#0065ff"/>
<circle cx="411.1" cy="219.9" r="1.5" fill="#0029ff"/>
<circle cx="414.4" cy="220.6" r="1.5" fill="#001dff"/>
<circle cx="418.2" cy="220.3" r="1.5" fill="#004aff"/>
<circle cx="421.6" cy="220.7" r="1.5" fill="#0047ff"/>
<circle cx="425.4" cy="220.6" r="1.5" fill="#0044ff"/>
<circle cx="428.6" cy="220.3" r="1.5" fill="#0059ff"/>
<circle cx="432.3" cy="220.4" r="1.5" fill="#0071ff"/>
<circle cx="435.5" cy="220.4" r="1.5" fill="#002dff"/>
<circle cx="438.8" cy="220.4" r="1.5" fill="#002fff"/>
<circle cx="442.5" cy="220.2" r="1.5" fill="#006bff"/>
<circle cx="446.0" cy="220.3" r="1.5" fill="#0023ff"/>
<circle cx="449.6" cy="220.7" r="1.5" fill="#002cff"/>
<circle cx="456.5" cy="220.4" r="1.5" fill="#0024ff"/>
<circle cx="463.3" cy="220.2" r="1.5" fill="#0058ff"/>
<circle cx="467.0" cy="220.1" r="1.5" fill="#0068ff"/>
<circle cx="470.6" cy="220.4" r="1.5" fill="#0068ff"/>
<circle cx="474.2" cy="220.1" r="1.5" fill="#003eff"/>
<circle cx="477.8" cy="220.6" r="1.5" fill="#0059ff"/>
<circle cx="481.1" cy="220.2" r="1.5" fill="#0013ff"/>
<circle cx="488.1" cy="220.5" r="1.5" fill="#006cff"/>
<circle cx="491.9" cy="221.0" r="1.5" fill="#0055ff"/>
<circle cx="495.0" cy="220.1" r="1.5" fill="#0070ff"/>
<circle cx="502.1" cy="220.1" r="1.5" fill="#003dff"/>
<circle cx="505.8" cy="220.9" r="1.5" fill="#0076ff"/>
<circle cx="512.5" cy="220.3" r="1.5" fill="#0084ff"/>
<circle cx="516.2" cy="220.0" r="1.5" fill="#002bff"/>
<circle cx="384.9" cy="223.3" r="1.5" fill="#001eff"/>
<circle cx="388.3" cy="223.3" r="1.5" fill="#0029ff"/>
<circle cx="391.8" cy="223.4" r="1.5" fill="#008cff"/>
<circle cx="395.3" cy="223.4" r="1.5" fill="#0012ff"/>
<circle cx="398.8" cy="223.2" r="1.5" fill="#001eff"/>
<circle cx="402.4" cy="223.3" r="1.5" fill="#000fff"/>
<circle cx="413.0" cy="223.3" r="1.5" fill="#000cff"/>
<circle cx="416.0" cy="223.4" r="1.5" fill="#0013ff"/>
<circle cx="419.9" cy="222.7" r="1.5" fill="#0000ff"/>
<circle cx="423.2" cy="223.1" r="1.5" fill="#6f00ff"/>
<circle cx="426.9" cy="222.8" r="1.5" fill="#0073ff"/>
<circle cx="430.1" cy="223.4" r="1.5" fill="#0073ff"/>
<circle cx="433.7" cy="223.4" r="1.5" fill="#0020ff"/>
<circle cx="437.5" cy="223.4" r="1.5" fill="#0055ff"/>
<circle cx="441.3" cy="223.2" r="1.5" fill="#0067ff"/>
<circle cx="448.0" cy="223.1" r="1.5" fill="#0064ff"/>
<circle cx="451.3" cy="223.5" r="1.5" fill="#0024ff"/>
<circle cx="458.3" cy="223.2" r="1.5" fill="#0014ff"/>
<circle cx="461.9" cy="223.5" r="1.5" fill="#0048ff"/>
<circle cx="465.4" cy="223.1" r="1.5" fill="#0089ff"/>
<circle cx="469.1" cy="223.5" r="1.5" fill="#0039ff"/>
<circle cx="472.5" cy="223.5" r="1.5" fill="#00a6ff"/>
<circle cx="479.4" cy="223.4" r="1.5" fill="#0012ff"/>
<circle cx="482.7" cy="223.3" r="1.5" fill="#0017ff"/>
<circle cx="486.3" cy="223.3" r="1.5" fill="#005eff"/>
<circle cx="490.2" cy="223.6" r="1.5" fill="#0076ff"/>
<circle cx="493.1" cy="223.4" r="1.5" fill="#0012ff"/>
<circle cx="503.8" cy="223.6" r="1.5" fill="#006eff"/>
<circle cx="514.1" cy="223.6" r="1.5" fill="#0059ff"/>
<circle cx="517.8" cy="223.5" r="1.5" fill="#0035ff"/>
<circle cx="379.5" cy="226.8" r="1.5" fill="#0043ff"/>
<circle cx="383.1" cy="226.8" r="1.5" fill="#003aff"/>
<circle cx="386.2" cy="226.4" r="1.5" fill="#0000ff"/>
<circle cx="390.1" cy="226.4" r="1.5" fill="#0081ff"/>
<circle cx="393.5" cy="226.0" r="1.5" fill="#009bff"/>
<circle cx="396.9" cy="226.3" r="1.5" fill="#0061ff"/>
<circle cx="400.5" cy="226.5" r="1.5" fill="#008cff"/>
<circle cx="403.8" cy="226.4" r="1.5" fill="#0050ff"/>
<circle cx="411.4" cy="226.4" r="1.5" fill="#0058ff"/>
<circle cx="418.3" cy="226.1" r="1.5" fill="#0052ff"/>
<circle cx="421.7" cy="226.2" r="1.5" fill="#0030ff"/>
<circle cx="424.8" cy="226.3" r="1.5" fill="#003bff"/>
<circle cx="432.1" cy="226.4" r="1.5" fill="#004fff"/>
<circle cx="435.7" cy="226.5" r="1.5" fill="#0027ff"/>
<circle cx="438.9" cy="226.4" r="1.5" fill="#001aff"/>
<circle cx="442.4" cy="226.7" r="1.5" fill="#0025ff"/>
<circle cx="445.9" cy="226.5" r="1.5" fill="#0050ff"/>
<circle cx="449.7" cy="226.5" r="1.5" fill="#0022ff"/>
<circle cx="460.0" cy="226.1" r="1.5" fill="#001dff"/>
<circle cx="463.6" cy="226.5" r="1.5" fill="#0064ff"/>
<circle cx="467.1" cy="226.4" r="1.5" fill="#0075ff"/>
<circle cx="474.1" cy="226.4" r="1.5" fill="#005bff"/>
<circle cx="477.7" cy="225.8" r="1.5" fill="#001cff"/>
<circle cx="481.2" cy="226.5" r="1.5" fill="#0c00ff"/>
<circle cx="484.6" cy="226.5" r="1.5" fill="#0026ff"/>
<circle cx="488.2" cy="226.6" r="1.5" fill="#0083ff"/>
<circle cx="491.5" cy="226.4" r="1.5" fill="#0070ff"/>
<circle cx="495.1" cy="226.4" r="1.5" fill="#003aff"/>
<circle cx="498.6" cy="226.3" r="1.5" fill="#0056ff"/>
<circle cx="502.1" cy="226.3" r="1.5" fill="#001fff"/>
<circle cx="505.7" cy="226.3" r="1.5" fill="#0038ff"/>
<circle cx="516.1" cy="226.3" r="1.5" fill="#0083ff"/>
<circle cx="381.3" cy="229.3" r="1.5" fill="#0032ff"/>
<circle cx="388.4" cy="229.7" r="1.5" fill="#004fff"/>
<circle cx="392.0" cy="229.5" r="1.5" fill="#0088ff"/>
<circle cx="395.5" cy="229.1" r="1.5" fill="#0046ff"/>
<circle cx="399.0" cy="229.4" r="1.5" fill="#0080ff"/>
<circle cx="405.6" cy="229.0" r="1.5" fill="#0400ff"/>
<circle cx="413.0" cy="229.3" r="1.5" fill="#001dff"/>
<circle cx="416.5" cy="229.7" r="1.5" fill="#0094ff"/>
<circle cx="419.9" cy="229.3" r="1.5" fill="#0078ff"/>
<circle cx="423.5" cy="229.2" r="1.5" fill="#006dff"/>
<circle cx="427.2" cy="229.7" r="1.5" fill="#0015ff"/>
<circle cx="430.3" cy="229.3" r="1.5" fill="#0032ff"/>
<circle cx="433.8" cy="229.1" r="1.5" fill="#008aff"/>
<circle cx="437.3" cy="229.6" r="1.5" fill="#002dff"/>
<circle cx="444.6" cy="229.5" r="1.5" fill="#0046ff"/>
<circle cx="448.1" cy="229.5" r="1.5" fill="#0026ff"/>
<circle cx="451.3" cy="229.6" r="1.5" fill="#0400ff"/>
<circle cx="455.0" cy="229.0" r="1.5" fill="#0031ff"/>
<circle cx="458.7" cy="229.1" r="1.5" fill="#003aff"/>
<circle cx="462.2" cy="229.1" r="1.5" fill="#0034ff"/>
<circle cx="465.3" cy="229.6" r="1.5" fill="#001cff"/>
<circle cx="468.9" cy="229.6" r="1.5" fill="#0033ff"/>
<circle cx="472.4" cy="229.0" r="1.5" fill="#0068ff"/>
<circle cx="475.8" cy="229.5" r="1.5" fill="#0089ff"/>
<circle cx="479.3" cy="229.1" r="1.5" fill="#6f00ff"/>
<circle cx="482.7" cy="229.6" r="1.5" fill="#0094ff"/>
<circle cx="486.6" cy="229.8" r="1.5" fill="#0070ff"/>
<circle cx="490.0" cy="229.1" r="1.5" fill="#005cff"/>
<circle cx="493.2" cy="229.5" r="1.5" fill="#002aff"/>
<circle cx="497.1" cy="229.9" r="1.5" fill="#0099ff"/>
<circle cx="500.4" cy="229.3" r="1.5" fill="#0058ff"/>
<circle cx="504.0" cy="229.5" r="1.5" fill="#008dff"/>
<circle cx="507.2" cy="229.6" r="1.5" fill="#0019ff"/>
<circle cx="510.6" cy="229.4" r="1.5" fill="#004fff"/>
<circle cx="514.5" cy="229.2" r="1.5" fill="#002eff"/>
<circle cx="517.6" cy="229.7" r="1.5" fill="#000eff"/>
<circle cx="521.5" cy="229.4" r="1.5" fill="#0024ff"/>
<circle cx="379.7" cy="232.4" r="1.5" fill="#0002ff"/>
<circle cx="383.0" cy="232.3" r="1.5" fill="#003cff"/>
<circle cx="386.5" cy="232.5" r="1.5" fill="#0031ff"/>
<circle cx="390.3" cy="232.3" r="1.5" fill="#001aff"/>
<circle cx="393.8" cy="232.6" r="1.5" fill="#0058ff"/>
<circle cx="400.1" cy="232.6" r="1.5" fill="#0082ff"/>
<circle cx="407.7" cy="232.5" r="1.5" fill="#0045ff"/>
<circle cx="411.2" cy="232.5" r="1.5" fill="#0005ff"/>
<circle cx="418.0" cy="232.4" r="1.5" fill="#0047ff"/>
<circle cx="421.5" cy="232.2" r="1.5" fill="#001eff"/>
<circle cx="425.2" cy="232.4" r="1.5" fill="#001aff"/>
<circle cx="428.5" cy="232.6" r="1.5" fill="#0059ff"/>
<circle cx="431.8" cy="232.5" r="1.5" fill="#001eff"/>
<circle cx="435.5" cy="232.4" r="1.5" fill="#0032ff"/>
<circle cx="439.2" cy="232.4" r="1.5" fill="#005bff"/>
<circle cx="443.0" cy="232.9" r="1.5" fill="#0045ff"/>
<circle cx="446.0" cy="232.5" r="1.5" fill="#007cff"/>
<circle cx="453.4" cy="232.8" r="1.5" fill="#001dff"/>
<circle cx="456.7" cy="232.2" r="1.5" fill="#003cff"/>
<circle cx="459.9" cy="232.4" r="1.5" fill="#0011ff"/>
<circle cx="463.3" cy="232.4" r="1.5" fill="#002cff"/>
<circle cx="467.4" cy="232.4" r="1.5" fill="#0076ff"/>
<circle cx="470.6" cy="232.5" r="1.5" fill="#0089ff"/>
<circle cx="474.0" cy="232.6" r="1.5" fill="#004eff"/>
<circle cx="477.6" cy="232.5" r="1.5" fill="#007dff"/>
<circle cx="481.0" cy="232.6" r="1.5" fill="#0014ff"/>
<circle cx="485.0" cy="232.5" r="1.5" fill="#0040ff"/>
<circle cx="488.4" cy="232.6" r="1.5" fill="#007bff"/>
<circle cx="495.2" cy="232.4" r="1.5" fill="#0026ff"/>
<circle cx="498.5" cy="232.2" r="1.5" fill="#0071ff"/>
<circle cx="502.3" cy="232.3" r="1.5" fill="#0040ff"/>
<circle cx="505.7" cy="232.5" r="1.5" fill="#0056ff"/>
<circle cx="509.3" cy="232.3" r="1.5" fill="#0041ff"/>
<circle cx="512.7" cy="232.6" r="1.5" fill="#002dff"/>
<circle cx="516.3" cy="231.8" r="1.5" fill="#004aff"/>
<circle cx="519.5" cy="232.5" r="1.5" fill="#003bff"/>
<circle cx="523.2" cy="232.3" r="1.5" fill="#006dff"/>
<circle cx="381.3" cy="235.9" r="1.5" fill="#0016ff"/>
<circle cx="384.8" cy="235.5" r="1.5" fill="#0012ff"/>
<circle cx="388.3" cy="235.6" r="1.5" fill="#0046ff"/>
<circle cx="392.1" cy="235.2" r="1.5" fill="#001aff"/>
<circle cx="395.0" cy="235.6" r="1.5" fill="#0029ff"/>
<circle cx="398.7" cy="235.4" r="1.5" fill="#0081ff"/>
<circle cx="402.7" cy="235.9" r="1.5" fill="#0032ff"/>
<circle cx="405.8" cy="235.5" r="1.5" fill="#0028ff"/>
<circle cx="409.3" cy="235.2" r="1.5" fill="#0017ff"/>
<circle cx="412.7" cy="235.2" r="1.5" fill="#004bff"/>
<circle cx="416.2" cy="235.7" r="1.5" fill="#0047ff"/>
<circle cx="419.7" cy="235.3" r="1.5" fill="#0054ff"/>
<circle cx="423.7" cy="235.8" r="1.5" fill="#006fff"/>
<circle cx="426.7" cy="235.0" r="1.5" fill="#0089ff"/>
<circle cx="430.3" cy="235.5" r="1.5" fill="#0064ff"/>
<circle cx="433.8" cy="235.7" r="1.5" fill="#006fff"/>
<circle cx="437.4" cy="235.3" r="1.5" fill="#0058ff"/>
<circle cx="441.2" cy="235.8" r="1.5" fill="#0037ff"/>
<circle cx="444.2" cy="235.4" r="1.5" fill="#0051ff"/>
<circle cx="447.6" cy="235.5" r="1.5" fill="#000aff"/>
<circle cx="451.4" cy="235.2" r="1.5" fill="#0050ff"/>
<circle cx="455.0" cy="235.6" r="1.5" fill="#0071ff"/>
<circle cx="458.3" cy="235.4" r="1.5" fill="#0015ff"/>
<circle cx="465.1" cy="235.7" r="1.5" fill="#00aeff"/>
<circle cx="468.6" cy="235.5" r="1.5" fill="#00a3ff"/>
<circle cx="471.9" cy="235.5" r="1.5" fill="#002aff"/>
<circle cx="476.3" cy="235.5" r="1.5" fill="#0039ff"/>
<circle cx="479.2" cy="235.4" r="1.5" fill="#0098ff"/>
<circle cx="482.6" cy="235.5" r="1.5" fill="#0063ff"/>
<circle cx="486.5" cy="235.6" r="1.5" fill="#008fff"/>
<circle cx="489.7" cy="235.5" r="1.5" fill="#0014ff"/>
<circle cx="493.6" cy="235.7" r="1.5" fill="#0072ff"/>
<circle cx="496.7" cy="235.8" r="1.5" fill="#0060ff"/>
<circle cx="500.6" cy="235.6" r="1.5" fill="#0069ff"/>
<circle cx="504.0" cy="235.6" r="1.5" fill="#005dff"/>
<circle cx="507.2" cy="236.0" r="1.5" fill="#0070ff"/>
<circle cx="511.4" cy="235.3" r="1.5" fill="#0055ff"/>
<circle cx="513.9" cy="235.4" r="1.5" fill="#0051ff"/>
<circle cx="518.1" cy="235.3" r="1.5" fill="#003dff"/>
<circle cx="521.4" cy="235.3" r="1.5" fill="#0031ff"/>
<circle cx="379.3" cy="238.6" r="1.5" fill="#003aff"/>
<circle cx="383.0" cy="238.8" r="1.5" fill="#004cff"/>
<circle cx="386.6" cy="238.3" r="1.5" fill="#0047ff"/>
<circle cx="389.9" cy="238.4" r="1.5" fill="#0093ff"/>
<circle cx="397.0" cy="238.9" r="1.5" fill="#0075ff"/>
<circle cx="411.1" cy="238.1" r="1.5" fill="#007fff"/>
<circle cx="414.7" cy="238.5" r="1.5" fill="#004fff"/>
<circle cx="425.5" cy="238.4" r="1.5" fill="#0043ff"/>
<circle cx="432.2" cy="238.9" r="1.5" fill="#001dff"/>
<circle cx="435.8" cy="238.5" r="1.5" fill="#004cff"/>
<circle cx="438.9" cy="238.8" r="1.5" fill="#0700ff"/>
<circle cx="442.2" cy="238.1" r="1.5" fill="#0040ff"/>
<circle cx="446.5" cy="238.5" r="1.5" fill="#003bff"/>
<circle cx="449.6" cy="238.8" r="1.5" fill="#0062ff"/>
<circle cx="453.3" cy="238.3" r="1.5" fill="#0045ff"/>
<circle cx="456.6" cy="238.3" r="1.5" fill="#0800ff"/>
<circle cx="460.2" cy="238.6" r="1.5" fill="#004dff"/>
<circle cx="463.6" cy="238.5" r="1.5" fill="#003dff"/>
<circle cx="467.0" cy="238.9" r="1.5" fill="#001bff"/>
<circle cx="470.5" cy="238.4" r="1.5" fill="#0012ff"/>
<circle cx="474.1" cy="238.4" r="1.5" fill="#005cff"/>
<circle cx="477.7" cy="238.7" r="1.5" fill="#0075ff"/>
<circle cx="481.3" cy="238.9" r="1.5" fill="#0068ff"/>
<circle cx="485.0" cy="238.6" r="1.5" fill="#0061ff"/>
<circle cx="494.9" cy="238.8" r="1.5" fill="#001fff"/>
<circle cx="498.6" cy="238.6" r="1.5" fill="#0088ff"/>
<circle cx="502.0" cy="238.2" r="1.5" fill="#0054ff"/>
<circle cx="505.5" cy="238.3" r="1.5" fill="#004bff"/>
<circle cx="509.3" cy="238.4" r="1.5" fill="#0088ff"/>
<circle cx="519.7" cy="238.4" r="1.5" fill="#005cff"/>
<circle cx="522.8" cy="238.8" r="1.5" fill="#0026ff"/>
<circle cx="388.3" cy="241.6" r="1.5" fill="#00a5ff"/>
<circle cx="391.8" cy="241.6" r="1.5" fill="#0013ff"/>
<circle cx="395.3" cy="241.5" r="1.5" fill="#003bff"/>
<circle cx="398.6" cy="241.6" r="1.5" fill="#0016ff"/>
<circle cx="402.5" cy="241.4" r="1.5" fill="#0021ff"/>
<circle cx="406.0" cy="241.8" r="1.5" fill="#001aff"/>
<circle cx="409.1" cy="241.4" r="1.5" fill="#006fff"/>
<circle cx="412.5" cy="241.8" r="1.5" fill="#006bff"/>
<circle cx="419.8" cy="241.6" r="1.5" fill="#007aff"/>
<circle cx="423.5" cy="241.4" r="1.5" fill="#0057ff"/>
<circle cx="426.7" cy="241.8" r="1.5" fill="#001cff"/>
<circle cx="430.4" cy="241.3" r="1.5" fill="#0053ff"/>
<circle cx="433.9" cy="241.6" r="1.5" fill="#002cff"/>
<circle cx="437.4" cy="241.6" r="1.5" fill="#0026ff"/>
<circle cx="444.5" cy="241.6" r="1.5" fill="#0078ff"/>
<circle cx="447.7" cy="241.8" r="1.5" fill="#0400ff"/>
<circle cx="451.1" cy="241.3" r="1.5" fill="#0031ff"/>
<circle cx="455.1" cy="241.4" r="1.5" fill="#0021ff"/>
<circle cx="458.3" cy="241.8" r="1.5" fill="#0055ff"/>
<circle cx="465.3" cy="241.3" r="1.5" fill="#005bff"/>
<circle cx="472.5" cy="241.7" r="1.5" fill="#0070ff"/>
<circle cx="476.2" cy="241.6" r="1.5" fill="#007fff"/>
<circle cx="479.4" cy="241.7" r="1.5" fill="#0072ff"/>
<circle cx="482.8" cy="241.6" r="1.5" fill="#0029ff"/>
<circle cx="486.5" cy="241.4" r="1.5" fill="#0060ff"/>
<circle cx="489.9" cy="241.0" r="1.5" fill="#0060ff"/>
<circle cx="493.5" cy="241.9" r="1.5" fill="#0058ff"/>
<circle cx="497.2" cy="241.8" r="1.5" fill="#0048ff"/>
<circle cx="500.3" cy="241.6" r="1.5" fill="#0080ff"/>
<circle cx="504.0" cy="241.6" r="1.5" fill="#0050ff"/>
<circle cx="507.8" cy="241.7" r="1.5" fill="#0018ff"/>
<circle cx="510.8" cy="241.2" r="1.5" fill="#001fff"/>
<circle cx="517.7" cy="241.7" r="1.5" fill="#002fff"/>
<circle cx="521.4" cy="241.7" r="1.5" fill="#0009ff"/>
<circle cx="379.1" cy="244.7" r="1.5" fill="#0063ff"/>
<circle cx="383.4" cy="244.6" r="1.5" fill="#0074ff"/>
<circle cx="386.7" cy="244.5" r="1.5" fill="#0046ff"/>
<circle cx="389.9" cy="244.6" r="1.5" fill="#0086ff"/>
<circle cx="393.4" cy="244.4" r="1.5" fill="#004eff"/>
<circle cx="397.0" cy="244.4" r="1.5" fill="#003bff"/>
<circle cx="407.4" cy="244.5" r="1.5" fill="#0057ff"/>
<circle cx="410.9" cy="244.5" r="1.5" fill="#0044ff"/>
<circle cx="414.6" cy="244.8" r="1.5" fill="#0094ff"/>
<circle cx="417.7" cy="244.7" r="1.5" fill="#006eff"/>
<circle cx="421.6" cy="244.9" r="1.5" fill="#0083ff"/>
<circle cx="425.4" cy="244.8" r="1.5" fill="#0048ff"/>
<circle cx="428.7" cy="244.6" r="1.5" fill="#000eff"/>
<circle cx="432.1" cy="244.5" r="1.5" fill="#004aff"/>
<circle cx="435.8" cy="244.6" r="1.5" fill="#0016ff"/>
<circle cx="439.0" cy="244.7" r="1.5" fill="#004bff"/>
<circle cx="442.4" cy="244.3" r="1.5" fill="#005fff"/>
<circle cx="445.5" cy="244.8" r="1.5" fill="#0090ff"/>
<circle cx="449.6" cy="244.9" r="1.5" fill="#001cff"/>
<circle cx="453.2" cy="244.7" r="1.5" fill="#0042ff"/>
<circle cx="456.6" cy="244.5" r="1.5" fill="#0052ff"/>
<circle cx="460.1" cy="244.5" r="1.5" fill="#0007ff"/>
<circle cx="463.6" cy="244.5" r="1.5" fill="#001dff"/>
<circle cx="467.0" cy="244.6" r="1.5" fill="#0044ff"/>
<circle cx="470.6" cy="244.5" r="1.5" fill="#0043ff"/>
<circle cx="473.8" cy="244.6" r="1.5" fill="#0200ff"/>
<circle cx="477.5" cy="244.3" r="1.5" fill="#001aff"/>
<circle cx="481.1" cy="244.7" r="1.5" fill="#0700ff"/>
<circle cx="484.6" cy="244.7" r="1.5" fill="#0037ff"/>
<circle cx="488.3" cy="244.9" r="1.5" fill="#0044ff"/>
<circle cx="491.7" cy="244.7" r="1.5" fill="#002bff"/>
<circle cx="494.7" cy="244.3" r="1.5" fill="#0036ff"/>
<circle cx="498.6" cy="244.2" r="1.5" fill="#0051ff"/>
<circle cx="502.3" cy="244.9" r="1.5" fill="#002cff"/>
<circle cx="505.6" cy="244.5" r="1.5" fill="#005aff"/>
<circle cx="512.6" cy="244.7" r="1.5" fill="#000bff"/>
<circle cx="515.8" cy="244.7" r="1.5" fill="#003aff"/>
<circle cx="519.6" cy="244.9" r="1.5" fill="#0018ff"/>
<circle cx="523.2" cy="244.6" r="1.5" fill="#0023ff"/>
<circle cx="381.5" cy="247.7" r="1.5" fill="#0047ff"/>
<circle cx="388.4" cy="247.4" r="1.5" fill="#008dff"/>
<circle cx="392.0" cy="247.7" r="1.5" fill="#0061ff"/>
<circle cx="395.4" cy="247.5" r="1.5" fill="#0041ff"/>
<circle cx="399.0" cy="247.2" r="1.5" fill="#0059ff"/>
<circle cx="402.5" cy="247.5" r="1.5" fill="#006eff"/>
<circle cx="406.0" cy="247.6" r="1.5" fill="#004aff"/>
<circle cx="409.5" cy="247.2" r="1.5" fill="#0068ff"/>
<circle cx="413.1" cy="247.5" r="1.5" fill="#0009ff"/>
<circle cx="423.3" cy="248.2" r="1.5" fill="#006aff"/>
<circle cx="426.6" cy="247.6" r="1.5" fill="#001aff"/>
<circle cx="430.7" cy="247.6" r="1.5" fill="#003fff"/>
<circle cx="433.7" cy="247.9" r="1.5" fill="#001dff"/>
<circle cx="437.1" cy="247.5" r="1.5" fill="#002aff"/>
<circle cx="441.0" cy="247.6" r="1.5" fill="#004aff"/>
<circle cx="444.3" cy="247.4" r="1.5" fill="#0053ff"/>
<circle cx="447.7" cy="247.6" r="1.5" fill="#0042ff"/>
<circle cx="451.2" cy="247.5" r="1.5" fill="#004dff"/>
<circle cx="455.2" cy="247.5" r="1.5" fill="#005fff"/>
<circle cx="461.8" cy="247.7" r="1.5" fill="#0043ff"/>
<circle cx="465.4" cy="247.6" r="1.5" fill="#003fff"/>
<circle cx="468.7" cy="247.4" r="1.5" fill="#0031ff"/>
<circle cx="472.5" cy="247.7" r="1.5" fill="#0089ff"/>
<circle cx="475.7" cy="247.5" r="1.5" fill="#0600ff"/>
<circle cx="479.5" cy="247.8" r="1.5" fill="#003dff"/>
<circle cx="483.0" cy="247.8" r="1.5" fill="#0052ff"/>
<circle cx="486.3" cy="247.7" r="1.5" fill="#0048ff"/>
<circle cx="489.8" cy="247.5" r="1.5" fill="#002aff"/>
<circle cx="493.5" cy="248.2" r="1.5" fill="#006dff"/>
<circle cx="497.0" cy="247.5" r="1.5" fill="#0064ff"/>
<circle cx="500.4" cy="247.7" r="1.5" fill="#008aff"/>
<circle cx="507.2" cy="247.7" r="1.5" fill="#006fff"/>
<circle cx="511.1" cy="247.7" r="1.5" fill="#0022ff"/>
<circle cx="514.4" cy="247.7" r="1.5" fill="#004aff"/>
<circle cx="517.8" cy="247.8" r="1.5" fill="#0b00ff"/>
<circle cx="521.5" cy="247.4" r="1.5" fill="#000dff"/>
<circle cx="379.6" cy="251.0" r="1.5" fill="#0051ff"/>
<circle cx="383.2" cy="250.4" r="1.5" fill="#004dff"/>
<circle cx="386.6" cy="250.8" r="1.5" fill="#0045ff"/>
<circle cx="389.9" cy="250.7" r="1.5" fill="#006aff"/>
<circle cx="393.8" cy="250.8" r="1.5" fill="#0084ff"/>
<circle cx="397.2" cy="250.7" r="1.5" fill="#009bff"/>
<circle cx="400.5" cy="250.5" r="1.5" fill="#0067ff"/>
<circle cx="403.9" cy="250.4" r="1.5" fill="#008cff"/>
<circle cx="407.9" cy="250.8" r="1.5" fill="#007eff"/>
<circle cx="411.4" cy="250.8" r="1.5" fill="#0025ff"/>
<circle cx="414.8" cy="250.8" r="1.5" fill="#0067ff"/>
<circle cx="418.2" cy="250.6" r="1.5" fill="#008aff"/>
<circle cx="421.8" cy="250.6" r="1.5" fill="#0074ff"/>
<circle cx="425.0" cy="250.4" r="1.5" fill="#005bff"/>
<circle cx="428.5" cy="250.8" r="1.5" fill="#0013ff"/>
<circle cx="432.1" cy="250.7" r="1.5" fill="#0700ff"/>
<circle cx="435.6" cy="250.5" r="1.5" fill="#004fff"/>
<circle cx="438.9" cy="250.4" r="1.5" fill="#0067ff"/>
<circle cx="442.6" cy="250.7" r="1.5" fill="#0057ff"/>
<circle cx="446.1" cy="250.3" r="1.5" fill="#0037ff"/>
<circle cx="449.5" cy="250.8" r="1.5" fill="#0061ff"/>
<circle cx="452.8" cy="250.8" r="1.5" fill="#00ffab"/>
<circle cx="456.4" cy="250.7" r="1.5" fill="#001cff"/>
<circle cx="460.4" cy="250.3" r="1.5" fill="#0083ff"/>
<circle cx="463.3" cy="251.2" r="1.5" fill="#005dff"/>
<circle cx="467.3" cy="250.8" r="1.5" fill="#000dff"/>
<circle cx="470.3" cy="250.6" r="1.5" fill="#005bff"/>
<circle cx="477.6" cy="250.6" r="1.5" fill="#004eff"/>
<circle cx="481.1" cy="250.7" r="1.5" fill="#002aff"/>
<circle cx="491.5" cy="250.7" r="1.5" fill="#009fff"/>
<circle cx="495.2" cy="250.8" r="1.5" fill="#0048ff"/>
<circle cx="498.6" cy="251.2" r="1.5" fill="#004aff"/>
<circle cx="502.1" cy="250.6" r="1.5" fill="#006eff"/>
<circle cx="509.5" cy="251.0" r="1.5" fill="#0061ff"/>
<circle cx="512.7" cy="250.6" r="1.5" fill="#0047ff"/>
<circle cx="516.2" cy="250.7" r="1.5" fill="#002dff"/>
<circle cx="519.8" cy="250.7" r="1.5" fill="#0024ff"/>
<circle cx="523.1" cy="250.6" r="1.5" fill="#0037ff"/>
<circle cx="381.6" cy="253.7" r="1.5" fill="#003aff"/>
<circle cx="384.9" cy="253.9" r="1.5" fill="#000aff"/>
<circle cx="388.3" cy="253.7" r="1.5" fill="#0060ff"/>
<circle cx="392.1" cy="253.9" r="1.5" fill="#0060ff"/>
<circle cx="395.5" cy="253.8" r="1.5" fill="#0098ff"/>
<circle cx="399.1" cy="253.6" r="1.5" fill="#0095ff"/>
<circle cx="402.3" cy="253.5" r="1.5" fill="#003eff"/>
<circle cx="405.7" cy="253.6" r="1.5" fill="#0024ff"/>
<circle cx="409.4" cy="253.5" r="1.5" fill="#002dff"/>
<circle cx="413.1" cy="253.8" r="1.5" fill="#0058ff"/>
<circle cx="416.2" cy="253.6" r="1.5" fill="#004dff"/>
<circle cx="419.9" cy="253.5" r="1.5" fill="#0030ff"/>
<circle cx="423.7" cy="253.7" r="1.5" fill="#003aff"/>
<circle cx="427.3" cy="253.8" r="1.5" fill="#0091ff"/>
<circle cx="430.5" cy="253.6" r="1.5" fill="#002aff"/>
<circle cx="437.1" cy="253.7" r="1.5" fill="#0054ff"/>
<circle cx="440.8" cy="253.7" r="1.5" fill="#0011ff"/>
<circle cx="444.3" cy="253.5" r="1.5" fill="#0029ff"/>
<circle cx="447.8" cy="253.4" r="1.5" fill="#0023ff"/>
<circle cx="451.5" cy="253.7" r="1.5" fill="#000cff"/>
<circle cx="454.7" cy="253.7" r="1.5" fill="#000aff"/>
<circle cx="458.0" cy="253.8" r="1.5" fill="#000aff"/>
<circle cx="462.0" cy="253.4" r="1.5" fill="#005dff"/>
<circle cx="465.3" cy="253.6" r="1.5" fill="#0076ff"/>
<circle cx="468.8" cy="253.6" r="1.5" fill="#0057ff"/>
<circle cx="472.3" cy="253.7" r="1.5" fill="#0064ff"/>
<circle cx="475.5" cy="254.0" r="1.5" fill="#0008ff"/>
<circle cx="479.2" cy="253.3" r="1.5" fill="#001cff"/>
<circle cx="482.4" cy="253.7" r="1.5" fill="#0059ff"/>
<circle cx="486.7" cy="253.6" r="1.5" fill="#0042ff"/>
<circle cx="490.0" cy="253.5" r="1.5" fill="#007eff"/>
<circle cx="497.2" cy="253.8" r="1.5" fill="#0047ff"/>
<circle cx="500.2" cy="253.7" r="1.5" fill="#005bff"/>
<circle cx="503.9" cy="253.9" r="1.5" fill="#002bff"/>
<circle cx="507.3" cy="253.8" r="1.5" fill="#0060ff"/>
<circle cx="510.9" cy="253.6" r="1.5" fill="#0040ff"/>
<circle cx="514.5" cy="253.6" r="1.5" fill="#0048ff"/>
<circle cx="379.5" cy="256.6" r="1.5" fill="#000eff"/>
<circle cx="383.0" cy="256.9" r="1.5" fill="#005aff"/>
<circle cx="386.4" cy="256.7" r="1.5" fill="#0028ff"/>
<circle cx="397.1" cy="256.5" r="1.5" fill="#0036ff"/>
<circle cx="400.8" cy="256.7" r="1.5" fill="#003fff"/>
<circle cx="404.5" cy="256.5" r="1.5" fill="#0010ff"/>
<circle cx="411.1" cy="256.9" r="1.5" fill="#0057ff"/>
<circle cx="414.9" cy="257.0" r="1.5" fill="#003aff"/>
<circle cx="417.9" cy="256.8" r="1.5" fill="#0016ff"/>
<circle cx="421.9" cy="256.6" r="1.5" fill="#007dff"/>
<circle cx="424.8" cy="256.9" r="1.5" fill="#0055ff"/>
<circle cx="428.7" cy="256.9" r="1.5" fill="#0060ff"/>
<circle cx="432.0" cy="256.6" r="1.5" fill="#006dff"/>
<circle cx="435.5" cy="256.5" r="1.5" fill="#0070ff"/>
<circle cx="439.1" cy="256.6" r="1.5" fill="#001cff"/>
<circle cx="442.4" cy="256.6" r="1.5" fill="#0071ff"/>
<circle cx="446.3" cy="256.5" r="1.5" fill="#0036ff"/>
<circle cx="449.8" cy="256.7" r="1.5" fill="#0051ff"/>
<circle cx="453.2" cy="256.6" r="1.5" fill="#0042ff"/>
<circle cx="459.8" cy="256.5" r="1.5" fill="#005cff"/>
<circle cx="463.9" cy="256.6" r="1.5" fill="#001fff"/>
<circle cx="467.3" cy="256.8" r="1.5" fill="#0040ff"/>
<circle cx="470.6" cy="256.6" r="1.5" fill="#0071ff"/>
<circle cx="474.4" cy="256.9" r="1.5" fill="#004cff"/>
<circle cx="477.7" cy="256.7" r="1.5" fill="#0031ff"/>
<circle cx="481.2" cy="256.8" r="1.5" fill="#003fff"/>
<circle cx="484.6" cy="256.9" r="1.5" fill="#0023ff"/>
<circle cx="488.3" cy="256.6" r="1.5" fill="#00a0ff"/>
<circle cx="491.6" cy="256.9" r="1.5" fill="#0015ff"/>
<circle cx="494.9" cy="256.4" r="1.5" fill="#001fff"/>
<circle cx="498.7" cy="256.8" r="1.5" fill="#0024ff"/>
<circle cx="502.3" cy="256.7" r="1.5" fill="#0002ff"/>
<circle cx="505.7" cy="256.7" r="1.5" fill="#0070ff"/>
<circle cx="508.9" cy="256.5" r="1.5" fill="#0024ff"/>
<circle cx="516.3" cy="256.2" r="1.5" fill="#0021ff"/>
<circle cx="519.7" cy="256.9" r="1.5" fill="#0070ff"/>
<circle cx="523.0" cy="256.7" r="1.5" fill="#000fff"/>
<circle cx="391.8" cy="260.0" r="1.5" fill="#0023ff"/>
<circle cx="395.3" cy="260.0" r="1.5" fill="#003fff"/>
<circle cx="402.6" cy="259.7" r="1.5" fill="#000cff"/>
<circle cx="406.0" cy="259.9" r="1.5" fill="#0041ff"/>
<circle cx="409.4" cy="260.2" r="1.5" fill="#0047ff"/>
<circle cx="412.9" cy="259.8" r="1.5" fill="#0036ff"/>
<circle cx="423.3" cy="259.5" r="1.5" fill="#0037ff"/>
<circle cx="427.0" cy="260.1" r="1.5" fill="#0019ff"/>
<circle cx="430.7" cy="260.1" r="1.5" fill="#005eff"/>
<circle cx="437.2" cy="259.5" r="1.5" fill="#004bff"/>
<circle cx="441.0" cy="260.0" r="1.5" fill="#003eff"/>
<circle cx="444.3" cy="259.8" r="1.5" fill="#000cff"/>
<circle cx="447.8" cy="259.8" r="1.5" fill="#0026ff"/>
<circle cx="451.2" cy="259.8" r="1.5" fill="#0052ff"/>
<circle cx="454.6" cy="259.6" r="1.5" fill="#0012ff"/>
<circle cx="458.5" cy="259.7" r="1.5" fill="#004dff"/>
<circle cx="461.8" cy="259.4" r="1.5" fill="#0d00ff"/>
<circle cx="465.5" cy="259.6" r="1.5" fill="#0037ff"/>
<circle cx="472.4" cy="259.7" r="1.5" fill="#0058ff"/>
<circle cx="475.5" cy="259.9" r="1.5" fill="#0043ff"/>
<circle cx="482.8" cy="260.0" r="1.5" fill="#0043ff"/>
<circle cx="486.4" cy="259.5" r="1.5" fill="#007cff"/>
<circle cx="489.9" cy="260.0" r="1.5" fill="#002bff"/>
<circle cx="493.1" cy="259.9" r="1.5" fill="#0059ff"/>
<circle cx="500.3" cy="260.1" r="1.5" fill="#006fff"/>
<circle cx="503.7" cy="259.6" r="1.5" fill="#0019ff"/>
<circle cx="507.3" cy="259.7" r="1.5" fill="#0045ff"/>
<circle cx="511.0" cy="259.9" r="1.5" fill="#001bff"/>
<circle cx="514.3" cy="259.8" r="1.5" fill="#0069ff"/>
<circle cx="518.0" cy="259.9" r="1.5" fill="#0020ff"/>
<circle cx="379.7" cy="262.8" r="1.5" fill="#0038ff"/>
<circle cx="386.5" cy="262.8" r="1.5" fill="#009eff"/>
<circle cx="390.6" cy="263.0" r="1.5" fill="#001dff"/>
<circle cx="397.0" cy="263.0" r="1.5" fill="#00b4ff"/>
<circle cx="421.4" cy="262.7" r="1.5" fill="#0079ff"/>
<circle cx="424.8" cy="262.9" r="1.5" fill="#0016ff"/>
<circle cx="429.1" cy="262.6" r="1.5" fill="#0034ff"/>
<circle cx="432.0" cy="262.3" r="1.5" fill="#004cff"/>
<circle cx="435.5" cy="262.9" r="1.5" fill="#004aff"/>
<circle cx="442.4" cy="262.6" r="1.5" fill="#0060ff"/>
<circle cx="452.7" cy="262.9" r="1.5" fill="#0080ff"/>
<circle cx="459.9" cy="262.7" r="1.5" fill="#00cbff"/>
<circle cx="463.8" cy="262.6" r="1.5" fill="#0078ff"/>
<circle cx="471.0" cy="262.6" r="1.5" fill="#0084ff"/>
<circle cx="474.0" cy="262.8" r="1.5" fill="#003cff"/>
<circle cx="477.5" cy="263.1" r="1.5" fill="#0097ff"/>
<circle cx="481.1" cy="263.0" r="1.5" fill="#003cff"/>
<circle cx="484.7" cy="262.5" r="1.5" fill="#0071ff"/>
<circle cx="495.0" cy="262.8" r="1.5" fill="#00f5ff"/>
<circle cx="501.9" cy="262.6" r="1.5" fill="#00d2ff"/>
<circle cx="505.3" cy="262.9" r="1.5" fill="#0035ff"/>
<circle cx="512.6" cy="262.9" r="1.5" fill="#00ffab"/>
<circle cx="519.6" cy="263.0" r="1.5" fill="#00b8ff"/>
<circle cx="392.1" cy="265.9" r="1.5" fill="#000aff"/>
<circle cx="409.1" cy="265.9" r="1.5" fill="#0088ff"/>
<circle cx="412.7" cy="265.9" r="1.5" fill="#00ffb9"/>
<circle cx="416.8" cy="265.8" r="1.5" fill="#003eff"/>
<circle cx="426.7" cy="266.0" r="1.5" fill="#00e5ff"/>
<circle cx="437.6" cy="265.8" r="1.5" fill="#002fff"/>
<circle cx="440.8" cy="265.9" r="1.5" fill="#00c7ff"/>
<circle cx="444.6" cy="265.6" r="1.5" fill="#00ff97"/>
<circle cx="451.2" cy="266.1" r="1.5" fill="#00e2ff"/>
<circle cx="461.7" cy="265.9" r="1.5" fill="#0053ff"/>
<circle cx="468.7" cy="265.9" r="1.5" fill="#007dff"/>
<circle cx="475.5" cy="265.6" r="1.5" fill="#0090ff"/>
<circle cx="479.6" cy="265.3" r="1.5" fill="#0075ff"/>
<circle cx="489.9" cy="265.8" r="1.5" fill="#0085ff"/>
<circle cx="493.7" cy="265.6" r="1.5" fill="#00d6ff"/>
<circle cx="497.0" cy="265.8" r="1.5" fill="#00b8ff"/>
<circle cx="500.4" cy="265.6" r="1.5" fill="#1600ff"/>
<circle cx="503.7" cy="265.7" r="1.5" fill="#0045ff"/>
<circle cx="511.0" cy="266.1" r="1.5" fill="#0081ff"/>
<circle cx="517.8" cy="266.0" r="1.5" fill="#001cff"/>
<circle cx="521.2" cy="265.5" r="1.5" fill="#0057ff"/>
<circle cx="379.2" cy="269.0" r="1.5" fill="#00d2ff"/>
<circle cx="382.9" cy="269.0" r="1.5" fill="#00ceff"/>
<circle cx="390.4" cy="268.8" r="1.5" fill="#0027ff"/>
<circle cx="396.9" cy="269.3" r="1.5" fill="#001fff"/>
<circle cx="400.6" cy="268.7" r="1.5" fill="#f900ff"/>
<circle cx="404.2" cy="269.0" r="1.5" fill="#00c7ff"/>
<circle cx="411.3" cy="269.2" r="1.5" fill="#001cff"/>
<circle cx="414.9" cy="268.8" r="1.5" fill="#0031ff"/>
<circle cx="418.1" cy="268.9" r="1.5" fill="#00bdff"/>
<circle cx="421.7" cy="269.0" r="1.5" fill="#008bff"/>
<circle cx="425.1" cy="269.1" r="1.5" fill="#0023ff"/>
<circle cx="449.4" cy="269.0" r="1.5" fill="#009fff"/>
<circle cx="453.5" cy="268.8" r="1.5" fill="#005fff"/>
<circle cx="457.0" cy="269.2" r="1.5" fill="#0037ff"/>
<circle cx="460.4" cy="268.9" r="1.5" fill="#00ffab"/>
<circle cx="463.8" cy="268.9" r="1.5" fill="#0045ff"/>
<circle cx="467.1" cy="268.6" r="1.5" fill="#0063ff"/>
<circle cx="470.5" cy="268.7" r="1.5" fill="#005bff"/>
<circle cx="473.7" cy="269.1" r="1.5" fill="#002aff"/>
<circle cx="477.7" cy="268.7" r="1.5" fill="#0021ff"/>
<circle cx="481.3" cy="268.9" r="1.5" fill="#00a0ff"/>
<circle cx="484.2" cy="268.9" r="1.5" fill="#0059ff"/>
<circle cx="488.3" cy="269.1" r="1.5" fill="#008bff"/>
<circle cx="491.6" cy="268.7" r="1.5" fill="#0071ff"/>
<circle cx="494.9" cy="268.9" r="1.5" fill="#00d3ff"/>
<circle cx="498.6" cy="268.9" r="1.5" fill="#007cff"/>
<circle cx="502.4" cy="269.2" r="1.5" fill="#005aff"/>
<circle cx="509.1" cy="269.0" r="1.5" fill="#00c4ff"/>
<circle cx="512.7" cy="269.1" r="1.5" fill="#00ffc1"/>
<circle cx="516.8" cy="269.0" r="1.5" fill="#00fff1"/>
<circle cx="519.7" cy="269.0" r="1.5" fill="#0049ff"/>
<circle cx="523.2" cy="268.8" r="1.5" fill="#001bff"/>
<circle cx="381.6" cy="271.9" r="1.5" fill="#0071ff"/>
<circle cx="384.9" cy="271.7" r="1.5" fill="#0027ff"/>
<circle cx="388.4" cy="272.0" r="1.5" fill="#0019ff"/>
<circle cx="409.5" cy="271.9" r="1.5" fill="#00c1ff"/>
<circle cx="413.0" cy="271.9" r="1.5" fill="#00feff"/>
<circle cx="416.4" cy="271.9" r="1.5" fill="#0200ff"/>
<circle cx="427.2" cy="271.8" r="1.5" fill="#00ffb9"/>
<circle cx="430.2" cy="272.1" r="1.5" fill="#00d9ff"/>
<circle cx="434.0" cy="271.8" r="1.5" fill="#0044ff"/>
<circle cx="438.0" cy="271.5" r="1.5" fill="#00c3ff"/>
<circle cx="440.9" cy="272.1" r="1.5" fill="#00ff8b"/>
<circle cx="461.6" cy="271.8" r="1.5" fill="#00a4ff"/>
<circle cx="475.7" cy="271.6" r="1.5" fill="#0082ff"/>
<circle cx="486.6" cy="272.0" r="1.5" fill="#0073ff"/>
<circle cx="490.1" cy="272.0" r="1.5" fill="#0091ff"/>
<circle cx="493.4" cy="272.0" r="1.5" fill="#00e2ff"/>
<circle cx="496.8" cy="272.2" r="1.5" fill="#00bbff"/>
<circle cx="500.3" cy="271.9" r="1.5" fill="#00b0ff"/>
<circle cx="507.3" cy="272.0" r="1.5" fill="#0055ff"/>
<circle cx="510.7" cy="272.1" r="1.5" fill="#0094ff"/>
<circle cx="514.4" cy="271.8" r="1.5" fill="#00a3ff"/>
<circle cx="517.8" cy="271.9" r="1.5" fill="#008eff"/>
<circle cx="379.4" cy="274.5" r="1.5" fill="#009eff"/>
<circle cx="397.3" cy="274.8" r="1.5" fill="#0048ff"/>
<circle cx="403.9" cy="275.3" r="1.5" fill="#00ffc1"/>
<circle cx="407.4" cy="275.0" r="1.5" fill="#0037ff"/>
<circle cx="414.7" cy="274.7" r="1.5" fill="#0081ff"/>
<circle cx="428.7" cy="274.6" r="1.5" fill="#0025ff"/>
<circle cx="432.4" cy="275.1" r="1.5" fill="#00c0ff"/>
<circle cx="439.1" cy="275.4" r="1.5" fill="#00a4ff"/>
<circle cx="442.5" cy="274.8" r="1.5" fill="#0076ff"/>
<circle cx="453.2" cy="274.9" r="1.5" fill="#0074ff"/>
<circle cx="456.9" cy="274.9" r="1.5" fill="#00d8ff"/>
<circle cx="463.5" cy="275.0" r="1.5" fill="#0041ff"/>
<circle cx="470.7" cy="275.1" r="1.5" fill="#0070ff"/>
<circle cx="474.1" cy="274.9" r="1.5" fill="#004eff"/>
<circle cx="477.3" cy="274.8" r="1.5" fill="#0071ff"/>
<circle cx="491.6" cy="274.9" r="1.5" fill="#0045ff"/>
<circle cx="494.8" cy="275.1" r="1.5" fill="#00ff97"/>
<circle cx="498.7" cy="274.9" r="1.5" fill="#0035ff"/>
<circle cx="509.0" cy="275.0" r="1.5" fill="#0013ff"/>
<circle cx="512.6" cy="274.7" r="1.5" fill="#007cff"/>
<circle cx="523.0" cy="274.9" r="1.5" fill="#00ffda"/>
<circle cx="388.5" cy="278.1" r="1.5" fill="#0062ff"/>
<circle cx="391.8" cy="278.1" r="1.5" fill="#0047ff"/>
<circle cx="398.8" cy="277.7" r="1.5" fill="#00c8ff"/>
<circle cx="409.5" cy="277.6" r="1.5" fill="#0075ff"/>
<circle cx="412.8" cy="277.6" r="1.5" fill="#0044ff"/>
<circle cx="416.8" cy="278.0" r="1.5" fill="#0044ff"/>
<circle cx="426.9" cy="277.8" r="1.5" fill="#0078ff"/>
<circle cx="437.4" cy="277.9" r="1.5" fill="#005cff"/>
<circle cx="440.4" cy="278.1" r="1.5" fill="#0087ff"/>
<circle cx="455.0" cy="277.8" r="1.5" fill="#00b3ff"/>
<circle cx="465.6" cy="278.0" r="1.5" fill="#00ccff"/>
<circle cx="468.8" cy="278.0" r="1.5" fill="#00ffe7"/>
<circle cx="472.5" cy="278.2" r="1.5" fill="#008bff"/>
<circle cx="475.8" cy="278.0" r="1.5" fill="#0053ff"/>
<circle cx="479.4" cy="278.0" r="1.5" fill="#00a8ff"/>
<circle cx="483.0" cy="278.1" r="1.5" fill="#0077ff"/>
<circle cx="489.7" cy="278.5" r="1.5" fill="#00ffd6"/>
<circle cx="493.2" cy="278.0" r="1.5" fill="#00a8ff"/>
<circle cx="503.6" cy="277.9" r="1.5" fill="#00ffae"/>
<circle cx="507.3" cy="277.8" r="1.5" fill="#0042ff"/>
<circle cx="517.8" cy="278.0" r="1.5" fill="#005aff"/>
<circle cx="521.1" cy="278.0" r="1.5" fill="#0072ff"/>
<circle cx="379.8" cy="280.9" r="1.5" fill="#00ffe6"/>
<circle cx="383.3" cy="281.0" r="1.5" fill="#0020ff"/>
<circle cx="386.8" cy="280.9" r="1.5" fill="#005eff"/>
<circle cx="400.4" cy="281.2" r="1.5" fill="#0090ff"/>
<circle cx="407.6" cy="281.0" r="1.5" fill="#00ff82"/>
<circle cx="418.0" cy="280.8" r="1.5" fill="#001bff"/>
<circle cx="425.3" cy="281.0" r="1.5" fill="#0012ff"/>
<circle cx="435.3" cy="280.8" r="1.5" fill="#004eff"/>
<circle cx="459.9" cy="281.2" r="1.5" fill="#0021ff"/>
<circle cx="463.7" cy="280.9" r="1.5" fill="#004dff"/>
<circle cx="470.5" cy="280.9" r="1.5" fill="#0070ff"/>
<circle cx="474.0" cy="280.8" r="1.5" fill="#00d2ff"/>
<circle cx="477.5" cy="281.0" r="1.5" fill="#00ffc8"/>
<circle cx="488.1" cy="280.9" r="1.5" fill="#00c2ff"/>
<circle cx="498.4" cy="281.0" r="1.5" fill="#0073ff"/>
<circle cx="502.0" cy="281.0" r="1.5" fill="#003fff"/>
<circle cx="505.5" cy="281.1" r="1.5" fill="#00ffb0"/>
<circle cx="512.6" cy="280.9" r="1.5" fill="#00ffbd"/>
<circle cx="516.0" cy="280.7" r="1.5" fill="#0094ff"/>
<circle cx="522.9" cy="280.9" r="1.5" fill="#0014ff"/>
<circle cx="388.2" cy="283.6" r="1.5" fill="#0074ff"/>
<circle cx="395.5" cy="284.0" r="1.5" fill="#0030ff"/>
<circle cx="409.4" cy="284.1" r="1.5" fill="#00dfff"/>
<circle cx="412.7" cy="284.0" r="1.5" fill="#003fff"/>
<circle cx="419.5" cy="283.7" r="1.5" fill="#0076ff"/>
<circle cx="430.3" cy="284.0" r="1.5" fill="#003cff"/>
<circle cx="433.9" cy="284.0" r="1.5" fill="#00f7ff"/>
<circle cx="444.3" cy="284.2" r="1.5" fill="#0086ff"/>
<circle cx="451.3" cy="283.6" r="1.5" fill="#00e3ff"/>
<circle cx="468.5" cy="283.9" r="1.5" fill="#0093ff"/>
<circle cx="482.7" cy="283.9" r="1.5" fill="#00a3ff"/>
<circle cx="500.5" cy="284.0" r="1.5" fill="#00a8ff"/>
<circle cx="507.0" cy="284.0" r="1.5" fill="#00d7ff"/>
<circle cx="379.8" cy="287.1" r="1.5" fill="#0029ff"/>
<circle cx="383.8" cy="286.9" r="1.5" fill="#0029ff"/>
<circle cx="394.0" cy="287.4" r="1.5" fill="#009bff"/>
<circle cx="400.8" cy="287.0" r="1.5" fill="#007bff"/>
<circle cx="407.7" cy="286.9" r="1.5" fill="#00d7ff"/>
<circle cx="410.6" cy="287.0" r="1.5" fill="#0023ff"/>
<circle cx="414.6" cy="287.0" r="1.5" fill="#008dff"/>
<circle cx="418.1" cy="287.0" r="1.5" fill="#00daff"/>
<circle cx="421.7" cy="287.1" r="1.5" fill="#0054ff"/>
<circle cx="425.6" cy="287.0" r="1.5" fill="#0042ff"/>
<circle cx="428.7" cy="287.1" r="1.5" fill="#00adff"/>
<circle cx="432.1" cy="287.1" r="1.5" fill="#0020ff"/>
<circle cx="438.9" cy="287.2" r="1.5" fill="#0012ff"/>
<circle cx="442.5" cy="287.1" r="1.5" fill="#00ffff"/>
<circle cx="449.8" cy="287.2" r="1.5" fill="#001bff"/>
<circle cx="452.8" cy="286.7" r="1.5" fill="#003bff"/>
<circle cx="456.5" cy="287.1" r="1.5" fill="#004eff"/>
<circle cx="474.1" cy="286.8" r="1.5" fill="#0076ff"/>
<circle cx="491.7" cy="287.1" r="1.5" fill="#0079ff"/>
<circle cx="498.3" cy="287.2" r="1.5" fill="#002dff"/>
</g>
<rect x="378" y="3.0" width="144.3" height="141.0" fill="none" stroke="#b8b8b8" stroke-width="1.15"/>
<rect x="378" y="146.2" width="144.3" height="145" fill="none" stroke="#b8b8b8" stroke-width="1.15"/>
<g transform="translate(370.700,147.600) rotate(-90) scale(0.16932,0.16932)" fill="#111" ><text xml:space="preserve" x="0.00" y="0.00" font-family='"Liberation Serif", serif' font-style="italic" font-size="100">F</text><text xml:space="preserve" x="61.08" y="0.00" font-family='"Liberation Serif", serif' font-style="normal" font-size="100"> = 2, </text><text xml:space="preserve" x="267.47" y="0.00" font-family='"Liberation Serif", serif' font-style="italic" font-size="100">ρ</text><text xml:space="preserve" x="315.47" y="0.00" font-family='"Liberation Serif", serif' font-style="normal" font-size="100"> ≈ 0.2065</text></g>
<g transform="translate(370.900,284.900) rotate(-90) scale(0.16835,0.16835)" fill="#111" ><text xml:space="preserve" x="0.00" y="0.00" font-family='"Liberation Serif", serif' font-style="italic" font-size="100">F</text><text xml:space="preserve" x="61.08" y="0.00" font-family='"Liberation Serif", serif' font-style="normal" font-size="100"> = 1, </text><text xml:space="preserve" x="267.47" y="0.00" font-family='"Liberation Serif", serif' font-style="italic" font-size="100">ρ</text><text xml:space="preserve" x="315.47" y="0.00" font-family='"Liberation Serif", serif' font-style="normal" font-size="100"> ≈ 0.4647</text></g>
<defs><linearGradient id="cb" x1="0" y1="1" x2="0" y2="0"><stop offset="0" stop-color="rgb(255,0,40)"/><stop offset="0.03" stop-color="rgb(255,0,0)"/><stop offset="0.215" stop-color="rgb(255,255,0)"/><stop offset="0.4" stop-color="rgb(0,255,0)"/><stop offset="0.586" stop-color="rgb(0,255,255)"/><stop offset="0.77" stop-color="rgb(0,0,255)"/><stop offset="0.954" stop-color="rgb(255,0,255)"/><stop offset="1" stop-color="rgb(255,0,191)"/></linearGradient></defs>
<rect x="524.8" y="54.6" width="11.200000000000045" height="219.00000000000003" fill="url(#cb)" stroke="#333" stroke-width="0.8"/>
<line x1="536.0" y1="54.60" x2="539.2" y2="54.60" stroke="#333" stroke-width="0.8"/>
<g transform="translate(542.965,59.000) scale(0.10876,0.12181)" fill="#2a2a2a" ><text xml:space="preserve" x="0.00" y="0.00" font-family='"Liberation Serif", serif' font-style="normal" font-size="100">0.100</text></g>
<line x1="536.0" y1="81.98" x2="539.2" y2="81.98" stroke="#333" stroke-width="0.8"/>
<g transform="translate(542.965,86.375) scale(0.10876,0.12181)" fill="#2a2a2a" ><text xml:space="preserve" x="0.00" y="0.00" font-family='"Liberation Serif", serif' font-style="normal" font-size="100">0.075</text></g>
<line x1="536.0" y1="109.35" x2="539.2" y2="109.35" stroke="#333" stroke-width="0.8"/>
<g transform="translate(542.965,113.750) scale(0.10876,0.12181)" fill="#2a2a2a" ><text xml:space="preserve" x="0.00" y="0.00" font-family='"Liberation Serif", serif' font-style="normal" font-size="100">0.050</text></g>
<line x1="536.0" y1="136.73" x2="539.2" y2="136.73" stroke="#333" stroke-width="0.8"/>
<g transform="translate(542.965,141.125) scale(0.10876,0.12181)" fill="#2a2a2a" ><text xml:space="preserve" x="0.00" y="0.00" font-family='"Liberation Serif", serif' font-style="normal" font-size="100">0.025</text></g>
<line x1="536.0" y1="164.10" x2="539.2" y2="164.10" stroke="#333" stroke-width="0.8"/>
<g transform="translate(542.965,168.500) scale(0.10876,0.12181)" fill="#2a2a2a" ><text xml:space="preserve" x="0.00" y="0.00" font-family='"Liberation Serif", serif' font-style="normal" font-size="100">0.000</text></g>
<line x1="536.0" y1="191.48" x2="539.2" y2="191.48" stroke="#333" stroke-width="0.8"/>
<g transform="translate(543.456,195.875) scale(0.10876,0.12181)" fill="#2a2a2a" ><text xml:space="preserve" x="0.00" y="0.00" font-family='"Liberation Serif", serif' font-style="normal" font-size="100">−</text><text xml:space="preserve" x="64.39" y="0.00" font-family='"Liberation Serif", serif' font-style="normal" font-size="100">0.025</text></g>
<line x1="536.0" y1="218.85" x2="539.2" y2="218.85" stroke="#333" stroke-width="0.8"/>
<g transform="translate(543.456,223.250) scale(0.10876,0.12181)" fill="#2a2a2a" ><text xml:space="preserve" x="0.00" y="0.00" font-family='"Liberation Serif", serif' font-style="normal" font-size="100">−</text><text xml:space="preserve" x="64.39" y="0.00" font-family='"Liberation Serif", serif' font-style="normal" font-size="100">0.050</text></g>
<line x1="536.0" y1="246.23" x2="539.2" y2="246.23" stroke="#333" stroke-width="0.8"/>
<g transform="translate(543.456,250.625) scale(0.10876,0.12181)" fill="#2a2a2a" ><text xml:space="preserve" x="0.00" y="0.00" font-family='"Liberation Serif", serif' font-style="normal" font-size="100">−</text><text xml:space="preserve" x="64.39" y="0.00" font-family='"Liberation Serif", serif' font-style="normal" font-size="100">0.075</text></g>
<line x1="536.0" y1="273.60" x2="539.2" y2="273.60" stroke="#333" stroke-width="0.8"/>
<g transform="translate(543.456,278.000) scale(0.10876,0.12181)" fill="#2a2a2a" ><text xml:space="preserve" x="0.00" y="0.00" font-family='"Liberation Serif", serif' font-style="normal" font-size="100">−</text><text xml:space="preserve" x="64.39" y="0.00" font-family='"Liberation Serif", serif' font-style="normal" font-size="100">0.100</text></g>
<g transform="translate(536.152,40.885) scale(0.22381,0.21489)" fill="#111" ><text xml:space="preserve" x="0.00" y="0.00" font-family='"Liberation Serif", serif' font-style="italic" font-size="100">v</text></g>
<g transform="translate(546.567,43.400) scale(0.16667,0.13261)" fill="#111" ><text xml:space="preserve" x="0.00" y="0.00" font-family='"Liberation Serif", serif' font-style="italic" font-size="100">x</text></g>
</svg>
</body></html>
